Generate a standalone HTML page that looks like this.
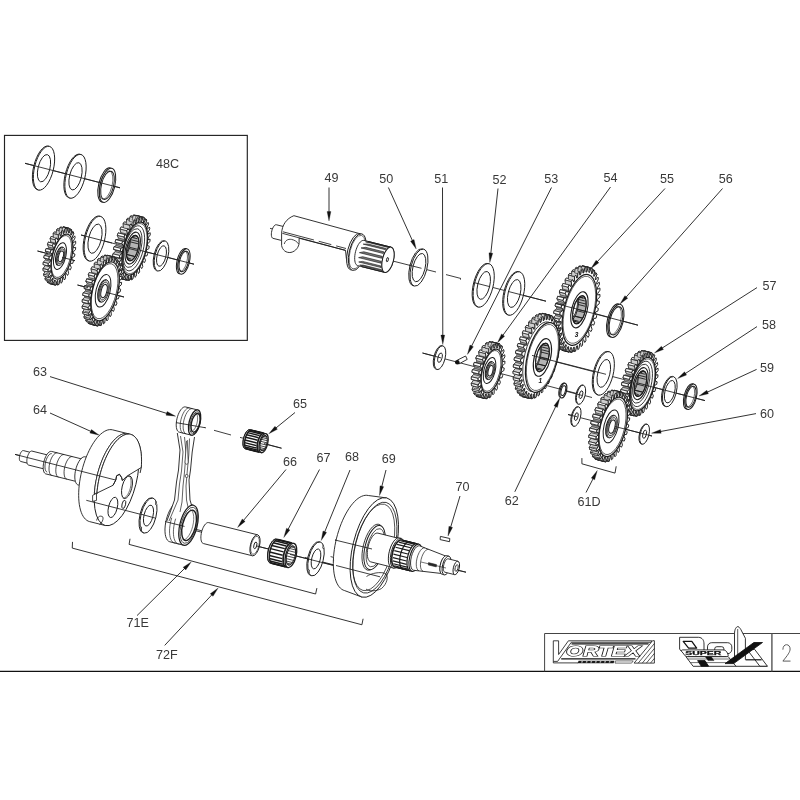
<!DOCTYPE html>
<html><head><meta charset="utf-8"><title>Exploded view</title>
<style>
html,body{margin:0;padding:0;background:#fff;}
body{width:800px;height:800px;overflow:hidden;}
svg{display:block;font-family:"Liberation Sans",sans-serif;}
svg{will-change:transform;}
</style></head>
<body>
<svg width="800" height="800" viewBox="0 0 800 800">
<defs>
<clipPath id="cl0"><ellipse cx="132.67" cy="248.07" rx="5.48" ry="13.04" transform="rotate(14 132.67 248.07)"/></clipPath>
<clipPath id="cl1"><ellipse cx="579.4" cy="309.8" rx="6.03" ry="14.36" transform="rotate(14 579.4 309.8)"/></clipPath>
<clipPath id="cl2"><ellipse cx="542.42" cy="357.48" rx="6.13" ry="14.59" transform="rotate(14 542.42 357.48)"/></clipPath>
<clipPath id="cl3"><ellipse cx="640.47" cy="383.67" rx="5.51" ry="13.12" transform="rotate(14 640.47 383.67)"/></clipPath>
<clipPath id="cl4"><ellipse cx="263.6" cy="443.2" rx="3.29" ry="7.84" transform="rotate(14 263.6 443.2)"/></clipPath>
<clipPath id="cl5"><ellipse cx="290.9" cy="555.5" rx="4.17" ry="9.92" transform="rotate(14 290.9 555.5)"/></clipPath>
</defs>
<rect x="0" y="0" width="800" height="800" fill="#fff"/>
<rect x="4.5" y="135.4" width="242.8" height="205" fill="none" stroke="#222" stroke-width="1.15"/>
<line x1="0" y1="671.4" x2="800" y2="671.4" stroke="#111" stroke-width="1.15"/>
<path d="M544.6 671.4 L544.6 633.5 L810 633.5" fill="none" stroke="#444" stroke-width="1.0"/>
<line x1="771.9" y1="633.5" x2="771.9" y2="671.4" stroke="#555" stroke-width="1.4"/>
<line x1="25" y1="163.3" x2="120" y2="187.8" stroke="#1c1c1c" stroke-width="0.85"/>
<line x1="37.5" y1="251" x2="75" y2="260.7" stroke="#1c1c1c" stroke-width="0.85"/>
<line x1="81" y1="235" x2="194" y2="264.2" stroke="#1c1c1c" stroke-width="0.85"/>
<line x1="77.5" y1="285" x2="124" y2="297" stroke="#1c1c1c" stroke-width="0.85"/>
<ellipse cx="43.03" cy="167.96" rx="9.45" ry="22.5" transform="rotate(14 43.03 167.96)" fill="#fff" stroke="#1c1c1c" stroke-width="0.9" />
<ellipse cx="44" cy="168.2" rx="9.45" ry="22.5" transform="rotate(14 44 168.2)" fill="#fff" stroke="#1c1c1c" stroke-width="0.9" />
<ellipse cx="44" cy="168.2" rx="5.88" ry="14" transform="rotate(14 44 168.2)" fill="#fff" stroke="#1c1c1c" stroke-width="0.9" />
<ellipse cx="74.53" cy="176.06" rx="9.45" ry="22.5" transform="rotate(14 74.53 176.06)" fill="#fff" stroke="#1c1c1c" stroke-width="0.9" />
<ellipse cx="75.5" cy="176.3" rx="9.45" ry="22.5" transform="rotate(14 75.5 176.3)" fill="#fff" stroke="#1c1c1c" stroke-width="0.9" />
<ellipse cx="75.5" cy="176.3" rx="5.88" ry="14" transform="rotate(14 75.5 176.3)" fill="#fff" stroke="#1c1c1c" stroke-width="0.9" />
<ellipse cx="106.04" cy="184.94" rx="7.35" ry="17.5" transform="rotate(14 106.04 184.94)" fill="#fff" stroke="#1c1c1c" stroke-width="1.0" />
<ellipse cx="107.5" cy="185.3" rx="7.35" ry="17.5" transform="rotate(14 107.5 185.3)" fill="#fff" stroke="#1c1c1c" stroke-width="1.0" />
<ellipse cx="107.5" cy="185.3" rx="6.09" ry="14.5" transform="rotate(14 107.5 185.3)" fill="#fff" stroke="#1c1c1c" stroke-width="1.0" />
<ellipse cx="106.04" cy="184.94" rx="6.09" ry="14.5" transform="rotate(14 106.04 184.94)" fill="none" stroke="#1c1c1c" stroke-width="0.6" />
<line x1="25" y1="163.3" x2="120" y2="187.8" stroke="#1c1c1c" stroke-width="0.85"/>
<path d="M66.85 257.96 L68.4 259.67 L67.69 262.1 L65.66 262.05 L65.12 263.59 L66.24 266.29 L65.32 268.53 L63.58 267.37 L62.92 268.74 L63.53 272.26 L62.45 274.19 L61.1 271.99 L60.36 273.12 L60.44 277.26 L59.26 278.75 L58.38 275.64 L57.6 276.46 L57.13 280.98 L55.93 281.96 L55.57 278.12 L54.79 278.58 L53.81 283.2 L52.65 283.61 L52.83 279.27 L52.1 279.34 L50.67 283.82 L49.62 283.63 L50.33 279.03 L49.69 278.71 L47.89 282.77 L47.01 282 L48.21 277.41 L47.7 276.72 L45.63 280.13 L44.97 278.82 L46.59 274.51 L46.24 273.49 L44.02 276.05 L43.62 274.28 L45.56 270.5 L45.39 269.2 L43.15 270.77 L43.04 268.63 L45.2 265.6 L45.22 264.11 L43.09 264.59 L43.26 262.21 L45.51 260.11 L45.71 258.51 L43.82 257.87 L44.27 255.4 L46.48 254.35 L46.86 252.73 L45.31 251.01 L46.02 248.58 L48.05 248.64 L48.58 247.09 L47.47 244.4 L48.39 242.15 L50.13 243.32 L50.79 241.94 L50.18 238.42 L51.26 236.49 L52.61 238.7 L53.35 237.56 L53.27 233.43 L54.45 231.93 L55.33 235.04 L56.11 234.22 L56.58 229.71 L57.78 228.73 L58.14 232.57 L58.92 232.11 L59.9 227.48 L61.06 227.07 L60.87 231.42 L61.61 231.34 L63.04 226.87 L64.09 227.06 L63.38 231.66 L64.02 231.97 L65.82 227.91 L66.7 228.69 L65.5 233.27 L66.01 233.96 L68.08 230.55 L68.74 231.86 L67.12 236.17 L67.47 237.19 L69.69 234.63 L70.09 236.41 L68.14 240.19 L68.32 241.48 L70.56 239.91 L70.67 242.05 L68.51 245.08 L68.49 246.57 L70.62 246.09 L70.45 248.47 L68.2 250.57 L68 252.17 L69.89 252.81 L69.44 255.29 L67.23 256.34 Z" fill="#8a8a8a" stroke="#1c1c1c" stroke-width="0.8" stroke-linejoin="round" />
<path d="M55.95 280.47 L50.9 279.21 L49.89 278.82 L48.95 278.17 L48.1 277.27 L47.34 276.13 L46.69 274.76 L46.15 273.18 L45.72 271.41 L45.42 269.46 L45.25 267.35 L45.2 265.11 L45.28 262.77 L45.48 260.34 L45.81 257.86 L46.26 255.35 L46.83 252.84 L47.51 250.36 L48.29 247.93 L49.16 245.59 L50.12 243.35 L51.15 241.24 L52.24 239.29 L53.39 237.51 L54.57 235.93 L55.78 234.56 L57 233.42 L58.21 232.52 L59.42 231.87 L60.59 231.47 L61.73 231.34 L62.81 231.47 L67.85 232.73 L67.85 232.73 L66.77 232.6 L65.64 232.73 L64.46 233.13 L63.26 233.78 L62.04 234.68 L60.82 235.82 L59.61 237.19 L58.43 238.77 L57.29 240.55 L56.19 242.5 L55.16 244.61 L54.2 246.85 L53.33 249.19 L52.55 251.62 L51.87 254.1 L51.31 256.61 L50.86 259.12 L50.53 261.6 L50.32 264.03 L50.24 266.37 L50.29 268.61 L50.47 270.71 L50.77 272.67 L51.19 274.44 L51.73 276.02 L52.39 277.39 L53.14 278.53 L53.99 279.43 L54.93 280.08 L55.95 280.47 Z" fill="#9a9a9a" stroke="none"/>
<path d="M57.7 284.87 L57.88 280.52 L52.83 279.27 L52.65 283.61 Z" fill="#cfcfcf" stroke="#1c1c1c" stroke-width="0.6" stroke-linejoin="round" />
<path d="M59.83 279.83 L58.86 284.46 L53.81 283.2 L54.79 278.58 Z" fill="#cfcfcf" stroke="#1c1c1c" stroke-width="0.6" stroke-linejoin="round" />
<path d="M58.86 284.46 L57.7 284.87 L52.65 283.61 L53.81 283.2 Z" fill="#fff" stroke="#1c1c1c" stroke-width="0.75" stroke-linejoin="round" />
<path d="M54.66 284.89 L55.38 280.28 L50.33 279.03 L49.62 283.63 Z" fill="#cfcfcf" stroke="#1c1c1c" stroke-width="0.6" stroke-linejoin="round" />
<path d="M57.15 280.6 L55.72 285.07 L50.67 283.82 L52.1 279.34 Z" fill="#cfcfcf" stroke="#1c1c1c" stroke-width="0.6" stroke-linejoin="round" />
<path d="M55.72 285.07 L54.66 284.89 L49.62 283.63 L50.67 283.82 Z" fill="#fff" stroke="#1c1c1c" stroke-width="0.75" stroke-linejoin="round" />
<path d="M52.05 283.26 L53.25 278.67 L48.21 277.41 L47.01 282 Z" fill="#cfcfcf" stroke="#1c1c1c" stroke-width="0.6" stroke-linejoin="round" />
<path d="M54.74 279.97 L52.93 284.03 L47.89 282.77 L49.69 278.71 Z" fill="#cfcfcf" stroke="#1c1c1c" stroke-width="0.6" stroke-linejoin="round" />
<path d="M52.93 284.03 L52.05 283.26 L47.01 282 L47.89 282.77 Z" fill="#fff" stroke="#1c1c1c" stroke-width="0.75" stroke-linejoin="round" />
<path d="M50.01 280.08 L51.63 275.77 L46.59 274.51 L44.97 278.82 Z" fill="#cfcfcf" stroke="#1c1c1c" stroke-width="0.6" stroke-linejoin="round" />
<path d="M52.75 277.98 L50.67 281.39 L45.63 280.13 L47.7 276.72 Z" fill="#cfcfcf" stroke="#1c1c1c" stroke-width="0.6" stroke-linejoin="round" />
<path d="M50.67 281.39 L50.01 280.08 L44.97 278.82 L45.63 280.13 Z" fill="#fff" stroke="#1c1c1c" stroke-width="0.75" stroke-linejoin="round" />
<path d="M48.66 275.53 L50.61 271.76 L45.56 270.5 L43.62 274.28 Z" fill="#cfcfcf" stroke="#1c1c1c" stroke-width="0.6" stroke-linejoin="round" />
<path d="M51.28 274.75 L49.06 277.31 L44.02 276.05 L46.24 273.49 Z" fill="#cfcfcf" stroke="#1c1c1c" stroke-width="0.6" stroke-linejoin="round" />
<path d="M49.06 277.31 L48.66 275.53 L43.62 274.28 L44.02 276.05 Z" fill="#fff" stroke="#1c1c1c" stroke-width="0.75" stroke-linejoin="round" />
<path d="M48.08 269.89 L50.24 266.86 L45.2 265.6 L43.04 268.63 Z" fill="#cfcfcf" stroke="#1c1c1c" stroke-width="0.6" stroke-linejoin="round" />
<path d="M50.44 270.46 L48.2 272.03 L43.15 270.77 L45.39 269.2 Z" fill="#cfcfcf" stroke="#1c1c1c" stroke-width="0.6" stroke-linejoin="round" />
<path d="M48.2 272.03 L48.08 269.89 L43.04 268.63 L43.15 270.77 Z" fill="#fff" stroke="#1c1c1c" stroke-width="0.75" stroke-linejoin="round" />
<path d="M48.3 263.47 L50.55 261.37 L45.51 260.11 L43.26 262.21 Z" fill="#cfcfcf" stroke="#1c1c1c" stroke-width="0.6" stroke-linejoin="round" />
<path d="M50.26 265.37 L48.13 265.85 L43.09 264.59 L45.22 264.11 Z" fill="#cfcfcf" stroke="#1c1c1c" stroke-width="0.6" stroke-linejoin="round" />
<path d="M48.13 265.85 L48.3 263.47 L43.26 262.21 L43.09 264.59 Z" fill="#fff" stroke="#1c1c1c" stroke-width="0.75" stroke-linejoin="round" />
<path d="M49.32 256.66 L51.52 255.6 L46.48 254.35 L44.27 255.4 Z" fill="#cfcfcf" stroke="#1c1c1c" stroke-width="0.6" stroke-linejoin="round" />
<path d="M50.76 259.77 L48.86 259.13 L43.82 257.87 L45.71 258.51 Z" fill="#cfcfcf" stroke="#1c1c1c" stroke-width="0.6" stroke-linejoin="round" />
<path d="M48.86 259.13 L49.32 256.66 L44.27 255.4 L43.82 257.87 Z" fill="#fff" stroke="#1c1c1c" stroke-width="0.75" stroke-linejoin="round" />
<path d="M51.06 249.84 L53.09 249.89 L48.05 248.64 L46.02 248.58 Z" fill="#cfcfcf" stroke="#1c1c1c" stroke-width="0.6" stroke-linejoin="round" />
<path d="M51.9 253.99 L50.36 252.27 L45.31 251.01 L46.86 252.73 Z" fill="#cfcfcf" stroke="#1c1c1c" stroke-width="0.6" stroke-linejoin="round" />
<path d="M50.36 252.27 L51.06 249.84 L46.02 248.58 L45.31 251.01 Z" fill="#fff" stroke="#1c1c1c" stroke-width="0.75" stroke-linejoin="round" />
<path d="M53.44 243.41 L55.18 244.57 L50.13 243.32 L48.39 242.15 Z" fill="#cfcfcf" stroke="#1c1c1c" stroke-width="0.6" stroke-linejoin="round" />
<path d="M53.63 248.35 L52.52 245.66 L47.47 244.4 L48.58 247.09 Z" fill="#cfcfcf" stroke="#1c1c1c" stroke-width="0.6" stroke-linejoin="round" />
<path d="M52.52 245.66 L53.44 243.41 L48.39 242.15 L47.47 244.4 Z" fill="#fff" stroke="#1c1c1c" stroke-width="0.75" stroke-linejoin="round" />
<path d="M56.3 237.75 L57.65 239.95 L52.61 238.7 L51.26 236.49 Z" fill="#cfcfcf" stroke="#1c1c1c" stroke-width="0.6" stroke-linejoin="round" />
<path d="M55.84 243.2 L55.22 239.68 L50.18 238.42 L50.79 241.94 Z" fill="#cfcfcf" stroke="#1c1c1c" stroke-width="0.6" stroke-linejoin="round" />
<path d="M55.22 239.68 L56.3 237.75 L51.26 236.49 L50.18 238.42 Z" fill="#fff" stroke="#1c1c1c" stroke-width="0.75" stroke-linejoin="round" />
<path d="M59.49 233.19 L60.37 236.3 L55.33 235.04 L54.45 231.93 Z" fill="#cfcfcf" stroke="#1c1c1c" stroke-width="0.6" stroke-linejoin="round" />
<path d="M58.4 238.82 L58.32 234.69 L53.27 233.43 L53.35 237.56 Z" fill="#cfcfcf" stroke="#1c1c1c" stroke-width="0.6" stroke-linejoin="round" />
<path d="M58.32 234.69 L59.49 233.19 L54.45 231.93 L53.27 233.43 Z" fill="#fff" stroke="#1c1c1c" stroke-width="0.75" stroke-linejoin="round" />
<path d="M62.83 229.98 L63.18 233.83 L58.14 232.57 L57.78 228.73 Z" fill="#cfcfcf" stroke="#1c1c1c" stroke-width="0.6" stroke-linejoin="round" />
<path d="M61.16 235.48 L61.62 230.97 L56.58 229.71 L56.11 234.22 Z" fill="#cfcfcf" stroke="#1c1c1c" stroke-width="0.6" stroke-linejoin="round" />
<path d="M61.62 230.97 L62.83 229.98 L57.78 228.73 L56.58 229.71 Z" fill="#fff" stroke="#1c1c1c" stroke-width="0.75" stroke-linejoin="round" />
<path d="M66.1 228.33 L65.92 232.68 L60.87 231.42 L61.06 227.07 Z" fill="#cfcfcf" stroke="#1c1c1c" stroke-width="0.6" stroke-linejoin="round" />
<path d="M63.97 233.37 L64.94 228.74 L59.9 227.48 L58.92 232.11 Z" fill="#cfcfcf" stroke="#1c1c1c" stroke-width="0.6" stroke-linejoin="round" />
<path d="M64.94 228.74 L66.1 228.33 L61.06 227.07 L59.9 227.48 Z" fill="#fff" stroke="#1c1c1c" stroke-width="0.75" stroke-linejoin="round" />
<path d="M69.14 228.31 L68.42 232.92 L63.38 231.66 L64.09 227.06 Z" fill="#cfcfcf" stroke="#1c1c1c" stroke-width="0.6" stroke-linejoin="round" />
<path d="M66.65 232.6 L68.08 228.13 L63.04 226.87 L61.61 231.34 Z" fill="#cfcfcf" stroke="#1c1c1c" stroke-width="0.6" stroke-linejoin="round" />
<path d="M68.08 228.13 L69.14 228.31 L64.09 227.06 L63.04 226.87 Z" fill="#fff" stroke="#1c1c1c" stroke-width="0.75" stroke-linejoin="round" />
<path d="M71.75 229.94 L70.55 234.53 L65.5 233.27 L66.7 228.69 Z" fill="#cfcfcf" stroke="#1c1c1c" stroke-width="0.6" stroke-linejoin="round" />
<path d="M69.06 233.23 L70.87 229.17 L65.82 227.91 L64.02 231.97 Z" fill="#cfcfcf" stroke="#1c1c1c" stroke-width="0.6" stroke-linejoin="round" />
<path d="M70.87 229.17 L71.75 229.94 L66.7 228.69 L65.82 227.91 Z" fill="#fff" stroke="#1c1c1c" stroke-width="0.75" stroke-linejoin="round" />
<path d="M73.79 233.12 L72.17 237.43 L67.12 236.17 L68.74 231.86 Z" fill="#cfcfcf" stroke="#1c1c1c" stroke-width="0.6" stroke-linejoin="round" />
<path d="M71.05 235.22 L73.13 231.81 L68.08 230.55 L66.01 233.96 Z" fill="#cfcfcf" stroke="#1c1c1c" stroke-width="0.6" stroke-linejoin="round" />
<path d="M73.13 231.81 L73.79 233.12 L68.74 231.86 L68.08 230.55 Z" fill="#fff" stroke="#1c1c1c" stroke-width="0.75" stroke-linejoin="round" />
<path d="M71.9 259.21 L73.44 260.93 L72.74 263.36 L70.71 263.31 L70.17 264.85 L71.28 267.54 L70.36 269.79 L68.62 268.63 L67.96 270 L68.58 273.52 L67.5 275.45 L66.15 273.25 L65.4 274.38 L65.48 278.51 L64.31 280.01 L63.43 276.9 L62.64 277.72 L62.18 282.23 L60.97 283.22 L60.62 279.37 L59.83 279.83 L58.86 284.46 L57.7 284.87 L57.88 280.52 L57.15 280.6 L55.72 285.07 L54.66 284.89 L55.38 280.28 L54.74 279.97 L52.93 284.03 L52.05 283.26 L53.25 278.67 L52.75 277.98 L50.67 281.39 L50.01 280.08 L51.63 275.77 L51.28 274.75 L49.06 277.31 L48.66 275.53 L50.61 271.76 L50.44 270.46 L48.2 272.03 L48.08 269.89 L50.24 266.86 L50.26 265.37 L48.13 265.85 L48.3 263.47 L50.55 261.37 L50.76 259.77 L48.86 259.13 L49.32 256.66 L51.52 255.6 L51.9 253.99 L50.36 252.27 L51.06 249.84 L53.09 249.89 L53.63 248.35 L52.52 245.66 L53.44 243.41 L55.18 244.57 L55.84 243.2 L55.22 239.68 L56.3 237.75 L57.65 239.95 L58.4 238.82 L58.32 234.69 L59.49 233.19 L60.37 236.3 L61.16 235.48 L61.62 230.97 L62.83 229.98 L63.18 233.83 L63.97 233.37 L64.94 228.74 L66.1 228.33 L65.92 232.68 L66.65 232.6 L68.08 228.13 L69.14 228.31 L68.42 232.92 L69.06 233.23 L70.87 229.17 L71.75 229.94 L70.55 234.53 L71.05 235.22 L73.13 231.81 L73.79 233.12 L72.17 237.43 L72.52 238.45 L74.74 235.89 L75.14 237.67 L73.19 241.44 L73.36 242.74 L75.6 241.17 L75.72 243.31 L73.56 246.34 L73.54 247.83 L75.67 247.35 L75.5 249.73 L73.25 251.83 L73.04 253.43 L74.94 254.07 L74.48 256.54 L72.28 257.6 Z" fill="#fff" stroke="#1c1c1c" stroke-width="0.95" stroke-linejoin="round" />
<ellipse cx="61.9" cy="256.6" rx="9.69" ry="23.07" transform="rotate(14 61.9 256.6)" fill="#fff" stroke="#1c1c1c" stroke-width="1.25" />
<ellipse cx="61.51" cy="256.5" rx="9.01" ry="21.46" transform="rotate(14 61.51 256.5)" fill="none" stroke="#1c1c1c" stroke-width="0.7" />
<ellipse cx="59.96" cy="256.12" rx="5.76" ry="13.72" transform="rotate(14 59.96 256.12)" fill="none" stroke="#1c1c1c" stroke-width="1.0" />
<ellipse cx="59.96" cy="256.12" rx="3.92" ry="9.34" transform="rotate(14 59.96 256.12)" fill="#d8d8d8" stroke="#1c1c1c" stroke-width="1.1" />
<ellipse cx="60.93" cy="256.36" rx="3.92" ry="9.34" transform="rotate(14 60.93 256.36)" fill="#e4e4e4" stroke="#1c1c1c" stroke-width="0.8" />
<ellipse cx="60.93" cy="256.36" rx="3.19" ry="7.59" transform="rotate(14 60.93 256.36)" fill="none" stroke="#1c1c1c" stroke-width="0.7" />
<ellipse cx="60.93" cy="256.36" rx="2.33" ry="5.55" transform="rotate(14 60.93 256.36)" fill="#fff" stroke="#1c1c1c" stroke-width="1.0" />
<ellipse cx="94.03" cy="238.46" rx="9.66" ry="23" transform="rotate(14 94.03 238.46)" fill="#fff" stroke="#1c1c1c" stroke-width="0.9" />
<ellipse cx="95" cy="238.7" rx="9.66" ry="23" transform="rotate(14 95 238.7)" fill="#fff" stroke="#1c1c1c" stroke-width="0.9" />
<ellipse cx="95" cy="238.7" rx="6.3" ry="15" transform="rotate(14 95 238.7)" fill="#fff" stroke="#1c1c1c" stroke-width="0.9" />
<path d="M139.31 249.85 L140.93 251.63 L140.2 254.16 L138.07 254.15 L137.52 255.78 L138.72 258.51 L137.78 260.87 L135.92 259.79 L135.25 261.26 L135.97 264.81 L134.88 266.88 L133.38 264.77 L132.62 266.02 L132.82 270.21 L131.62 271.88 L130.57 268.87 L129.75 269.82 L129.44 274.44 L128.19 275.64 L127.63 271.86 L126.81 272.48 L125.98 277.29 L124.75 277.95 L124.71 273.6 L123.92 273.85 L122.62 278.62 L121.47 278.71 L121.95 274 L121.23 273.87 L119.53 278.36 L118.52 277.87 L119.5 273.04 L118.89 272.54 L116.87 276.52 L116.04 275.48 L117.48 270.78 L117 269.92 L114.77 273.19 L114.17 271.66 L115.98 267.31 L115.67 266.15 L113.33 268.55 L112.99 266.6 L115.08 262.82 L114.95 261.41 L112.62 262.82 L112.56 260.55 L114.84 257.54 L114.89 255.95 L112.69 256.29 L112.91 253.81 L115.25 251.72 L115.48 250.03 L113.53 249.3 L114.01 246.73 L116.31 245.66 L116.71 243.96 L115.09 242.18 L115.82 239.66 L117.95 239.66 L118.5 238.04 L117.3 235.3 L118.23 232.95 L120.09 234.03 L120.77 232.55 L120.05 229 L121.14 226.94 L122.63 229.04 L123.4 227.79 L123.19 223.6 L124.39 221.93 L125.44 224.95 L126.26 223.99 L126.58 219.37 L127.83 218.17 L128.38 221.96 L129.21 221.34 L130.04 216.52 L131.27 215.86 L131.31 220.22 L132.1 219.97 L133.4 215.19 L134.55 215.1 L134.06 219.81 L134.78 219.95 L136.48 215.46 L137.5 215.94 L136.51 220.77 L137.13 221.28 L139.14 217.3 L139.97 218.33 L138.54 223.04 L139.02 223.89 L141.25 220.62 L141.85 222.15 L140.04 226.5 L140.35 227.66 L142.69 225.27 L143.03 227.22 L140.93 230.99 L141.07 232.4 L143.39 230.99 L143.46 233.27 L141.18 236.27 L141.13 237.86 L143.32 237.52 L143.11 240 L140.76 242.09 L140.53 243.78 L142.49 244.52 L142.01 247.08 L139.71 248.15 Z" fill="#8a8a8a" stroke="#1c1c1c" stroke-width="0.8" stroke-linejoin="round" />
<path d="M128.07 275.57 L121.28 273.88 L120.14 273.44 L119.07 272.7 L118.11 271.69 L117.26 270.4 L116.52 268.85 L115.91 267.07 L115.43 265.06 L115.09 262.86 L114.89 260.48 L114.83 257.95 L114.92 255.3 L115.15 252.56 L115.53 249.75 L116.04 246.92 L116.68 244.08 L117.44 241.28 L118.32 238.54 L119.31 235.88 L120.39 233.35 L121.56 230.97 L122.8 228.77 L124.09 226.76 L125.43 224.97 L126.79 223.42 L128.17 222.13 L129.54 221.12 L130.9 220.38 L132.23 219.93 L133.51 219.78 L134.73 219.93 L141.53 221.63 L141.53 221.63 L140.3 221.48 L139.02 221.63 L137.7 222.07 L136.34 222.81 L134.96 223.83 L133.58 225.12 L132.22 226.66 L130.88 228.45 L129.59 230.46 L128.35 232.67 L127.19 235.05 L126.1 237.58 L125.12 240.23 L124.24 242.97 L123.47 245.78 L122.83 248.61 L122.32 251.45 L121.95 254.25 L121.71 256.99 L121.63 259.64 L121.68 262.17 L121.88 264.55 L122.22 266.76 L122.7 268.76 L123.31 270.55 L124.05 272.09 L124.9 273.38 L125.87 274.4 L126.93 275.13 L128.07 275.57 Z" fill="#9a9a9a" stroke="none"/>
<path d="M131.54 279.65 L131.5 275.29 L124.71 273.6 L124.75 277.95 Z" fill="#cfcfcf" stroke="#1c1c1c" stroke-width="0.6" stroke-linejoin="round" />
<path d="M133.6 274.17 L132.77 278.99 L125.98 277.29 L126.81 272.48 Z" fill="#cfcfcf" stroke="#1c1c1c" stroke-width="0.6" stroke-linejoin="round" />
<path d="M132.77 278.99 L131.54 279.65 L124.75 277.95 L125.98 277.29 Z" fill="#fff" stroke="#1c1c1c" stroke-width="0.75" stroke-linejoin="round" />
<path d="M128.26 280.4 L128.75 275.69 L121.95 274 L121.47 278.71 Z" fill="#cfcfcf" stroke="#1c1c1c" stroke-width="0.6" stroke-linejoin="round" />
<path d="M130.71 275.54 L129.41 280.31 L122.62 278.62 L123.92 273.85 Z" fill="#cfcfcf" stroke="#1c1c1c" stroke-width="0.6" stroke-linejoin="round" />
<path d="M129.41 280.31 L128.26 280.4 L121.47 278.71 L122.62 278.62 Z" fill="#fff" stroke="#1c1c1c" stroke-width="0.75" stroke-linejoin="round" />
<path d="M125.31 279.57 L126.29 274.74 L119.5 273.04 L118.52 277.87 Z" fill="#cfcfcf" stroke="#1c1c1c" stroke-width="0.6" stroke-linejoin="round" />
<path d="M128.02 275.56 L126.33 280.05 L119.53 278.36 L121.23 273.87 Z" fill="#cfcfcf" stroke="#1c1c1c" stroke-width="0.6" stroke-linejoin="round" />
<path d="M126.33 280.05 L125.31 279.57 L118.52 277.87 L119.53 278.36 Z" fill="#fff" stroke="#1c1c1c" stroke-width="0.75" stroke-linejoin="round" />
<path d="M122.84 277.18 L124.27 272.47 L117.48 270.78 L116.04 275.48 Z" fill="#cfcfcf" stroke="#1c1c1c" stroke-width="0.6" stroke-linejoin="round" />
<path d="M125.68 274.23 L123.66 278.21 L116.87 276.52 L118.89 272.54 Z" fill="#cfcfcf" stroke="#1c1c1c" stroke-width="0.6" stroke-linejoin="round" />
<path d="M123.66 278.21 L122.84 277.18 L116.04 275.48 L116.87 276.52 Z" fill="#fff" stroke="#1c1c1c" stroke-width="0.75" stroke-linejoin="round" />
<path d="M120.96 273.35 L122.77 269 L115.98 267.31 L114.17 271.66 Z" fill="#cfcfcf" stroke="#1c1c1c" stroke-width="0.6" stroke-linejoin="round" />
<path d="M123.79 271.61 L121.56 274.89 L114.77 273.19 L117 269.92 Z" fill="#cfcfcf" stroke="#1c1c1c" stroke-width="0.6" stroke-linejoin="round" />
<path d="M121.56 274.89 L120.96 273.35 L114.17 271.66 L114.77 273.19 Z" fill="#fff" stroke="#1c1c1c" stroke-width="0.75" stroke-linejoin="round" />
<path d="M119.78 268.29 L121.88 264.52 L115.08 262.82 L112.99 266.6 Z" fill="#cfcfcf" stroke="#1c1c1c" stroke-width="0.6" stroke-linejoin="round" />
<path d="M122.46 267.84 L120.12 270.24 L113.33 268.55 L115.67 266.15 Z" fill="#cfcfcf" stroke="#1c1c1c" stroke-width="0.6" stroke-linejoin="round" />
<path d="M120.12 270.24 L119.78 268.29 L112.99 266.6 L113.33 268.55 Z" fill="#fff" stroke="#1c1c1c" stroke-width="0.75" stroke-linejoin="round" />
<path d="M119.35 262.24 L121.63 259.23 L114.84 257.54 L112.56 260.55 Z" fill="#cfcfcf" stroke="#1c1c1c" stroke-width="0.6" stroke-linejoin="round" />
<path d="M121.74 263.11 L119.42 264.51 L112.62 262.82 L114.95 261.41 Z" fill="#cfcfcf" stroke="#1c1c1c" stroke-width="0.6" stroke-linejoin="round" />
<path d="M119.42 264.51 L119.35 262.24 L112.56 260.55 L112.62 262.82 Z" fill="#fff" stroke="#1c1c1c" stroke-width="0.75" stroke-linejoin="round" />
<path d="M119.7 255.5 L122.04 253.41 L115.25 251.72 L112.91 253.81 Z" fill="#cfcfcf" stroke="#1c1c1c" stroke-width="0.6" stroke-linejoin="round" />
<path d="M121.68 257.64 L119.48 257.99 L112.69 256.29 L114.89 255.95 Z" fill="#cfcfcf" stroke="#1c1c1c" stroke-width="0.6" stroke-linejoin="round" />
<path d="M119.48 257.99 L119.7 255.5 L112.91 253.81 L112.69 256.29 Z" fill="#fff" stroke="#1c1c1c" stroke-width="0.75" stroke-linejoin="round" />
<path d="M120.8 248.42 L123.1 247.35 L116.31 245.66 L114.01 246.73 Z" fill="#cfcfcf" stroke="#1c1c1c" stroke-width="0.6" stroke-linejoin="round" />
<path d="M122.28 251.73 L120.32 250.99 L113.53 249.3 L115.48 250.03 Z" fill="#cfcfcf" stroke="#1c1c1c" stroke-width="0.6" stroke-linejoin="round" />
<path d="M120.32 250.99 L120.8 248.42 L114.01 246.73 L113.53 249.3 Z" fill="#fff" stroke="#1c1c1c" stroke-width="0.75" stroke-linejoin="round" />
<path d="M122.61 241.35 L124.74 241.36 L117.95 239.66 L115.82 239.66 Z" fill="#cfcfcf" stroke="#1c1c1c" stroke-width="0.6" stroke-linejoin="round" />
<path d="M123.5 245.65 L121.88 243.87 L115.09 242.18 L116.71 243.96 Z" fill="#cfcfcf" stroke="#1c1c1c" stroke-width="0.6" stroke-linejoin="round" />
<path d="M121.88 243.87 L122.61 241.35 L115.82 239.66 L115.09 242.18 Z" fill="#fff" stroke="#1c1c1c" stroke-width="0.75" stroke-linejoin="round" />
<path d="M125.03 234.64 L126.88 235.72 L120.09 234.03 L118.23 232.95 Z" fill="#cfcfcf" stroke="#1c1c1c" stroke-width="0.6" stroke-linejoin="round" />
<path d="M125.29 239.73 L124.09 236.99 L117.3 235.3 L118.5 238.04 Z" fill="#cfcfcf" stroke="#1c1c1c" stroke-width="0.6" stroke-linejoin="round" />
<path d="M124.09 236.99 L125.03 234.64 L118.23 232.95 L117.3 235.3 Z" fill="#fff" stroke="#1c1c1c" stroke-width="0.75" stroke-linejoin="round" />
<path d="M127.93 228.63 L129.43 230.73 L122.63 229.04 L121.14 226.94 Z" fill="#cfcfcf" stroke="#1c1c1c" stroke-width="0.6" stroke-linejoin="round" />
<path d="M127.56 234.25 L126.84 230.69 L120.05 229 L120.77 232.55 Z" fill="#cfcfcf" stroke="#1c1c1c" stroke-width="0.6" stroke-linejoin="round" />
<path d="M126.84 230.69 L127.93 228.63 L121.14 226.94 L120.05 229 Z" fill="#fff" stroke="#1c1c1c" stroke-width="0.75" stroke-linejoin="round" />
<path d="M131.18 223.62 L132.24 226.64 L125.44 224.95 L124.39 221.93 Z" fill="#cfcfcf" stroke="#1c1c1c" stroke-width="0.6" stroke-linejoin="round" />
<path d="M130.19 229.49 L129.98 225.29 L123.19 223.6 L123.4 227.79 Z" fill="#cfcfcf" stroke="#1c1c1c" stroke-width="0.6" stroke-linejoin="round" />
<path d="M129.98 225.29 L131.18 223.62 L124.39 221.93 L123.19 223.6 Z" fill="#fff" stroke="#1c1c1c" stroke-width="0.75" stroke-linejoin="round" />
<path d="M134.62 219.87 L135.18 223.65 L128.38 221.96 L127.83 218.17 Z" fill="#cfcfcf" stroke="#1c1c1c" stroke-width="0.6" stroke-linejoin="round" />
<path d="M133.05 225.68 L133.37 221.06 L126.58 219.37 L126.26 223.99 Z" fill="#cfcfcf" stroke="#1c1c1c" stroke-width="0.6" stroke-linejoin="round" />
<path d="M133.37 221.06 L134.62 219.87 L127.83 218.17 L126.58 219.37 Z" fill="#fff" stroke="#1c1c1c" stroke-width="0.75" stroke-linejoin="round" />
<path d="M138.06 217.55 L138.1 221.91 L131.31 220.22 L131.27 215.86 Z" fill="#cfcfcf" stroke="#1c1c1c" stroke-width="0.6" stroke-linejoin="round" />
<path d="M136 223.03 L136.83 218.21 L130.04 216.52 L129.21 221.34 Z" fill="#cfcfcf" stroke="#1c1c1c" stroke-width="0.6" stroke-linejoin="round" />
<path d="M136.83 218.21 L138.06 217.55 L131.27 215.86 L130.04 216.52 Z" fill="#fff" stroke="#1c1c1c" stroke-width="0.75" stroke-linejoin="round" />
<path d="M141.34 216.8 L140.85 221.51 L134.06 219.81 L134.55 215.1 Z" fill="#cfcfcf" stroke="#1c1c1c" stroke-width="0.6" stroke-linejoin="round" />
<path d="M138.89 221.66 L140.19 216.89 L133.4 215.19 L132.1 219.97 Z" fill="#cfcfcf" stroke="#1c1c1c" stroke-width="0.6" stroke-linejoin="round" />
<path d="M140.19 216.89 L141.34 216.8 L134.55 215.1 L133.4 215.19 Z" fill="#fff" stroke="#1c1c1c" stroke-width="0.75" stroke-linejoin="round" />
<path d="M144.29 217.63 L143.31 222.46 L136.51 220.77 L137.5 215.94 Z" fill="#cfcfcf" stroke="#1c1c1c" stroke-width="0.6" stroke-linejoin="round" />
<path d="M141.58 221.64 L143.27 217.15 L136.48 215.46 L134.78 219.95 Z" fill="#cfcfcf" stroke="#1c1c1c" stroke-width="0.6" stroke-linejoin="round" />
<path d="M143.27 217.15 L144.29 217.63 L137.5 215.94 L136.48 215.46 Z" fill="#fff" stroke="#1c1c1c" stroke-width="0.75" stroke-linejoin="round" />
<path d="M146.76 220.02 L145.33 224.73 L138.54 223.04 L139.97 218.33 Z" fill="#cfcfcf" stroke="#1c1c1c" stroke-width="0.6" stroke-linejoin="round" />
<path d="M143.92 222.97 L145.94 218.99 L139.14 217.3 L137.13 221.28 Z" fill="#cfcfcf" stroke="#1c1c1c" stroke-width="0.6" stroke-linejoin="round" />
<path d="M145.94 218.99 L146.76 220.02 L139.97 218.33 L139.14 217.3 Z" fill="#fff" stroke="#1c1c1c" stroke-width="0.75" stroke-linejoin="round" />
<path d="M146.1 251.55 L147.72 253.33 L146.99 255.85 L144.86 255.84 L144.31 257.47 L145.51 260.21 L144.57 262.56 L142.72 261.48 L142.04 262.95 L142.76 266.51 L141.67 268.57 L140.17 266.47 L139.41 267.71 L139.62 271.91 L138.42 273.58 L137.36 270.56 L136.55 271.52 L136.23 276.14 L134.98 277.33 L134.42 273.55 L133.6 274.17 L132.77 278.99 L131.54 279.65 L131.5 275.29 L130.71 275.54 L129.41 280.31 L128.26 280.4 L128.75 275.69 L128.02 275.56 L126.33 280.05 L125.31 279.57 L126.29 274.74 L125.68 274.23 L123.66 278.21 L122.84 277.18 L124.27 272.47 L123.79 271.61 L121.56 274.89 L120.96 273.35 L122.77 269 L122.46 267.84 L120.12 270.24 L119.78 268.29 L121.88 264.52 L121.74 263.11 L119.42 264.51 L119.35 262.24 L121.63 259.23 L121.68 257.64 L119.48 257.99 L119.7 255.5 L122.04 253.41 L122.28 251.73 L120.32 250.99 L120.8 248.42 L123.1 247.35 L123.5 245.65 L121.88 243.87 L122.61 241.35 L124.74 241.36 L125.29 239.73 L124.09 236.99 L125.03 234.64 L126.88 235.72 L127.56 234.25 L126.84 230.69 L127.93 228.63 L129.43 230.73 L130.19 229.49 L129.98 225.29 L131.18 223.62 L132.24 226.64 L133.05 225.68 L133.37 221.06 L134.62 219.87 L135.18 223.65 L136 223.03 L136.83 218.21 L138.06 217.55 L138.1 221.91 L138.89 221.66 L140.19 216.89 L141.34 216.8 L140.85 221.51 L141.58 221.64 L143.27 217.15 L144.29 217.63 L143.31 222.46 L143.92 222.97 L145.94 218.99 L146.76 220.02 L145.33 224.73 L145.81 225.59 L148.04 222.31 L148.64 223.85 L146.83 228.2 L147.14 229.36 L149.48 226.96 L149.82 228.91 L147.72 232.68 L147.86 234.09 L150.18 232.69 L150.25 234.96 L147.97 237.97 L147.92 239.56 L150.12 239.21 L149.9 241.7 L147.56 243.79 L147.32 245.47 L149.28 246.21 L148.8 248.78 L146.5 249.85 Z" fill="#fff" stroke="#1c1c1c" stroke-width="0.95" stroke-linejoin="round" />
<ellipse cx="134.8" cy="248.6" rx="11.43" ry="27.22" transform="rotate(14 134.8 248.6)" fill="#fff" stroke="#1c1c1c" stroke-width="1.25" />
<ellipse cx="134.8" cy="248.6" rx="10.82" ry="25.75" transform="rotate(14 134.8 248.6)" fill="none" stroke="#1c1c1c" stroke-width="0.6" />
<ellipse cx="133.64" cy="248.31" rx="9.72" ry="23.15" transform="rotate(14 133.64 248.31)" fill="none" stroke="#1c1c1c" stroke-width="0.8" />
<ellipse cx="132.67" cy="248.07" rx="8.35" ry="19.89" transform="rotate(14 132.67 248.07)" fill="none" stroke="#1c1c1c" stroke-width="0.8" />
<ellipse cx="132.67" cy="248.07" rx="6.85" ry="16.3" transform="rotate(14 132.67 248.07)" fill="#fff" stroke="#1c1c1c" stroke-width="1.1" />
<ellipse cx="132.67" cy="248.07" rx="5.48" ry="13.04" transform="rotate(14 132.67 248.07)" fill="#fff" stroke="#1c1c1c" stroke-width="1.0" />
<g clip-path="url(#cl0)">
<ellipse cx="132.67" cy="248.07" rx="5.48" ry="13.04" transform="rotate(14 132.67 248.07)" fill="#b4b4b4" stroke="#1c1c1c" stroke-width="0.5" />
<ellipse cx="124.18" cy="245.95" rx="4.6" ry="10.95" transform="rotate(14 124.18 245.95)" fill="#fff" stroke="#1c1c1c" stroke-width="0.8" />
<path d="M137.98 249.39L129.83 247.36M136.88 250.5L128.73 248.47M135.11 256.58L126.96 254.54M134.17 256.31L126.02 254.27M131.31 260.51L123.16 258.48M130.89 258.96L122.73 256.93M128.02 259.69L119.87 257.66M128.28 257.46L120.13 255.43M126.51 254.43L118.36 252.4M127.35 252.37L119.2 250.34M127.35 246.74L119.2 244.71M128.45 245.63L120.3 243.6M130.22 239.56L122.07 237.53M131.16 239.83L123.01 237.8M134.02 235.62L125.87 233.59M134.45 237.17L126.3 235.14M137.31 236.44L129.16 234.41M137.05 238.68L128.9 236.64M138.82 241.7L130.67 239.67M137.98 243.77L129.83 241.74" fill="none" stroke="#1c1c1c" stroke-width="0.9" stroke-linejoin="round" />
<ellipse cx="124.18" cy="245.95" rx="5.48" ry="13.04" transform="rotate(14 124.18 245.95)" fill="none" stroke="#1c1c1c" stroke-width="0.8" />
</g>
<ellipse cx="132.67" cy="248.07" rx="5.48" ry="13.04" transform="rotate(14 132.67 248.07)" fill="none" stroke="#1c1c1c" stroke-width="1.1" />
<line x1="81" y1="235" x2="112" y2="243" stroke="#1c1c1c" stroke-width="0.85"/>
<path d="M111.55 293.06 L113.09 294.8 L112.39 297.29 L110.32 297.38 L109.77 299.03 L110.96 301.6 L110.06 303.94 L108.22 303.1 L107.56 304.62 L108.33 307.91 L107.29 310.01 L105.74 308.28 L105 309.6 L105.33 313.48 L104.17 315.26 L102.99 312.69 L102.18 313.77 L102.06 318.08 L100.85 319.47 L100.07 316.17 L99.24 316.96 L98.67 321.53 L97.44 322.46 L97.11 318.57 L96.29 319.04 L95.29 323.67 L94.1 324.11 L94.22 319.79 L93.45 319.92 L92.06 324.43 L90.96 324.36 L91.53 319.79 L90.83 319.57 L89.11 323.77 L88.15 323.19 L89.15 318.55 L88.55 318 L86.57 321.72 L85.78 320.66 L87.17 316.14 L86.69 315.27 L84.54 318.37 L83.95 316.86 L85.67 312.65 L85.34 311.5 L83.1 313.84 L82.74 311.96 L84.71 308.23 L84.55 306.85 L82.31 308.33 L82.19 306.15 L84.34 303.05 L84.35 301.49 L82.2 302.06 L82.33 299.67 L84.57 297.33 L84.75 295.66 L82.78 295.29 L83.15 292.78 L85.39 291.3 L85.73 289.59 L84.02 288.29 L84.62 285.77 L86.77 285.21 L87.25 283.52 L85.88 281.36 L86.68 278.93 L88.65 279.3 L89.25 277.72 L88.27 274.77 L89.24 272.54 L90.95 273.83 L91.65 272.4 L91.1 268.8 L92.2 266.84 L93.57 269.01 L94.36 267.8 L94.25 263.68 L95.44 262.09 L96.42 265.04 L97.25 264.11 L97.6 259.64 L98.82 258.48 L99.38 262.09 L100.21 261.46 L101 256.83 L102.21 256.14 L102.32 260.27 L103.12 259.97 L104.32 255.37 L105.47 255.19 L105.12 259.65 L105.86 259.7 L107.43 255.32 L108.46 255.65 L107.67 260.28 L108.33 260.67 L110.18 256.68 L111.07 257.51 L109.87 262.11 L110.4 262.83 L112.48 259.4 L113.18 260.69 L111.62 265.07 L112.02 266.09 L114.23 263.36 L114.7 265.06 L112.85 269.05 L113.09 270.33 L115.35 268.41 L115.59 270.45 L113.51 273.88 L113.59 275.36 L115.8 274.33 L115.79 276.63 L113.58 279.36 L113.5 280.98 L115.56 280.88 L115.31 283.34 L113.06 285.26 L112.8 286.96 L114.65 287.8 L114.16 290.33 L111.95 291.36 Z" fill="#8a8a8a" stroke="#1c1c1c" stroke-width="0.8" stroke-linejoin="round" />
<path d="M97.52 321.28 L91.51 319.78 L90.23 319.29 L89.05 318.47 L87.98 317.34 L87.03 315.91 L86.21 314.2 L85.53 312.21 L85 309.98 L84.62 307.53 L84.4 304.88 L84.34 302.07 L84.44 299.13 L84.7 296.08 L85.11 292.96 L85.68 289.81 L86.39 286.66 L87.24 283.54 L88.22 280.5 L89.32 277.55 L90.52 274.74 L91.82 272.09 L93.19 269.64 L94.63 267.4 L96.11 265.42 L97.63 263.7 L99.16 262.26 L100.69 261.13 L102.2 260.32 L103.68 259.82 L105.1 259.65 L106.46 259.82 L112.48 261.32 L112.48 261.32 L111.12 261.15 L109.69 261.32 L108.22 261.82 L106.71 262.63 L105.18 263.76 L103.65 265.2 L102.13 266.92 L100.64 268.9 L99.21 271.14 L97.83 273.59 L96.54 276.24 L95.33 279.05 L94.24 282 L93.26 285.04 L92.41 288.16 L91.7 291.31 L91.13 294.46 L90.71 297.58 L90.46 300.63 L90.36 303.57 L90.42 306.38 L90.64 309.03 L91.02 311.48 L91.55 313.71 L92.23 315.7 L93.05 317.41 L94 318.84 L95.07 319.97 L96.25 320.79 L97.52 321.28 Z" fill="#9a9a9a" stroke="none"/>
<path d="M100.12 325.61 L100.24 321.29 L94.22 319.79 L94.1 324.11 Z" fill="#cfcfcf" stroke="#1c1c1c" stroke-width="0.6" stroke-linejoin="round" />
<path d="M102.31 320.54 L101.3 325.17 L95.29 323.67 L96.29 319.04 Z" fill="#cfcfcf" stroke="#1c1c1c" stroke-width="0.6" stroke-linejoin="round" />
<path d="M101.3 325.17 L100.12 325.61 L94.1 324.11 L95.29 323.67 Z" fill="#fff" stroke="#1c1c1c" stroke-width="0.75" stroke-linejoin="round" />
<path d="M96.98 325.86 L97.55 321.29 L91.53 319.79 L90.96 324.36 Z" fill="#cfcfcf" stroke="#1c1c1c" stroke-width="0.6" stroke-linejoin="round" />
<path d="M99.46 321.42 L98.07 325.93 L92.06 324.43 L93.45 319.92 Z" fill="#cfcfcf" stroke="#1c1c1c" stroke-width="0.6" stroke-linejoin="round" />
<path d="M98.07 325.93 L96.98 325.86 L90.96 324.36 L92.06 324.43 Z" fill="#fff" stroke="#1c1c1c" stroke-width="0.75" stroke-linejoin="round" />
<path d="M94.16 324.69 L95.16 320.05 L89.15 318.55 L88.15 323.19 Z" fill="#cfcfcf" stroke="#1c1c1c" stroke-width="0.6" stroke-linejoin="round" />
<path d="M96.85 321.07 L95.13 325.27 L89.11 323.77 L90.83 319.57 Z" fill="#cfcfcf" stroke="#1c1c1c" stroke-width="0.6" stroke-linejoin="round" />
<path d="M95.13 325.27 L94.16 324.69 L88.15 323.19 L89.11 323.77 Z" fill="#fff" stroke="#1c1c1c" stroke-width="0.75" stroke-linejoin="round" />
<path d="M91.79 322.16 L93.18 317.64 L87.17 316.14 L85.78 320.66 Z" fill="#cfcfcf" stroke="#1c1c1c" stroke-width="0.6" stroke-linejoin="round" />
<path d="M94.57 319.5 L92.59 323.22 L86.57 321.72 L88.55 318 Z" fill="#cfcfcf" stroke="#1c1c1c" stroke-width="0.6" stroke-linejoin="round" />
<path d="M92.59 323.22 L91.79 322.16 L85.78 320.66 L86.57 321.72 Z" fill="#fff" stroke="#1c1c1c" stroke-width="0.75" stroke-linejoin="round" />
<path d="M89.97 318.36 L91.68 314.15 L85.67 312.65 L83.95 316.86 Z" fill="#cfcfcf" stroke="#1c1c1c" stroke-width="0.6" stroke-linejoin="round" />
<path d="M92.71 316.77 L90.56 319.87 L84.54 318.37 L86.69 315.27 Z" fill="#cfcfcf" stroke="#1c1c1c" stroke-width="0.6" stroke-linejoin="round" />
<path d="M90.56 319.87 L89.97 318.36 L83.95 316.86 L84.54 318.37 Z" fill="#fff" stroke="#1c1c1c" stroke-width="0.75" stroke-linejoin="round" />
<path d="M88.75 313.46 L90.73 309.73 L84.71 308.23 L82.74 311.96 Z" fill="#cfcfcf" stroke="#1c1c1c" stroke-width="0.6" stroke-linejoin="round" />
<path d="M91.36 313 L89.12 315.34 L83.1 313.84 L85.34 311.5 Z" fill="#cfcfcf" stroke="#1c1c1c" stroke-width="0.6" stroke-linejoin="round" />
<path d="M89.12 315.34 L88.75 313.46 L82.74 311.96 L83.1 313.84 Z" fill="#fff" stroke="#1c1c1c" stroke-width="0.75" stroke-linejoin="round" />
<path d="M88.21 307.65 L90.36 304.55 L84.34 303.05 L82.19 306.15 Z" fill="#cfcfcf" stroke="#1c1c1c" stroke-width="0.6" stroke-linejoin="round" />
<path d="M90.57 308.35 L88.32 309.83 L82.31 308.33 L84.55 306.85 Z" fill="#cfcfcf" stroke="#1c1c1c" stroke-width="0.6" stroke-linejoin="round" />
<path d="M88.32 309.83 L88.21 307.65 L82.19 306.15 L82.31 308.33 Z" fill="#fff" stroke="#1c1c1c" stroke-width="0.75" stroke-linejoin="round" />
<path d="M88.35 301.17 L90.59 298.83 L84.57 297.33 L82.33 299.67 Z" fill="#cfcfcf" stroke="#1c1c1c" stroke-width="0.6" stroke-linejoin="round" />
<path d="M90.36 302.99 L88.22 303.56 L82.2 302.06 L84.35 301.49 Z" fill="#cfcfcf" stroke="#1c1c1c" stroke-width="0.6" stroke-linejoin="round" />
<path d="M88.22 303.56 L88.35 301.17 L82.33 299.67 L82.2 302.06 Z" fill="#fff" stroke="#1c1c1c" stroke-width="0.75" stroke-linejoin="round" />
<path d="M89.17 294.28 L91.41 292.8 L85.39 291.3 L83.15 292.78 Z" fill="#cfcfcf" stroke="#1c1c1c" stroke-width="0.6" stroke-linejoin="round" />
<path d="M90.76 297.16 L88.8 296.79 L82.78 295.29 L84.75 295.66 Z" fill="#cfcfcf" stroke="#1c1c1c" stroke-width="0.6" stroke-linejoin="round" />
<path d="M88.8 296.79 L89.17 294.28 L83.15 292.78 L82.78 295.29 Z" fill="#fff" stroke="#1c1c1c" stroke-width="0.75" stroke-linejoin="round" />
<path d="M90.64 287.27 L92.79 286.71 L86.77 285.21 L84.62 285.77 Z" fill="#cfcfcf" stroke="#1c1c1c" stroke-width="0.6" stroke-linejoin="round" />
<path d="M91.74 291.09 L90.04 289.79 L84.02 288.29 L85.73 289.59 Z" fill="#cfcfcf" stroke="#1c1c1c" stroke-width="0.6" stroke-linejoin="round" />
<path d="M90.04 289.79 L90.64 287.27 L84.62 285.77 L84.02 288.29 Z" fill="#fff" stroke="#1c1c1c" stroke-width="0.75" stroke-linejoin="round" />
<path d="M92.7 280.43 L94.66 280.8 L88.65 279.3 L86.68 278.93 Z" fill="#cfcfcf" stroke="#1c1c1c" stroke-width="0.6" stroke-linejoin="round" />
<path d="M93.26 285.02 L91.89 282.86 L85.88 281.36 L87.25 283.52 Z" fill="#cfcfcf" stroke="#1c1c1c" stroke-width="0.6" stroke-linejoin="round" />
<path d="M91.89 282.86 L92.7 280.43 L86.68 278.93 L85.88 281.36 Z" fill="#fff" stroke="#1c1c1c" stroke-width="0.75" stroke-linejoin="round" />
<path d="M95.26 274.04 L96.96 275.33 L90.95 273.83 L89.24 272.54 Z" fill="#cfcfcf" stroke="#1c1c1c" stroke-width="0.6" stroke-linejoin="round" />
<path d="M95.27 279.22 L94.28 276.27 L88.27 274.77 L89.25 277.72 Z" fill="#cfcfcf" stroke="#1c1c1c" stroke-width="0.6" stroke-linejoin="round" />
<path d="M94.28 276.27 L95.26 274.04 L89.24 272.54 L88.27 274.77 Z" fill="#fff" stroke="#1c1c1c" stroke-width="0.75" stroke-linejoin="round" />
<path d="M98.22 268.34 L99.59 270.51 L93.57 269.01 L92.2 266.84 Z" fill="#cfcfcf" stroke="#1c1c1c" stroke-width="0.6" stroke-linejoin="round" />
<path d="M97.67 273.9 L97.11 270.3 L91.1 268.8 L91.65 272.4 Z" fill="#cfcfcf" stroke="#1c1c1c" stroke-width="0.6" stroke-linejoin="round" />
<path d="M97.11 270.3 L98.22 268.34 L92.2 266.84 L91.1 268.8 Z" fill="#fff" stroke="#1c1c1c" stroke-width="0.75" stroke-linejoin="round" />
<path d="M101.46 263.59 L102.44 266.54 L96.42 265.04 L95.44 262.09 Z" fill="#cfcfcf" stroke="#1c1c1c" stroke-width="0.6" stroke-linejoin="round" />
<path d="M100.37 269.3 L100.27 265.18 L94.25 263.68 L94.36 267.8 Z" fill="#cfcfcf" stroke="#1c1c1c" stroke-width="0.6" stroke-linejoin="round" />
<path d="M100.27 265.18 L101.46 263.59 L95.44 262.09 L94.25 263.68 Z" fill="#fff" stroke="#1c1c1c" stroke-width="0.75" stroke-linejoin="round" />
<path d="M104.84 259.98 L105.4 263.59 L99.38 262.09 L98.82 258.48 Z" fill="#cfcfcf" stroke="#1c1c1c" stroke-width="0.6" stroke-linejoin="round" />
<path d="M103.26 265.6 L103.61 261.14 L97.6 259.64 L97.25 264.11 Z" fill="#cfcfcf" stroke="#1c1c1c" stroke-width="0.6" stroke-linejoin="round" />
<path d="M103.61 261.14 L104.84 259.98 L98.82 258.48 L97.6 259.64 Z" fill="#fff" stroke="#1c1c1c" stroke-width="0.75" stroke-linejoin="round" />
<path d="M108.23 257.64 L108.33 261.77 L102.32 260.27 L102.21 256.14 Z" fill="#cfcfcf" stroke="#1c1c1c" stroke-width="0.6" stroke-linejoin="round" />
<path d="M106.22 262.96 L107.02 258.33 L101 256.83 L100.21 261.46 Z" fill="#cfcfcf" stroke="#1c1c1c" stroke-width="0.6" stroke-linejoin="round" />
<path d="M107.02 258.33 L108.23 257.64 L102.21 256.14 L101 256.83 Z" fill="#fff" stroke="#1c1c1c" stroke-width="0.75" stroke-linejoin="round" />
<path d="M111.49 256.69 L111.14 261.15 L105.12 259.65 L105.47 255.19 Z" fill="#cfcfcf" stroke="#1c1c1c" stroke-width="0.6" stroke-linejoin="round" />
<path d="M109.14 261.47 L110.34 256.87 L104.32 255.37 L103.12 259.97 Z" fill="#cfcfcf" stroke="#1c1c1c" stroke-width="0.6" stroke-linejoin="round" />
<path d="M110.34 256.87 L111.49 256.69 L105.47 255.19 L104.32 255.37 Z" fill="#fff" stroke="#1c1c1c" stroke-width="0.75" stroke-linejoin="round" />
<path d="M114.48 257.15 L113.69 261.78 L107.67 260.28 L108.46 255.65 Z" fill="#cfcfcf" stroke="#1c1c1c" stroke-width="0.6" stroke-linejoin="round" />
<path d="M111.88 261.2 L113.44 256.82 L107.43 255.32 L105.86 259.7 Z" fill="#cfcfcf" stroke="#1c1c1c" stroke-width="0.6" stroke-linejoin="round" />
<path d="M113.44 256.82 L114.48 257.15 L108.46 255.65 L107.43 255.32 Z" fill="#fff" stroke="#1c1c1c" stroke-width="0.75" stroke-linejoin="round" />
<path d="M117.08 259.01 L115.88 263.61 L109.87 262.11 L111.07 257.51 Z" fill="#cfcfcf" stroke="#1c1c1c" stroke-width="0.6" stroke-linejoin="round" />
<path d="M114.34 262.17 L116.2 258.18 L110.18 256.68 L108.33 260.67 Z" fill="#cfcfcf" stroke="#1c1c1c" stroke-width="0.6" stroke-linejoin="round" />
<path d="M116.2 258.18 L117.08 259.01 L111.07 257.51 L110.18 256.68 Z" fill="#fff" stroke="#1c1c1c" stroke-width="0.75" stroke-linejoin="round" />
<path d="M119.19 262.19 L117.63 266.57 L111.62 265.07 L113.18 260.69 Z" fill="#cfcfcf" stroke="#1c1c1c" stroke-width="0.6" stroke-linejoin="round" />
<path d="M116.42 264.33 L118.5 260.9 L112.48 259.4 L110.4 262.83 Z" fill="#cfcfcf" stroke="#1c1c1c" stroke-width="0.6" stroke-linejoin="round" />
<path d="M118.5 260.9 L119.19 262.19 L113.18 260.69 L112.48 259.4 Z" fill="#fff" stroke="#1c1c1c" stroke-width="0.75" stroke-linejoin="round" />
<path d="M117.56 294.56 L119.11 296.3 L118.4 298.79 L116.33 298.88 L115.79 300.53 L116.97 303.1 L116.08 305.44 L114.24 304.6 L113.58 306.12 L114.35 309.41 L113.3 311.51 L111.76 309.78 L111.01 311.1 L111.34 314.98 L110.19 316.76 L109.01 314.19 L108.2 315.27 L108.07 319.58 L106.86 320.97 L106.09 317.67 L105.26 318.46 L104.68 323.03 L103.46 323.96 L103.13 320.07 L102.31 320.54 L101.3 325.17 L100.12 325.61 L100.24 321.29 L99.46 321.42 L98.07 325.93 L96.98 325.86 L97.55 321.29 L96.85 321.07 L95.13 325.27 L94.16 324.69 L95.16 320.05 L94.57 319.5 L92.59 323.22 L91.79 322.16 L93.18 317.64 L92.71 316.77 L90.56 319.87 L89.97 318.36 L91.68 314.15 L91.36 313 L89.12 315.34 L88.75 313.46 L90.73 309.73 L90.57 308.35 L88.32 309.83 L88.21 307.65 L90.36 304.55 L90.36 302.99 L88.22 303.56 L88.35 301.17 L90.59 298.83 L90.76 297.16 L88.8 296.79 L89.17 294.28 L91.41 292.8 L91.74 291.09 L90.04 289.79 L90.64 287.27 L92.79 286.71 L93.26 285.02 L91.89 282.86 L92.7 280.43 L94.66 280.8 L95.27 279.22 L94.28 276.27 L95.26 274.04 L96.96 275.33 L97.67 273.9 L97.11 270.3 L98.22 268.34 L99.59 270.51 L100.37 269.3 L100.27 265.18 L101.46 263.59 L102.44 266.54 L103.26 265.6 L103.61 261.14 L104.84 259.98 L105.4 263.59 L106.22 262.96 L107.02 258.33 L108.23 257.64 L108.33 261.77 L109.14 261.47 L110.34 256.87 L111.49 256.69 L111.14 261.15 L111.88 261.2 L113.44 256.82 L114.48 257.15 L113.69 261.78 L114.34 262.17 L116.2 258.18 L117.08 259.01 L115.88 263.61 L116.42 264.33 L118.5 260.9 L119.19 262.19 L117.63 266.57 L118.03 267.59 L120.24 264.86 L120.72 266.56 L118.86 270.55 L119.11 271.83 L121.36 269.91 L121.61 271.95 L119.53 275.38 L119.61 276.86 L121.82 275.83 L121.81 278.13 L119.6 280.86 L119.51 282.48 L121.58 282.38 L121.33 284.84 L119.07 286.76 L118.82 288.46 L120.66 289.3 L120.17 291.82 L117.97 292.86 Z" fill="#fff" stroke="#1c1c1c" stroke-width="0.95" stroke-linejoin="round" />
<ellipse cx="105" cy="291.3" rx="12.67" ry="30.18" transform="rotate(14 105 291.3)" fill="#fff" stroke="#1c1c1c" stroke-width="1.25" />
<ellipse cx="104.61" cy="291.2" rx="11.85" ry="28.22" transform="rotate(14 104.61 291.2)" fill="none" stroke="#1c1c1c" stroke-width="0.7" />
<ellipse cx="103.06" cy="290.82" rx="7.01" ry="16.68" transform="rotate(14 103.06 290.82)" fill="none" stroke="#1c1c1c" stroke-width="1.0" />
<ellipse cx="103.06" cy="290.82" rx="4.77" ry="11.36" transform="rotate(14 103.06 290.82)" fill="#d8d8d8" stroke="#1c1c1c" stroke-width="1.1" />
<ellipse cx="104.03" cy="291.06" rx="4.77" ry="11.36" transform="rotate(14 104.03 291.06)" fill="#e4e4e4" stroke="#1c1c1c" stroke-width="0.8" />
<ellipse cx="104.03" cy="291.06" rx="3.88" ry="9.23" transform="rotate(14 104.03 291.06)" fill="none" stroke="#1c1c1c" stroke-width="0.7" />
<ellipse cx="104.03" cy="291.06" rx="2.83" ry="6.75" transform="rotate(14 104.03 291.06)" fill="#fff" stroke="#1c1c1c" stroke-width="1.0" />
<ellipse cx="160.53" cy="255.76" rx="6.51" ry="15.5" transform="rotate(14 160.53 255.76)" fill="#fff" stroke="#1c1c1c" stroke-width="0.9" />
<ellipse cx="161.5" cy="256" rx="6.51" ry="15.5" transform="rotate(14 161.5 256)" fill="#fff" stroke="#1c1c1c" stroke-width="0.9" />
<ellipse cx="161.5" cy="256" rx="4.41" ry="10.5" transform="rotate(14 161.5 256)" fill="#fff" stroke="#1c1c1c" stroke-width="0.9" />
<ellipse cx="182.54" cy="261.14" rx="5.46" ry="13" transform="rotate(14 182.54 261.14)" fill="#fff" stroke="#1c1c1c" stroke-width="1.0" />
<ellipse cx="184" cy="261.5" rx="5.46" ry="13" transform="rotate(14 184 261.5)" fill="#fff" stroke="#1c1c1c" stroke-width="1.0" />
<ellipse cx="184" cy="261.5" rx="4.41" ry="10.5" transform="rotate(14 184 261.5)" fill="#fff" stroke="#1c1c1c" stroke-width="1.0" />
<ellipse cx="182.54" cy="261.14" rx="4.41" ry="10.5" transform="rotate(14 182.54 261.14)" fill="none" stroke="#1c1c1c" stroke-width="0.6" />
<line x1="140" y1="250.3" x2="194" y2="264.2" stroke="#1c1c1c" stroke-width="0.85"/>
<line x1="37.5" y1="251" x2="48" y2="253.7" stroke="#1c1c1c" stroke-width="0.85"/>
<line x1="62" y1="257.3" x2="75" y2="260.7" stroke="#1c1c1c" stroke-width="0.85"/>
<line x1="77.5" y1="285" x2="88" y2="287.7" stroke="#1c1c1c" stroke-width="0.85"/>
<line x1="106" y1="292.3" x2="124" y2="297" stroke="#1c1c1c" stroke-width="0.85"/>
<text x="156" y="167.5" font-size="12.6" fill="#383838" >48C</text>
<line x1="460" y1="279" x2="461" y2="279.3" stroke="#1c1c1c" stroke-width="0.85"/>
<line x1="474" y1="282.6" x2="546" y2="301.2" stroke="#1c1c1c" stroke-width="0.85"/>
<line x1="422.5" y1="353" x2="592" y2="397.5" stroke="#1c1c1c" stroke-width="0.85"/>
<line x1="556" y1="303" x2="638" y2="325.2" stroke="#1c1c1c" stroke-width="0.85"/>
<line x1="545" y1="359" x2="705" y2="400.6" stroke="#1c1c1c" stroke-width="0.85"/>
<line x1="568" y1="414.5" x2="652" y2="436" stroke="#1c1c1c" stroke-width="0.85"/>
<ellipse cx="482.73" cy="285.16" rx="9.37" ry="22.3" transform="rotate(14 482.73 285.16)" fill="#fff" stroke="#1c1c1c" stroke-width="0.9" />
<ellipse cx="483.7" cy="285.4" rx="9.37" ry="22.3" transform="rotate(14 483.7 285.4)" fill="#fff" stroke="#1c1c1c" stroke-width="0.9" />
<ellipse cx="483.7" cy="285.4" rx="6.01" ry="14.3" transform="rotate(14 483.7 285.4)" fill="#fff" stroke="#1c1c1c" stroke-width="0.9" />
<ellipse cx="513.23" cy="293.26" rx="9.37" ry="22.3" transform="rotate(14 513.23 293.26)" fill="#fff" stroke="#1c1c1c" stroke-width="0.9" />
<ellipse cx="514.2" cy="293.5" rx="9.37" ry="22.3" transform="rotate(14 514.2 293.5)" fill="#fff" stroke="#1c1c1c" stroke-width="0.9" />
<ellipse cx="514.2" cy="293.5" rx="6.01" ry="14.3" transform="rotate(14 514.2 293.5)" fill="#fff" stroke="#1c1c1c" stroke-width="0.9" />
<line x1="474" y1="282.6" x2="490" y2="286.7" stroke="#1c1c1c" stroke-width="0.85"/>
<line x1="508" y1="291.4" x2="546" y2="301.2" stroke="#1c1c1c" stroke-width="0.85"/>
<ellipse cx="439.03" cy="357.46" rx="5.12" ry="12.2" transform="rotate(14 439.03 357.46)" fill="#fff" stroke="#1c1c1c" stroke-width="0.9" />
<ellipse cx="440" cy="357.7" rx="5.12" ry="12.2" transform="rotate(14 440 357.7)" fill="#fff" stroke="#1c1c1c" stroke-width="0.9" />
<ellipse cx="440" cy="357.7" rx="2.02" ry="4.8" transform="rotate(14 440 357.7)" fill="#fff" stroke="#1c1c1c" stroke-width="0.9" />
<line x1="422.5" y1="353" x2="441" y2="357.9" stroke="#1c1c1c" stroke-width="0.85"/>
<path d="M589.03 312.34 L590.65 314.13 L589.94 316.68 L587.76 316.88 L587.21 318.62 L588.52 321.15 L587.64 323.59 L585.65 322.97 L584.99 324.61 L585.95 327.8 L584.93 330.06 L583.18 328.64 L582.44 330.13 L583.02 333.88 L581.89 335.9 L580.43 333.72 L579.62 335.02 L579.81 339.23 L578.6 340.95 L577.47 338.07 L576.62 339.14 L576.41 343.69 L575.16 345.06 L574.39 341.56 L573.52 342.37 L572.92 347.14 L571.66 348.11 L571.28 344.09 L570.42 344.62 L569.44 349.46 L568.21 350.01 L568.23 345.6 L567.4 345.83 L566.07 350.6 L564.91 350.71 L565.32 346.03 L564.55 345.95 L562.91 350.52 L561.85 350.19 L562.65 345.37 L561.95 344.99 L560.05 349.23 L559.11 348.47 L560.27 343.65 L559.68 342.98 L557.57 346.75 L556.79 345.59 L558.28 340.91 L557.79 339.97 L555.54 343.17 L554.93 341.63 L556.71 337.23 L556.36 336.04 L554.02 338.59 L553.61 336.72 L555.62 332.71 L555.41 331.32 L553.06 333.14 L552.85 330.99 L555.04 327.5 L554.97 325.93 L552.68 326.97 L552.69 324.6 L554.99 321.73 L555.07 320.04 L552.89 320.26 L553.11 317.75 L555.46 315.57 L555.68 313.81 L553.69 313.21 L554.11 310.62 L556.44 309.21 L556.81 307.41 L555.05 306.01 L555.67 303.43 L557.91 302.82 L558.4 301.05 L556.93 298.88 L557.73 296.37 L559.82 296.58 L560.43 294.89 L559.29 292.02 L560.24 289.66 L562.12 290.68 L562.82 289.12 L562.05 285.63 L563.13 283.48 L564.74 285.29 L565.52 283.89 L565.13 279.89 L566.3 278.02 L567.6 280.56 L568.44 279.37 L568.45 274.97 L569.68 273.42 L570.63 276.62 L571.5 275.68 L571.9 271 L573.16 269.83 L573.74 273.6 L574.61 272.93 L575.4 268.11 L576.65 267.35 L576.83 271.58 L577.68 271.2 L578.84 266.37 L580.04 266.04 L579.82 270.61 L580.63 270.53 L582.11 265.84 L583.23 265.95 L582.62 270.72 L583.36 270.95 L585.13 266.53 L586.14 267.07 L585.16 271.91 L585.81 272.44 L587.81 268.42 L588.68 269.38 L587.35 274.15 L587.89 274.96 L590.08 271.45 L590.78 272.81 L589.14 277.37 L589.56 278.44 L591.86 275.55 L592.37 277.26 L590.47 281.49 L590.75 282.78 L593.1 280.59 L593.41 282.6 L591.31 286.37 L591.45 287.85 L593.78 286.42 L593.88 288.69 L591.62 291.88 L591.62 293.51 L593.87 292.88 L593.75 295.33 L591.42 297.86 L591.26 299.6 L593.36 299.79 L593.03 302.35 L590.69 304.14 L590.39 305.93 L592.28 306.94 L591.75 309.53 L589.46 310.55 Z" fill="#8a8a8a" stroke="#1c1c1c" stroke-width="0.8" stroke-linejoin="round" />
<path d="M570.04 347.35 L563.92 345.83 L562.33 345.21 L560.85 344.19 L559.51 342.77 L558.32 340.98 L557.29 338.83 L556.44 336.34 L555.78 333.55 L555.3 330.48 L555.02 327.17 L554.95 323.65 L555.07 319.96 L555.39 316.14 L555.91 312.24 L556.62 308.29 L557.52 304.34 L558.58 300.44 L559.81 296.62 L561.18 292.93 L562.69 289.41 L564.31 286.1 L566.03 283.02 L567.83 280.23 L569.69 277.74 L571.59 275.59 L573.51 273.79 L575.43 272.37 L577.32 271.35 L579.17 270.73 L580.95 270.52 L582.65 270.73 L588.76 272.25 L588.76 272.25 L587.06 272.04 L585.28 272.25 L583.43 272.87 L581.54 273.9 L579.62 275.31 L577.7 277.11 L575.8 279.26 L573.94 281.75 L572.14 284.55 L570.42 287.62 L568.8 290.93 L567.29 294.46 L565.92 298.15 L564.69 301.96 L563.63 305.87 L562.74 309.81 L562.03 313.76 L561.51 317.66 L561.18 321.48 L561.06 325.17 L561.14 328.69 L561.42 332 L561.89 335.07 L562.56 337.87 L563.41 340.35 L564.43 342.5 L565.62 344.3 L566.96 345.71 L568.44 346.73 L570.04 347.35 Z" fill="#9a9a9a" stroke="none"/>
<path d="M574.32 351.53 L574.34 347.12 L568.23 345.6 L568.21 350.01 Z" fill="#cfcfcf" stroke="#1c1c1c" stroke-width="0.6" stroke-linejoin="round" />
<path d="M576.53 346.14 L575.56 350.98 L569.44 349.46 L570.42 344.62 Z" fill="#cfcfcf" stroke="#1c1c1c" stroke-width="0.6" stroke-linejoin="round" />
<path d="M575.56 350.98 L574.32 351.53 L568.21 350.01 L569.44 349.46 Z" fill="#fff" stroke="#1c1c1c" stroke-width="0.75" stroke-linejoin="round" />
<path d="M571.02 352.24 L571.44 347.55 L565.32 346.03 L564.91 350.71 Z" fill="#cfcfcf" stroke="#1c1c1c" stroke-width="0.6" stroke-linejoin="round" />
<path d="M573.51 347.35 L572.19 352.12 L566.07 350.6 L567.4 345.83 Z" fill="#cfcfcf" stroke="#1c1c1c" stroke-width="0.6" stroke-linejoin="round" />
<path d="M572.19 352.12 L571.02 352.24 L564.91 350.71 L566.07 350.6 Z" fill="#fff" stroke="#1c1c1c" stroke-width="0.75" stroke-linejoin="round" />
<path d="M567.96 351.72 L568.76 346.89 L562.65 345.37 L561.85 350.19 Z" fill="#cfcfcf" stroke="#1c1c1c" stroke-width="0.6" stroke-linejoin="round" />
<path d="M570.66 347.48 L569.03 352.04 L562.91 350.52 L564.55 345.95 Z" fill="#cfcfcf" stroke="#1c1c1c" stroke-width="0.6" stroke-linejoin="round" />
<path d="M569.03 352.04 L567.96 351.72 L561.85 350.19 L562.91 350.52 Z" fill="#fff" stroke="#1c1c1c" stroke-width="0.75" stroke-linejoin="round" />
<path d="M565.22 349.99 L566.39 345.17 L560.27 343.65 L559.11 348.47 Z" fill="#cfcfcf" stroke="#1c1c1c" stroke-width="0.6" stroke-linejoin="round" />
<path d="M568.06 346.52 L566.17 350.75 L560.05 349.23 L561.95 344.99 Z" fill="#cfcfcf" stroke="#1c1c1c" stroke-width="0.6" stroke-linejoin="round" />
<path d="M566.17 350.75 L565.22 349.99 L559.11 348.47 L560.05 349.23 Z" fill="#fff" stroke="#1c1c1c" stroke-width="0.75" stroke-linejoin="round" />
<path d="M562.9 347.11 L564.39 342.43 L558.28 340.91 L556.79 345.59 Z" fill="#cfcfcf" stroke="#1c1c1c" stroke-width="0.6" stroke-linejoin="round" />
<path d="M565.79 344.5 L563.68 348.28 L557.57 346.75 L559.68 342.98 Z" fill="#cfcfcf" stroke="#1c1c1c" stroke-width="0.6" stroke-linejoin="round" />
<path d="M563.68 348.28 L562.9 347.11 L556.79 345.59 L557.57 346.75 Z" fill="#fff" stroke="#1c1c1c" stroke-width="0.75" stroke-linejoin="round" />
<path d="M561.05 343.16 L562.83 338.75 L556.71 337.23 L554.93 341.63 Z" fill="#cfcfcf" stroke="#1c1c1c" stroke-width="0.6" stroke-linejoin="round" />
<path d="M563.91 341.49 L561.66 344.7 L555.54 343.17 L557.79 339.97 Z" fill="#cfcfcf" stroke="#1c1c1c" stroke-width="0.6" stroke-linejoin="round" />
<path d="M561.66 344.7 L561.05 343.16 L554.93 341.63 L555.54 343.17 Z" fill="#fff" stroke="#1c1c1c" stroke-width="0.75" stroke-linejoin="round" />
<path d="M559.72 338.24 L561.74 334.24 L555.62 332.71 L553.61 336.72 Z" fill="#cfcfcf" stroke="#1c1c1c" stroke-width="0.6" stroke-linejoin="round" />
<path d="M562.47 337.57 L560.14 340.12 L554.02 338.59 L556.36 336.04 Z" fill="#cfcfcf" stroke="#1c1c1c" stroke-width="0.6" stroke-linejoin="round" />
<path d="M560.14 340.12 L559.72 338.24 L553.61 336.72 L554.02 338.59 Z" fill="#fff" stroke="#1c1c1c" stroke-width="0.75" stroke-linejoin="round" />
<path d="M558.97 332.51 L561.16 329.02 L555.04 327.5 L552.85 330.99 Z" fill="#cfcfcf" stroke="#1c1c1c" stroke-width="0.6" stroke-linejoin="round" />
<path d="M561.52 332.84 L559.17 334.66 L553.06 333.14 L555.41 331.32 Z" fill="#cfcfcf" stroke="#1c1c1c" stroke-width="0.6" stroke-linejoin="round" />
<path d="M559.17 334.66 L558.97 332.51 L552.85 330.99 L553.06 333.14 Z" fill="#fff" stroke="#1c1c1c" stroke-width="0.75" stroke-linejoin="round" />
<path d="M558.8 326.13 L561.1 323.25 L554.99 321.73 L552.69 324.6 Z" fill="#cfcfcf" stroke="#1c1c1c" stroke-width="0.6" stroke-linejoin="round" />
<path d="M561.09 327.46 L558.79 328.49 L552.68 326.97 L554.97 325.93 Z" fill="#cfcfcf" stroke="#1c1c1c" stroke-width="0.6" stroke-linejoin="round" />
<path d="M558.79 328.49 L558.8 326.13 L552.69 324.6 L552.68 326.97 Z" fill="#fff" stroke="#1c1c1c" stroke-width="0.75" stroke-linejoin="round" />
<path d="M559.22 319.27 L561.57 317.1 L555.46 315.57 L553.11 317.75 Z" fill="#cfcfcf" stroke="#1c1c1c" stroke-width="0.6" stroke-linejoin="round" />
<path d="M561.18 321.56 L559 321.78 L552.89 320.26 L555.07 320.04 Z" fill="#cfcfcf" stroke="#1c1c1c" stroke-width="0.6" stroke-linejoin="round" />
<path d="M559 321.78 L559.22 319.27 L553.11 317.75 L552.89 320.26 Z" fill="#fff" stroke="#1c1c1c" stroke-width="0.75" stroke-linejoin="round" />
<path d="M560.23 312.15 L562.56 310.73 L556.44 309.21 L554.11 310.62 Z" fill="#cfcfcf" stroke="#1c1c1c" stroke-width="0.6" stroke-linejoin="round" />
<path d="M561.8 315.33 L559.8 314.73 L553.69 313.21 L555.68 313.81 Z" fill="#cfcfcf" stroke="#1c1c1c" stroke-width="0.6" stroke-linejoin="round" />
<path d="M559.8 314.73 L560.23 312.15 L554.11 310.62 L553.69 313.21 Z" fill="#fff" stroke="#1c1c1c" stroke-width="0.75" stroke-linejoin="round" />
<path d="M561.78 304.95 L564.02 304.34 L557.91 302.82 L555.67 303.43 Z" fill="#cfcfcf" stroke="#1c1c1c" stroke-width="0.6" stroke-linejoin="round" />
<path d="M562.92 308.94 L561.16 307.54 L555.05 306.01 L556.81 307.41 Z" fill="#cfcfcf" stroke="#1c1c1c" stroke-width="0.6" stroke-linejoin="round" />
<path d="M561.16 307.54 L561.78 304.95 L555.67 303.43 L555.05 306.01 Z" fill="#fff" stroke="#1c1c1c" stroke-width="0.75" stroke-linejoin="round" />
<path d="M563.84 297.89 L565.93 298.11 L559.82 296.58 L557.73 296.37 Z" fill="#cfcfcf" stroke="#1c1c1c" stroke-width="0.6" stroke-linejoin="round" />
<path d="M564.52 302.57 L563.05 300.41 L556.93 298.88 L558.4 301.05 Z" fill="#cfcfcf" stroke="#1c1c1c" stroke-width="0.6" stroke-linejoin="round" />
<path d="M563.05 300.41 L563.84 297.89 L557.73 296.37 L556.93 298.88 Z" fill="#fff" stroke="#1c1c1c" stroke-width="0.75" stroke-linejoin="round" />
<path d="M566.35 291.18 L568.23 292.21 L562.12 290.68 L560.24 289.66 Z" fill="#cfcfcf" stroke="#1c1c1c" stroke-width="0.6" stroke-linejoin="round" />
<path d="M566.54 296.41 L565.4 293.55 L559.29 292.02 L560.43 294.89 Z" fill="#cfcfcf" stroke="#1c1c1c" stroke-width="0.6" stroke-linejoin="round" />
<path d="M565.4 293.55 L566.35 291.18 L560.24 289.66 L559.29 292.02 Z" fill="#fff" stroke="#1c1c1c" stroke-width="0.75" stroke-linejoin="round" />
<path d="M569.24 285 L570.85 286.81 L564.74 285.29 L563.13 283.48 Z" fill="#cfcfcf" stroke="#1c1c1c" stroke-width="0.6" stroke-linejoin="round" />
<path d="M568.94 290.64 L568.16 287.16 L562.05 285.63 L562.82 289.12 Z" fill="#cfcfcf" stroke="#1c1c1c" stroke-width="0.6" stroke-linejoin="round" />
<path d="M568.16 287.16 L569.24 285 L563.13 283.48 L562.05 285.63 Z" fill="#fff" stroke="#1c1c1c" stroke-width="0.75" stroke-linejoin="round" />
<path d="M572.42 279.54 L573.72 282.08 L567.6 280.56 L566.3 278.02 Z" fill="#cfcfcf" stroke="#1c1c1c" stroke-width="0.6" stroke-linejoin="round" />
<path d="M571.63 285.42 L571.24 281.42 L565.13 279.89 L565.52 283.89 Z" fill="#cfcfcf" stroke="#1c1c1c" stroke-width="0.6" stroke-linejoin="round" />
<path d="M571.24 281.42 L572.42 279.54 L566.3 278.02 L565.13 279.89 Z" fill="#fff" stroke="#1c1c1c" stroke-width="0.75" stroke-linejoin="round" />
<path d="M575.79 274.95 L576.75 278.15 L570.63 276.62 L569.68 273.42 Z" fill="#cfcfcf" stroke="#1c1c1c" stroke-width="0.6" stroke-linejoin="round" />
<path d="M574.55 280.9 L574.56 276.49 L568.45 274.97 L568.44 279.37 Z" fill="#cfcfcf" stroke="#1c1c1c" stroke-width="0.6" stroke-linejoin="round" />
<path d="M574.56 276.49 L575.79 274.95 L569.68 273.42 L568.45 274.97 Z" fill="#fff" stroke="#1c1c1c" stroke-width="0.75" stroke-linejoin="round" />
<path d="M579.28 271.36 L579.85 275.13 L573.74 273.6 L573.16 269.83 Z" fill="#cfcfcf" stroke="#1c1c1c" stroke-width="0.6" stroke-linejoin="round" />
<path d="M577.61 277.21 L578.02 272.53 L571.9 271 L571.5 275.68 Z" fill="#cfcfcf" stroke="#1c1c1c" stroke-width="0.6" stroke-linejoin="round" />
<path d="M578.02 272.53 L579.28 271.36 L573.16 269.83 L571.9 271 Z" fill="#fff" stroke="#1c1c1c" stroke-width="0.75" stroke-linejoin="round" />
<path d="M582.76 268.87 L582.94 273.1 L576.83 271.58 L576.65 267.35 Z" fill="#cfcfcf" stroke="#1c1c1c" stroke-width="0.6" stroke-linejoin="round" />
<path d="M580.72 274.45 L581.51 269.63 L575.4 268.11 L574.61 272.93 Z" fill="#cfcfcf" stroke="#1c1c1c" stroke-width="0.6" stroke-linejoin="round" />
<path d="M581.51 269.63 L582.76 268.87 L576.65 267.35 L575.4 268.11 Z" fill="#fff" stroke="#1c1c1c" stroke-width="0.75" stroke-linejoin="round" />
<path d="M586.15 267.56 L585.93 272.13 L579.82 270.61 L580.04 266.04 Z" fill="#cfcfcf" stroke="#1c1c1c" stroke-width="0.6" stroke-linejoin="round" />
<path d="M583.79 272.72 L584.95 267.9 L578.84 266.37 L577.68 271.2 Z" fill="#cfcfcf" stroke="#1c1c1c" stroke-width="0.6" stroke-linejoin="round" />
<path d="M584.95 267.9 L586.15 267.56 L580.04 266.04 L578.84 266.37 Z" fill="#fff" stroke="#1c1c1c" stroke-width="0.75" stroke-linejoin="round" />
<path d="M589.35 267.47 L588.74 272.24 L582.62 270.72 L583.23 265.95 Z" fill="#cfcfcf" stroke="#1c1c1c" stroke-width="0.6" stroke-linejoin="round" />
<path d="M586.74 272.05 L588.22 267.36 L582.11 265.84 L580.63 270.53 Z" fill="#cfcfcf" stroke="#1c1c1c" stroke-width="0.6" stroke-linejoin="round" />
<path d="M588.22 267.36 L589.35 267.47 L583.23 265.95 L582.11 265.84 Z" fill="#fff" stroke="#1c1c1c" stroke-width="0.75" stroke-linejoin="round" />
<path d="M592.25 268.6 L591.27 273.44 L585.16 271.91 L586.14 267.07 Z" fill="#cfcfcf" stroke="#1c1c1c" stroke-width="0.6" stroke-linejoin="round" />
<path d="M589.48 272.47 L591.25 268.05 L585.13 266.53 L583.36 270.95 Z" fill="#cfcfcf" stroke="#1c1c1c" stroke-width="0.6" stroke-linejoin="round" />
<path d="M591.25 268.05 L592.25 268.6 L586.14 267.07 L585.13 266.53 Z" fill="#fff" stroke="#1c1c1c" stroke-width="0.75" stroke-linejoin="round" />
<path d="M594.79 270.91 L593.46 275.68 L587.35 274.15 L588.68 269.38 Z" fill="#cfcfcf" stroke="#1c1c1c" stroke-width="0.6" stroke-linejoin="round" />
<path d="M591.92 273.96 L593.93 269.94 L587.81 268.42 L585.81 272.44 Z" fill="#cfcfcf" stroke="#1c1c1c" stroke-width="0.6" stroke-linejoin="round" />
<path d="M593.93 269.94 L594.79 270.91 L588.68 269.38 L587.81 268.42 Z" fill="#fff" stroke="#1c1c1c" stroke-width="0.75" stroke-linejoin="round" />
<path d="M596.89 274.34 L595.25 278.9 L589.14 277.37 L590.78 272.81 Z" fill="#cfcfcf" stroke="#1c1c1c" stroke-width="0.6" stroke-linejoin="round" />
<path d="M594.01 276.48 L596.19 272.98 L590.08 271.45 L587.89 274.96 Z" fill="#cfcfcf" stroke="#1c1c1c" stroke-width="0.6" stroke-linejoin="round" />
<path d="M596.19 272.98 L596.89 274.34 L590.78 272.81 L590.08 271.45 Z" fill="#fff" stroke="#1c1c1c" stroke-width="0.75" stroke-linejoin="round" />
<path d="M595.14 313.86 L596.76 315.65 L596.05 318.21 L593.87 318.41 L593.32 320.15 L594.63 322.67 L593.75 325.12 L591.76 324.5 L591.1 326.13 L592.06 329.32 L591.05 331.59 L589.29 330.16 L588.55 331.65 L589.13 335.41 L588 337.43 L586.54 335.24 L585.73 336.54 L585.92 340.76 L584.71 342.47 L583.58 339.59 L582.73 340.66 L582.52 345.22 L581.27 346.58 L580.51 343.08 L579.63 343.89 L579.03 348.66 L577.77 349.63 L577.4 345.62 L576.53 346.14 L575.56 350.98 L574.32 351.53 L574.34 347.12 L573.51 347.35 L572.19 352.12 L571.02 352.24 L571.44 347.55 L570.66 347.48 L569.03 352.04 L567.96 351.72 L568.76 346.89 L568.06 346.52 L566.17 350.75 L565.22 349.99 L566.39 345.17 L565.79 344.5 L563.68 348.28 L562.9 347.11 L564.39 342.43 L563.91 341.49 L561.66 344.7 L561.05 343.16 L562.83 338.75 L562.47 337.57 L560.14 340.12 L559.72 338.24 L561.74 334.24 L561.52 332.84 L559.17 334.66 L558.97 332.51 L561.16 329.02 L561.09 327.46 L558.79 328.49 L558.8 326.13 L561.1 323.25 L561.18 321.56 L559 321.78 L559.22 319.27 L561.57 317.1 L561.8 315.33 L559.8 314.73 L560.23 312.15 L562.56 310.73 L562.92 308.94 L561.16 307.54 L561.78 304.95 L564.02 304.34 L564.52 302.57 L563.05 300.41 L563.84 297.89 L565.93 298.11 L566.54 296.41 L565.4 293.55 L566.35 291.18 L568.23 292.21 L568.94 290.64 L568.16 287.16 L569.24 285 L570.85 286.81 L571.63 285.42 L571.24 281.42 L572.42 279.54 L573.72 282.08 L574.55 280.9 L574.56 276.49 L575.79 274.95 L576.75 278.15 L577.61 277.21 L578.02 272.53 L579.28 271.36 L579.85 275.13 L580.72 274.45 L581.51 269.63 L582.76 268.87 L582.94 273.1 L583.79 272.72 L584.95 267.9 L586.15 267.56 L585.93 272.13 L586.74 272.05 L588.22 267.36 L589.35 267.47 L588.74 272.24 L589.48 272.47 L591.25 268.05 L592.25 268.6 L591.27 273.44 L591.92 273.96 L593.93 269.94 L594.79 270.91 L593.46 275.68 L594.01 276.48 L596.19 272.98 L596.89 274.34 L595.25 278.9 L595.67 279.96 L597.97 277.07 L598.48 278.79 L596.58 283.01 L596.87 284.3 L599.22 282.11 L599.53 284.13 L597.42 287.89 L597.56 289.38 L599.89 287.95 L599.99 290.21 L597.74 293.4 L597.73 295.04 L599.98 294.41 L599.86 296.85 L597.53 299.39 L597.38 301.12 L599.47 301.31 L599.15 303.87 L596.8 305.67 L596.5 307.46 L598.39 308.46 L597.86 311.06 L595.57 312.07 Z" fill="#fff" stroke="#1c1c1c" stroke-width="0.95" stroke-linejoin="round" />
<ellipse cx="579.4" cy="309.8" rx="15.26" ry="36.32" transform="rotate(14 579.4 309.8)" fill="#fff" stroke="#1c1c1c" stroke-width="1.25" />
<ellipse cx="579.4" cy="309.8" rx="14.43" ry="34.37" transform="rotate(14 579.4 309.8)" fill="none" stroke="#1c1c1c" stroke-width="0.6" />
<ellipse cx="579.4" cy="309.8" rx="7.76" ry="18.49" transform="rotate(14 579.4 309.8)" fill="#fff" stroke="#1c1c1c" stroke-width="1.1" />
<ellipse cx="579.4" cy="309.8" rx="6.03" ry="14.36" transform="rotate(14 579.4 309.8)" fill="#fff" stroke="#1c1c1c" stroke-width="1.0" />
<g clip-path="url(#cl1)">
<ellipse cx="579.4" cy="309.8" rx="6.03" ry="14.36" transform="rotate(14 579.4 309.8)" fill="#b4b4b4" stroke="#1c1c1c" stroke-width="0.5" />
<ellipse cx="571.76" cy="307.89" rx="5.06" ry="12.06" transform="rotate(14 571.76 307.89)" fill="#fff" stroke="#1c1c1c" stroke-width="0.8" />
<path d="M585.25 311.26L577.91 309.43M584.04 312.48L576.7 310.65M582.73 318.03L575.39 316.2M581.63 317.99L574.3 316.16M579.32 322.59L571.98 320.76M578.63 321.31L571.29 319.48M575.93 323.73L568.59 321.9M575.83 321.54L568.5 319.71M573.47 321.13L566.13 319.3M573.99 318.63L566.66 316.8M572.6 315.5L565.26 313.67M573.6 313.35L566.26 311.52M573.55 308.34L566.21 306.51M574.76 307.12L567.43 305.29M576.07 301.57L568.73 299.74M577.17 301.61L569.83 299.78M579.48 297.01L572.15 295.18M580.17 298.29L572.84 296.46M582.87 295.87L575.54 294.04M582.97 298.06L575.63 296.23M585.33 298.47L578 296.64M584.81 300.97L577.47 299.14M586.2 304.1L578.87 302.27M585.2 306.25L577.86 304.42" fill="none" stroke="#1c1c1c" stroke-width="0.9" stroke-linejoin="round" />
<ellipse cx="571.76" cy="307.89" rx="6.03" ry="14.36" transform="rotate(14 571.76 307.89)" fill="none" stroke="#1c1c1c" stroke-width="0.8" />
</g>
<ellipse cx="579.4" cy="309.8" rx="6.03" ry="14.36" transform="rotate(14 579.4 309.8)" fill="none" stroke="#1c1c1c" stroke-width="1.1" />
<text x="574.8" y="336.5" font-size="6.5" fill="#111" font-weight="bold" font-style="italic">3</text>
<ellipse cx="614.54" cy="320.44" rx="7.14" ry="17" transform="rotate(14 614.54 320.44)" fill="#fff" stroke="#1c1c1c" stroke-width="1.0" />
<ellipse cx="616" cy="320.8" rx="7.14" ry="17" transform="rotate(14 616 320.8)" fill="#fff" stroke="#1c1c1c" stroke-width="1.0" />
<ellipse cx="616" cy="320.8" rx="6.09" ry="14.5" transform="rotate(14 616 320.8)" fill="#fff" stroke="#1c1c1c" stroke-width="1.0" />
<ellipse cx="614.54" cy="320.44" rx="6.09" ry="14.5" transform="rotate(14 614.54 320.44)" fill="none" stroke="#1c1c1c" stroke-width="0.6" />
<line x1="556" y1="303.6" x2="638" y2="325.2" stroke="#1c1c1c" stroke-width="0.85"/>
<path d="M494.38 371.85 L495.91 373.63 L495.15 376.19 L493.12 376.13 L492.54 377.73 L493.59 380.57 L492.6 382.9 L490.88 381.64 L490.18 383.05 L490.67 386.73 L489.51 388.68 L488.23 386.31 L487.44 387.42 L487.35 391.72 L486.09 393.15 L485.34 389.82 L484.51 390.56 L483.84 395.17 L482.58 395.99 L482.4 391.94 L481.6 392.26 L480.39 396.86 L479.21 397.01 L479.62 392.51 L478.9 392.39 L477.24 396.67 L476.22 396.15 L477.19 391.5 L476.59 390.94 L474.6 394.62 L473.81 393.45 L475.27 388.98 L474.84 388.02 L472.64 390.85 L472.13 389.11 L473.99 385.12 L473.76 383.83 L471.51 385.6 L471.32 383.42 L473.45 380.18 L473.43 378.65 L471.28 379.25 L471.42 376.77 L473.67 374.5 L473.87 372.83 L471.96 372.21 L472.42 369.61 L474.64 368.46 L475.04 366.77 L473.51 364.98 L474.26 362.43 L476.3 362.49 L476.87 360.88 L475.82 358.05 L476.81 355.71 L478.53 356.98 L479.24 355.57 L478.74 351.88 L479.91 349.93 L481.18 352.3 L481.98 351.19 L482.07 346.9 L483.32 345.46 L484.08 348.79 L484.9 348.05 L485.58 343.44 L486.84 342.62 L487.01 346.68 L487.82 346.36 L489.02 341.75 L490.2 341.6 L489.79 346.1 L490.52 346.23 L492.17 341.94 L493.2 342.47 L492.23 347.11 L492.82 347.67 L494.82 343.99 L495.61 345.16 L494.15 349.63 L494.57 350.59 L496.77 347.77 L497.28 349.5 L495.42 353.49 L495.65 354.78 L497.91 353.01 L498.1 355.19 L495.97 358.43 L495.99 359.97 L498.14 359.37 L498 361.85 L495.75 364.11 L495.55 365.79 L497.46 366.4 L496.99 369.01 L494.78 370.15 Z" fill="#8a8a8a" stroke="#1c1c1c" stroke-width="0.8" stroke-linejoin="round" />
<path d="M485.74 394.09 L478.95 392.4 L477.97 392.02 L477.06 391.39 L476.23 390.52 L475.5 389.42 L474.87 388.1 L474.35 386.57 L473.94 384.85 L473.65 382.96 L473.48 380.92 L473.43 378.76 L473.51 376.49 L473.7 374.14 L474.02 371.74 L474.46 369.32 L475.01 366.89 L475.66 364.49 L476.42 362.14 L477.26 359.87 L478.19 357.7 L479.19 355.67 L480.25 353.78 L481.35 352.06 L482.5 350.53 L483.67 349.2 L484.84 348.1 L486.02 347.23 L487.19 346.6 L488.32 346.22 L489.42 346.09 L490.47 346.21 L497.26 347.91 L497.26 347.91 L496.21 347.78 L495.12 347.91 L493.98 348.29 L492.81 348.92 L491.64 349.79 L490.46 350.9 L489.29 352.22 L488.14 353.75 L487.04 355.47 L485.98 357.36 L484.98 359.4 L484.05 361.56 L483.21 363.83 L482.46 366.18 L481.8 368.58 L481.25 371.01 L480.82 373.44 L480.5 375.84 L480.3 378.18 L480.22 380.45 L480.27 382.62 L480.44 384.66 L480.73 386.54 L481.14 388.26 L481.66 389.79 L482.3 391.11 L483.03 392.22 L483.85 393.09 L484.76 393.71 L485.74 394.09 Z" fill="#9a9a9a" stroke="none"/>
<path d="M489.37 397.68 L489.19 393.63 L482.4 391.94 L482.58 395.99 Z" fill="#cfcfcf" stroke="#1c1c1c" stroke-width="0.6" stroke-linejoin="round" />
<path d="M491.3 392.26 L490.63 396.86 L483.84 395.17 L484.51 390.56 Z" fill="#cfcfcf" stroke="#1c1c1c" stroke-width="0.6" stroke-linejoin="round" />
<path d="M490.63 396.86 L489.37 397.68 L482.58 395.99 L483.84 395.17 Z" fill="#fff" stroke="#1c1c1c" stroke-width="0.75" stroke-linejoin="round" />
<path d="M486.01 398.71 L486.42 394.2 L479.62 392.51 L479.21 397.01 Z" fill="#cfcfcf" stroke="#1c1c1c" stroke-width="0.6" stroke-linejoin="round" />
<path d="M488.39 393.95 L487.19 398.55 L480.39 396.86 L481.6 392.26 Z" fill="#cfcfcf" stroke="#1c1c1c" stroke-width="0.6" stroke-linejoin="round" />
<path d="M487.19 398.55 L486.01 398.71 L479.21 397.01 L480.39 396.86 Z" fill="#fff" stroke="#1c1c1c" stroke-width="0.75" stroke-linejoin="round" />
<path d="M483.01 397.84 L483.98 393.2 L477.19 391.5 L476.22 396.15 Z" fill="#cfcfcf" stroke="#1c1c1c" stroke-width="0.6" stroke-linejoin="round" />
<path d="M485.69 394.08 L484.03 398.37 L477.24 396.67 L478.9 392.39 Z" fill="#cfcfcf" stroke="#1c1c1c" stroke-width="0.6" stroke-linejoin="round" />
<path d="M484.03 398.37 L483.01 397.84 L476.22 396.15 L477.24 396.67 Z" fill="#fff" stroke="#1c1c1c" stroke-width="0.75" stroke-linejoin="round" />
<path d="M480.6 395.14 L482.06 390.67 L475.27 388.98 L473.81 393.45 Z" fill="#cfcfcf" stroke="#1c1c1c" stroke-width="0.6" stroke-linejoin="round" />
<path d="M483.39 392.64 L481.39 396.32 L474.6 394.62 L476.59 390.94 Z" fill="#cfcfcf" stroke="#1c1c1c" stroke-width="0.6" stroke-linejoin="round" />
<path d="M481.39 396.32 L480.6 395.14 L473.81 393.45 L474.6 394.62 Z" fill="#fff" stroke="#1c1c1c" stroke-width="0.75" stroke-linejoin="round" />
<path d="M478.93 390.8 L480.79 386.81 L473.99 385.12 L472.13 389.11 Z" fill="#cfcfcf" stroke="#1c1c1c" stroke-width="0.6" stroke-linejoin="round" />
<path d="M481.64 389.72 L479.43 392.54 L472.64 390.85 L474.84 388.02 Z" fill="#cfcfcf" stroke="#1c1c1c" stroke-width="0.6" stroke-linejoin="round" />
<path d="M479.43 392.54 L478.93 390.8 L472.13 389.11 L472.64 390.85 Z" fill="#fff" stroke="#1c1c1c" stroke-width="0.75" stroke-linejoin="round" />
<path d="M478.11 385.11 L480.24 381.87 L473.45 380.18 L471.32 383.42 Z" fill="#cfcfcf" stroke="#1c1c1c" stroke-width="0.6" stroke-linejoin="round" />
<path d="M480.56 385.52 L478.3 387.29 L471.51 385.6 L473.76 383.83 Z" fill="#cfcfcf" stroke="#1c1c1c" stroke-width="0.6" stroke-linejoin="round" />
<path d="M478.3 387.29 L478.11 385.11 L471.32 383.42 L471.51 385.6 Z" fill="#fff" stroke="#1c1c1c" stroke-width="0.75" stroke-linejoin="round" />
<path d="M478.21 378.46 L480.46 376.19 L473.67 374.5 L471.42 376.77 Z" fill="#cfcfcf" stroke="#1c1c1c" stroke-width="0.6" stroke-linejoin="round" />
<path d="M480.22 380.34 L478.07 380.94 L471.28 379.25 L473.43 378.65 Z" fill="#cfcfcf" stroke="#1c1c1c" stroke-width="0.6" stroke-linejoin="round" />
<path d="M478.07 380.94 L478.21 378.46 L471.42 376.77 L471.28 379.25 Z" fill="#fff" stroke="#1c1c1c" stroke-width="0.75" stroke-linejoin="round" />
<path d="M479.21 371.3 L481.43 370.16 L474.64 368.46 L472.42 369.61 Z" fill="#cfcfcf" stroke="#1c1c1c" stroke-width="0.6" stroke-linejoin="round" />
<path d="M480.66 374.52 L478.75 373.91 L471.96 372.21 L473.87 372.83 Z" fill="#cfcfcf" stroke="#1c1c1c" stroke-width="0.6" stroke-linejoin="round" />
<path d="M478.75 373.91 L479.21 371.3 L472.42 369.61 L471.96 372.21 Z" fill="#fff" stroke="#1c1c1c" stroke-width="0.75" stroke-linejoin="round" />
<path d="M481.05 364.12 L483.09 364.18 L476.3 362.49 L474.26 362.43 Z" fill="#cfcfcf" stroke="#1c1c1c" stroke-width="0.6" stroke-linejoin="round" />
<path d="M481.83 368.46 L480.3 366.68 L473.51 364.98 L475.04 366.77 Z" fill="#cfcfcf" stroke="#1c1c1c" stroke-width="0.6" stroke-linejoin="round" />
<path d="M480.3 366.68 L481.05 364.12 L474.26 362.43 L473.51 364.98 Z" fill="#fff" stroke="#1c1c1c" stroke-width="0.75" stroke-linejoin="round" />
<path d="M483.61 357.41 L485.32 358.67 L478.53 356.98 L476.81 355.71 Z" fill="#cfcfcf" stroke="#1c1c1c" stroke-width="0.6" stroke-linejoin="round" />
<path d="M483.66 362.57 L482.62 359.74 L475.82 358.05 L476.87 360.88 Z" fill="#cfcfcf" stroke="#1c1c1c" stroke-width="0.6" stroke-linejoin="round" />
<path d="M482.62 359.74 L483.61 357.41 L476.81 355.71 L475.82 358.05 Z" fill="#fff" stroke="#1c1c1c" stroke-width="0.75" stroke-linejoin="round" />
<path d="M486.7 351.62 L487.98 354 L481.18 352.3 L479.91 349.93 Z" fill="#cfcfcf" stroke="#1c1c1c" stroke-width="0.6" stroke-linejoin="round" />
<path d="M486.03 357.26 L485.54 353.57 L478.74 351.88 L479.24 355.57 Z" fill="#cfcfcf" stroke="#1c1c1c" stroke-width="0.6" stroke-linejoin="round" />
<path d="M485.54 353.57 L486.7 351.62 L479.91 349.93 L478.74 351.88 Z" fill="#fff" stroke="#1c1c1c" stroke-width="0.75" stroke-linejoin="round" />
<path d="M490.12 347.16 L490.87 350.48 L484.08 348.79 L483.32 345.46 Z" fill="#cfcfcf" stroke="#1c1c1c" stroke-width="0.6" stroke-linejoin="round" />
<path d="M488.77 352.88 L488.86 348.59 L482.07 346.9 L481.98 351.19 Z" fill="#cfcfcf" stroke="#1c1c1c" stroke-width="0.6" stroke-linejoin="round" />
<path d="M488.86 348.59 L490.12 347.16 L483.32 345.46 L482.07 346.9 Z" fill="#fff" stroke="#1c1c1c" stroke-width="0.75" stroke-linejoin="round" />
<path d="M493.63 344.32 L493.81 348.37 L487.01 346.68 L486.84 342.62 Z" fill="#cfcfcf" stroke="#1c1c1c" stroke-width="0.6" stroke-linejoin="round" />
<path d="M491.7 349.74 L492.37 345.14 L485.58 343.44 L484.9 348.05 Z" fill="#cfcfcf" stroke="#1c1c1c" stroke-width="0.6" stroke-linejoin="round" />
<path d="M492.37 345.14 L493.63 344.32 L486.84 342.62 L485.58 343.44 Z" fill="#fff" stroke="#1c1c1c" stroke-width="0.75" stroke-linejoin="round" />
<path d="M496.99 343.29 L496.58 347.8 L489.79 346.1 L490.2 341.6 Z" fill="#cfcfcf" stroke="#1c1c1c" stroke-width="0.6" stroke-linejoin="round" />
<path d="M494.61 348.05 L495.81 343.45 L489.02 341.75 L487.82 346.36 Z" fill="#cfcfcf" stroke="#1c1c1c" stroke-width="0.6" stroke-linejoin="round" />
<path d="M495.81 343.45 L496.99 343.29 L490.2 341.6 L489.02 341.75 Z" fill="#fff" stroke="#1c1c1c" stroke-width="0.75" stroke-linejoin="round" />
<path d="M499.99 344.16 L499.02 348.8 L492.23 347.11 L493.2 342.47 Z" fill="#cfcfcf" stroke="#1c1c1c" stroke-width="0.6" stroke-linejoin="round" />
<path d="M497.31 347.92 L498.97 343.63 L492.17 341.94 L490.52 346.23 Z" fill="#cfcfcf" stroke="#1c1c1c" stroke-width="0.6" stroke-linejoin="round" />
<path d="M498.97 343.63 L499.99 344.16 L493.2 342.47 L492.17 341.94 Z" fill="#fff" stroke="#1c1c1c" stroke-width="0.75" stroke-linejoin="round" />
<path d="M502.4 346.86 L500.94 351.33 L494.15 349.63 L495.61 345.16 Z" fill="#cfcfcf" stroke="#1c1c1c" stroke-width="0.6" stroke-linejoin="round" />
<path d="M499.61 349.36 L501.61 345.68 L494.82 343.99 L492.82 347.67 Z" fill="#cfcfcf" stroke="#1c1c1c" stroke-width="0.6" stroke-linejoin="round" />
<path d="M501.61 345.68 L502.4 346.86 L495.61 345.16 L494.82 343.99 Z" fill="#fff" stroke="#1c1c1c" stroke-width="0.75" stroke-linejoin="round" />
<path d="M501.17 373.54 L502.7 375.32 L501.95 377.88 L499.91 377.82 L499.34 379.43 L500.38 382.26 L499.39 384.59 L497.68 383.33 L496.97 384.74 L497.46 388.43 L496.3 390.38 L495.02 388 L494.23 389.12 L494.14 393.41 L492.88 394.84 L492.13 391.52 L491.3 392.26 L490.63 396.86 L489.37 397.68 L489.19 393.63 L488.39 393.95 L487.19 398.55 L486.01 398.71 L486.42 394.2 L485.69 394.08 L484.03 398.37 L483.01 397.84 L483.98 393.2 L483.39 392.64 L481.39 396.32 L480.6 395.14 L482.06 390.67 L481.64 389.72 L479.43 392.54 L478.93 390.8 L480.79 386.81 L480.56 385.52 L478.3 387.29 L478.11 385.11 L480.24 381.87 L480.22 380.34 L478.07 380.94 L478.21 378.46 L480.46 376.19 L480.66 374.52 L478.75 373.91 L479.21 371.3 L481.43 370.16 L481.83 368.46 L480.3 366.68 L481.05 364.12 L483.09 364.18 L483.66 362.57 L482.62 359.74 L483.61 357.41 L485.32 358.67 L486.03 357.26 L485.54 353.57 L486.7 351.62 L487.98 354 L488.77 352.88 L488.86 348.59 L490.12 347.16 L490.87 350.48 L491.7 349.74 L492.37 345.14 L493.63 344.32 L493.81 348.37 L494.61 348.05 L495.81 343.45 L496.99 343.29 L496.58 347.8 L497.31 347.92 L498.97 343.63 L499.99 344.16 L499.02 348.8 L499.61 349.36 L501.61 345.68 L502.4 346.86 L500.94 351.33 L501.36 352.28 L503.57 349.46 L504.07 351.2 L502.21 355.19 L502.44 356.48 L504.7 354.71 L504.89 356.89 L502.76 360.13 L502.78 361.66 L504.93 361.06 L504.79 363.54 L502.54 365.81 L502.34 367.48 L504.25 368.09 L503.79 370.7 L501.57 371.84 Z" fill="#fff" stroke="#1c1c1c" stroke-width="0.95" stroke-linejoin="round" />
<ellipse cx="491.5" cy="371" rx="9.42" ry="22.44" transform="rotate(14 491.5 371)" fill="#fff" stroke="#1c1c1c" stroke-width="1.25" />
<ellipse cx="491.11" cy="370.9" rx="8.77" ry="20.87" transform="rotate(14 491.11 370.9)" fill="none" stroke="#1c1c1c" stroke-width="0.7" />
<ellipse cx="489.56" cy="370.52" rx="5.61" ry="13.35" transform="rotate(14 489.56 370.52)" fill="none" stroke="#1c1c1c" stroke-width="1.0" />
<ellipse cx="489.56" cy="370.52" rx="3.82" ry="9.09" transform="rotate(14 489.56 370.52)" fill="#d8d8d8" stroke="#1c1c1c" stroke-width="1.1" />
<ellipse cx="490.53" cy="370.76" rx="3.82" ry="9.09" transform="rotate(14 490.53 370.76)" fill="#e4e4e4" stroke="#1c1c1c" stroke-width="0.8" />
<ellipse cx="490.53" cy="370.76" rx="3.1" ry="7.38" transform="rotate(14 490.53 370.76)" fill="none" stroke="#1c1c1c" stroke-width="0.7" />
<ellipse cx="490.53" cy="370.76" rx="2.27" ry="5.4" transform="rotate(14 490.53 370.76)" fill="#fff" stroke="#1c1c1c" stroke-width="1.0" />
<path d="M548.89 359.22 L550.51 361 L549.81 363.52 L547.64 363.7 L547.1 365.41 L548.41 367.92 L547.55 370.33 L545.56 369.7 L544.92 371.31 L545.88 374.48 L544.88 376.71 L543.13 375.27 L542.4 376.74 L542.99 380.48 L541.88 382.47 L540.42 380.28 L539.63 381.55 L539.82 385.76 L538.63 387.45 L537.51 384.56 L536.67 385.61 L536.47 390.16 L535.24 391.5 L534.48 387.99 L533.62 388.79 L533.03 393.55 L531.79 394.51 L531.42 390.49 L530.57 391.01 L529.6 395.84 L528.39 396.38 L528.42 391.97 L527.6 392.2 L526.28 396.97 L525.13 397.08 L525.55 392.39 L524.79 392.32 L523.16 396.89 L522.11 396.57 L522.92 391.75 L522.23 391.38 L520.34 395.61 L519.41 394.87 L520.58 390.05 L519.99 389.39 L517.89 393.17 L517.12 392.02 L518.62 387.35 L518.14 386.43 L515.89 389.64 L515.29 388.13 L517.08 383.73 L516.73 382.56 L514.4 385.13 L513.99 383.28 L516 379.29 L515.79 377.91 L513.45 379.75 L513.24 377.63 L515.43 374.15 L515.36 372.61 L513.07 373.66 L513.08 371.33 L515.38 368.47 L515.46 366.81 L513.28 367.04 L513.49 364.57 L515.84 362.41 L516.06 360.67 L514.06 360.09 L514.48 357.54 L516.81 356.15 L517.17 354.38 L515.4 352.99 L516.02 350.44 L518.25 349.85 L518.74 348.11 L517.26 345.96 L518.05 343.49 L520.14 343.71 L520.73 342.05 L519.59 339.2 L520.53 336.87 L522.4 337.91 L523.09 336.36 L522.31 332.89 L523.37 330.77 L524.98 332.6 L525.75 331.22 L525.35 327.23 L526.51 325.39 L527.8 327.94 L528.62 326.77 L528.62 322.38 L529.84 320.86 L530.78 324.07 L531.63 323.14 L532.03 318.47 L533.27 317.31 L533.84 321.09 L534.69 320.43 L535.48 315.61 L536.71 314.86 L536.88 319.1 L537.72 318.72 L538.87 313.9 L540.05 313.57 L539.83 318.14 L540.62 318.06 L542.1 313.38 L543.2 313.48 L542.58 318.25 L543.31 318.48 L545.08 314.06 L546.07 314.59 L545.08 319.43 L545.72 319.94 L547.72 315.92 L548.57 316.87 L547.24 321.63 L547.77 322.43 L549.95 318.91 L550.64 320.25 L549 324.81 L549.41 325.85 L551.71 322.95 L552.21 324.64 L550.31 328.85 L550.59 330.13 L552.94 327.92 L553.24 329.91 L551.13 333.66 L551.27 335.12 L553.6 333.67 L553.7 335.91 L551.45 339.08 L551.44 340.69 L553.69 340.05 L553.57 342.46 L551.24 344.98 L551.09 346.68 L553.19 346.86 L552.87 349.38 L550.52 351.16 L550.23 352.92 L552.12 353.91 L551.6 356.47 L549.31 357.46 Z" fill="#8a8a8a" stroke="#1c1c1c" stroke-width="0.8" stroke-linejoin="round" />
<path d="M530.48 393.77 L524.18 392.2 L522.6 391.59 L521.15 390.58 L519.83 389.19 L518.66 387.43 L517.65 385.31 L516.81 382.86 L516.15 380.11 L515.69 377.09 L515.41 373.83 L515.34 370.36 L515.46 366.73 L515.78 362.97 L516.29 359.13 L516.99 355.24 L517.87 351.36 L518.91 347.51 L520.12 343.75 L521.47 340.12 L522.96 336.65 L524.56 333.39 L526.25 330.37 L528.02 327.61 L529.85 325.16 L531.72 323.04 L533.61 321.28 L535.5 319.88 L537.36 318.87 L539.18 318.26 L540.94 318.06 L542.61 318.26 L548.92 319.83 L548.92 319.83 L547.24 319.63 L545.49 319.83 L543.67 320.44 L541.81 321.45 L539.92 322.85 L538.03 324.62 L536.16 326.74 L534.33 329.19 L532.56 331.94 L530.86 334.96 L529.26 338.23 L527.78 341.69 L526.43 345.33 L525.22 349.09 L524.17 352.93 L523.29 356.81 L522.6 360.7 L522.08 364.54 L521.77 368.3 L521.64 371.93 L521.72 375.4 L521.99 378.66 L522.46 381.68 L523.12 384.43 L523.95 386.88 L524.96 389 L526.14 390.76 L527.46 392.16 L528.91 393.16 L530.48 393.77 Z" fill="#9a9a9a" stroke="none"/>
<path d="M534.69 397.96 L534.72 393.54 L528.42 391.97 L528.39 396.38 Z" fill="#cfcfcf" stroke="#1c1c1c" stroke-width="0.6" stroke-linejoin="round" />
<path d="M536.88 392.58 L535.91 397.42 L529.6 395.84 L530.57 391.01 Z" fill="#cfcfcf" stroke="#1c1c1c" stroke-width="0.6" stroke-linejoin="round" />
<path d="M535.91 397.42 L534.69 397.96 L528.39 396.38 L529.6 395.84 Z" fill="#fff" stroke="#1c1c1c" stroke-width="0.75" stroke-linejoin="round" />
<path d="M531.44 398.65 L531.86 393.96 L525.55 392.39 L525.13 397.08 Z" fill="#cfcfcf" stroke="#1c1c1c" stroke-width="0.6" stroke-linejoin="round" />
<path d="M533.9 393.77 L532.59 398.54 L526.28 396.97 L527.6 392.2 Z" fill="#cfcfcf" stroke="#1c1c1c" stroke-width="0.6" stroke-linejoin="round" />
<path d="M532.59 398.54 L531.44 398.65 L525.13 397.08 L526.28 396.97 Z" fill="#fff" stroke="#1c1c1c" stroke-width="0.75" stroke-linejoin="round" />
<path d="M528.42 398.14 L529.22 393.32 L522.92 391.75 L522.11 396.57 Z" fill="#cfcfcf" stroke="#1c1c1c" stroke-width="0.6" stroke-linejoin="round" />
<path d="M531.1 393.89 L529.47 398.46 L523.16 396.89 L524.79 392.32 Z" fill="#cfcfcf" stroke="#1c1c1c" stroke-width="0.6" stroke-linejoin="round" />
<path d="M529.47 398.46 L528.42 398.14 L522.11 396.57 L523.16 396.89 Z" fill="#fff" stroke="#1c1c1c" stroke-width="0.75" stroke-linejoin="round" />
<path d="M525.72 396.44 L526.89 391.62 L520.58 390.05 L519.41 394.87 Z" fill="#cfcfcf" stroke="#1c1c1c" stroke-width="0.6" stroke-linejoin="round" />
<path d="M528.54 392.95 L526.65 397.19 L520.34 395.61 L522.23 391.38 Z" fill="#cfcfcf" stroke="#1c1c1c" stroke-width="0.6" stroke-linejoin="round" />
<path d="M526.65 397.19 L525.72 396.44 L519.41 394.87 L520.34 395.61 Z" fill="#fff" stroke="#1c1c1c" stroke-width="0.75" stroke-linejoin="round" />
<path d="M523.43 393.6 L524.92 388.92 L518.62 387.35 L517.12 392.02 Z" fill="#cfcfcf" stroke="#1c1c1c" stroke-width="0.6" stroke-linejoin="round" />
<path d="M526.3 390.96 L524.2 394.75 L517.89 393.17 L519.99 389.39 Z" fill="#cfcfcf" stroke="#1c1c1c" stroke-width="0.6" stroke-linejoin="round" />
<path d="M524.2 394.75 L523.43 393.6 L517.12 392.02 L517.89 393.17 Z" fill="#fff" stroke="#1c1c1c" stroke-width="0.75" stroke-linejoin="round" />
<path d="M521.6 389.7 L523.38 385.3 L517.08 383.73 L515.29 388.13 Z" fill="#cfcfcf" stroke="#1c1c1c" stroke-width="0.6" stroke-linejoin="round" />
<path d="M524.45 388 L522.2 391.22 L515.89 389.64 L518.14 386.43 Z" fill="#cfcfcf" stroke="#1c1c1c" stroke-width="0.6" stroke-linejoin="round" />
<path d="M522.2 391.22 L521.6 389.7 L515.29 388.13 L515.89 389.64 Z" fill="#fff" stroke="#1c1c1c" stroke-width="0.75" stroke-linejoin="round" />
<path d="M520.3 384.85 L522.31 380.86 L516 379.29 L513.99 383.28 Z" fill="#cfcfcf" stroke="#1c1c1c" stroke-width="0.6" stroke-linejoin="round" />
<path d="M523.03 384.14 L520.7 386.7 L514.4 385.13 L516.73 382.56 Z" fill="#cfcfcf" stroke="#1c1c1c" stroke-width="0.6" stroke-linejoin="round" />
<path d="M520.7 386.7 L520.3 384.85 L513.99 383.28 L514.4 385.13 Z" fill="#fff" stroke="#1c1c1c" stroke-width="0.75" stroke-linejoin="round" />
<path d="M519.55 379.2 L521.74 375.72 L515.43 374.15 L513.24 377.63 Z" fill="#cfcfcf" stroke="#1c1c1c" stroke-width="0.6" stroke-linejoin="round" />
<path d="M522.1 379.49 L519.75 381.32 L513.45 379.75 L515.79 377.91 Z" fill="#cfcfcf" stroke="#1c1c1c" stroke-width="0.6" stroke-linejoin="round" />
<path d="M519.75 381.32 L519.55 379.2 L513.24 377.63 L513.45 379.75 Z" fill="#fff" stroke="#1c1c1c" stroke-width="0.75" stroke-linejoin="round" />
<path d="M519.38 372.9 L521.68 370.05 L515.38 368.47 L513.08 371.33 Z" fill="#cfcfcf" stroke="#1c1c1c" stroke-width="0.6" stroke-linejoin="round" />
<path d="M521.67 374.18 L519.37 375.23 L513.07 373.66 L515.36 372.61 Z" fill="#cfcfcf" stroke="#1c1c1c" stroke-width="0.6" stroke-linejoin="round" />
<path d="M519.37 375.23 L519.38 372.9 L513.08 371.33 L513.07 373.66 Z" fill="#fff" stroke="#1c1c1c" stroke-width="0.75" stroke-linejoin="round" />
<path d="M519.8 366.14 L522.15 363.99 L515.84 362.41 L513.49 364.57 Z" fill="#cfcfcf" stroke="#1c1c1c" stroke-width="0.6" stroke-linejoin="round" />
<path d="M521.76 368.38 L519.58 368.62 L513.28 367.04 L515.46 366.81 Z" fill="#cfcfcf" stroke="#1c1c1c" stroke-width="0.6" stroke-linejoin="round" />
<path d="M519.58 368.62 L519.8 366.14 L513.49 364.57 L513.28 367.04 Z" fill="#fff" stroke="#1c1c1c" stroke-width="0.75" stroke-linejoin="round" />
<path d="M520.79 359.11 L523.12 357.72 L516.81 356.15 L514.48 357.54 Z" fill="#cfcfcf" stroke="#1c1c1c" stroke-width="0.6" stroke-linejoin="round" />
<path d="M522.37 362.24 L520.37 361.66 L514.06 360.09 L516.06 360.67 Z" fill="#cfcfcf" stroke="#1c1c1c" stroke-width="0.6" stroke-linejoin="round" />
<path d="M520.37 361.66 L520.79 359.11 L514.48 357.54 L514.06 360.09 Z" fill="#fff" stroke="#1c1c1c" stroke-width="0.75" stroke-linejoin="round" />
<path d="M522.32 352.02 L524.56 351.43 L518.25 349.85 L516.02 350.44 Z" fill="#cfcfcf" stroke="#1c1c1c" stroke-width="0.6" stroke-linejoin="round" />
<path d="M523.47 355.95 L521.71 354.57 L515.4 352.99 L517.17 354.38 Z" fill="#cfcfcf" stroke="#1c1c1c" stroke-width="0.6" stroke-linejoin="round" />
<path d="M521.71 354.57 L522.32 352.02 L516.02 350.44 L515.4 352.99 Z" fill="#fff" stroke="#1c1c1c" stroke-width="0.75" stroke-linejoin="round" />
<path d="M524.36 345.06 L526.44 345.29 L520.14 343.71 L518.05 343.49 Z" fill="#cfcfcf" stroke="#1c1c1c" stroke-width="0.6" stroke-linejoin="round" />
<path d="M525.05 349.68 L523.57 347.54 L517.26 345.96 L518.74 348.11 Z" fill="#cfcfcf" stroke="#1c1c1c" stroke-width="0.6" stroke-linejoin="round" />
<path d="M523.57 347.54 L524.36 345.06 L518.05 343.49 L517.26 345.96 Z" fill="#fff" stroke="#1c1c1c" stroke-width="0.75" stroke-linejoin="round" />
<path d="M526.83 338.44 L528.71 339.48 L522.4 337.91 L520.53 336.87 Z" fill="#cfcfcf" stroke="#1c1c1c" stroke-width="0.6" stroke-linejoin="round" />
<path d="M527.04 343.62 L525.9 340.77 L519.59 339.2 L520.73 342.05 Z" fill="#cfcfcf" stroke="#1c1c1c" stroke-width="0.6" stroke-linejoin="round" />
<path d="M525.9 340.77 L526.83 338.44 L520.53 336.87 L519.59 339.2 Z" fill="#fff" stroke="#1c1c1c" stroke-width="0.75" stroke-linejoin="round" />
<path d="M529.68 332.35 L531.28 334.17 L524.98 332.6 L523.37 330.77 Z" fill="#cfcfcf" stroke="#1c1c1c" stroke-width="0.6" stroke-linejoin="round" />
<path d="M529.4 337.94 L528.62 334.47 L522.31 332.89 L523.09 336.36 Z" fill="#cfcfcf" stroke="#1c1c1c" stroke-width="0.6" stroke-linejoin="round" />
<path d="M528.62 334.47 L529.68 332.35 L523.37 330.77 L522.31 332.89 Z" fill="#fff" stroke="#1c1c1c" stroke-width="0.75" stroke-linejoin="round" />
<path d="M532.81 326.96 L534.1 329.51 L527.8 327.94 L526.51 325.39 Z" fill="#cfcfcf" stroke="#1c1c1c" stroke-width="0.6" stroke-linejoin="round" />
<path d="M532.05 332.79 L531.66 328.81 L525.35 327.23 L525.75 331.22 Z" fill="#cfcfcf" stroke="#1c1c1c" stroke-width="0.6" stroke-linejoin="round" />
<path d="M531.66 328.81 L532.81 326.96 L526.51 325.39 L525.35 327.23 Z" fill="#fff" stroke="#1c1c1c" stroke-width="0.75" stroke-linejoin="round" />
<path d="M536.14 322.43 L537.09 325.64 L530.78 324.07 L529.84 320.86 Z" fill="#cfcfcf" stroke="#1c1c1c" stroke-width="0.6" stroke-linejoin="round" />
<path d="M534.93 328.34 L534.93 323.95 L528.62 322.38 L528.62 326.77 Z" fill="#cfcfcf" stroke="#1c1c1c" stroke-width="0.6" stroke-linejoin="round" />
<path d="M534.93 323.95 L536.14 322.43 L529.84 320.86 L528.62 322.38 Z" fill="#fff" stroke="#1c1c1c" stroke-width="0.75" stroke-linejoin="round" />
<path d="M539.58 318.89 L540.14 322.66 L533.84 321.09 L533.27 317.31 Z" fill="#cfcfcf" stroke="#1c1c1c" stroke-width="0.6" stroke-linejoin="round" />
<path d="M537.94 324.71 L538.34 320.04 L532.03 318.47 L531.63 323.14 Z" fill="#cfcfcf" stroke="#1c1c1c" stroke-width="0.6" stroke-linejoin="round" />
<path d="M538.34 320.04 L539.58 318.89 L533.27 317.31 L532.03 318.47 Z" fill="#fff" stroke="#1c1c1c" stroke-width="0.75" stroke-linejoin="round" />
<path d="M543.02 316.44 L543.19 320.67 L536.88 319.1 L536.71 314.86 Z" fill="#cfcfcf" stroke="#1c1c1c" stroke-width="0.6" stroke-linejoin="round" />
<path d="M541 322 L541.78 317.19 L535.48 315.61 L534.69 320.43 Z" fill="#cfcfcf" stroke="#1c1c1c" stroke-width="0.6" stroke-linejoin="round" />
<path d="M541.78 317.19 L543.02 316.44 L536.71 314.86 L535.48 315.61 Z" fill="#fff" stroke="#1c1c1c" stroke-width="0.75" stroke-linejoin="round" />
<path d="M546.36 315.15 L546.13 319.71 L539.83 318.14 L540.05 313.57 Z" fill="#cfcfcf" stroke="#1c1c1c" stroke-width="0.6" stroke-linejoin="round" />
<path d="M544.03 320.29 L545.17 315.47 L538.87 313.9 L537.72 318.72 Z" fill="#cfcfcf" stroke="#1c1c1c" stroke-width="0.6" stroke-linejoin="round" />
<path d="M545.17 315.47 L546.36 315.15 L540.05 313.57 L538.87 313.9 Z" fill="#fff" stroke="#1c1c1c" stroke-width="0.75" stroke-linejoin="round" />
<path d="M549.51 315.06 L548.89 319.83 L542.58 318.25 L543.2 313.48 Z" fill="#cfcfcf" stroke="#1c1c1c" stroke-width="0.6" stroke-linejoin="round" />
<path d="M546.93 319.64 L548.4 314.95 L542.1 313.38 L540.62 318.06 Z" fill="#cfcfcf" stroke="#1c1c1c" stroke-width="0.6" stroke-linejoin="round" />
<path d="M548.4 314.95 L549.51 315.06 L543.2 313.48 L542.1 313.38 Z" fill="#fff" stroke="#1c1c1c" stroke-width="0.75" stroke-linejoin="round" />
<path d="M552.38 316.17 L551.39 321 L545.08 319.43 L546.07 314.59 Z" fill="#cfcfcf" stroke="#1c1c1c" stroke-width="0.6" stroke-linejoin="round" />
<path d="M549.62 320.05 L551.38 315.63 L545.08 314.06 L543.31 318.48 Z" fill="#cfcfcf" stroke="#1c1c1c" stroke-width="0.6" stroke-linejoin="round" />
<path d="M551.38 315.63 L552.38 316.17 L546.07 314.59 L545.08 314.06 Z" fill="#fff" stroke="#1c1c1c" stroke-width="0.75" stroke-linejoin="round" />
<path d="M554.88 318.44 L553.54 323.21 L547.24 321.63 L548.57 316.87 Z" fill="#cfcfcf" stroke="#1c1c1c" stroke-width="0.6" stroke-linejoin="round" />
<path d="M552.03 321.52 L554.03 317.49 L547.72 315.92 L545.72 319.94 Z" fill="#cfcfcf" stroke="#1c1c1c" stroke-width="0.6" stroke-linejoin="round" />
<path d="M554.03 317.49 L554.88 318.44 L548.57 316.87 L547.72 315.92 Z" fill="#fff" stroke="#1c1c1c" stroke-width="0.75" stroke-linejoin="round" />
<path d="M556.95 321.83 L555.3 326.38 L549 324.81 L550.64 320.25 Z" fill="#cfcfcf" stroke="#1c1c1c" stroke-width="0.6" stroke-linejoin="round" />
<path d="M554.08 324 L556.26 320.49 L549.95 318.91 L547.77 322.43 Z" fill="#cfcfcf" stroke="#1c1c1c" stroke-width="0.6" stroke-linejoin="round" />
<path d="M556.26 320.49 L556.95 321.83 L550.64 320.25 L549.95 318.91 Z" fill="#fff" stroke="#1c1c1c" stroke-width="0.75" stroke-linejoin="round" />
<path d="M555.2 360.8 L556.82 362.57 L556.12 365.09 L553.95 365.27 L553.41 366.98 L554.72 369.49 L553.86 371.91 L551.87 371.27 L551.22 372.88 L552.19 376.05 L551.19 378.28 L549.44 376.85 L548.71 378.31 L549.3 382.05 L548.19 384.05 L546.73 381.85 L545.93 383.13 L546.13 387.33 L544.94 389.02 L543.82 386.13 L542.98 387.18 L542.78 391.73 L541.55 393.07 L540.79 389.57 L539.93 390.36 L539.34 395.12 L538.1 396.08 L537.73 392.06 L536.88 392.58 L535.91 397.42 L534.69 397.96 L534.72 393.54 L533.9 393.77 L532.59 398.54 L531.44 398.65 L531.86 393.96 L531.1 393.89 L529.47 398.46 L528.42 398.14 L529.22 393.32 L528.54 392.95 L526.65 397.19 L525.72 396.44 L526.89 391.62 L526.3 390.96 L524.2 394.75 L523.43 393.6 L524.92 388.92 L524.45 388 L522.2 391.22 L521.6 389.7 L523.38 385.3 L523.03 384.14 L520.7 386.7 L520.3 384.85 L522.31 380.86 L522.1 379.49 L519.75 381.32 L519.55 379.2 L521.74 375.72 L521.67 374.18 L519.37 375.23 L519.38 372.9 L521.68 370.05 L521.76 368.38 L519.58 368.62 L519.8 366.14 L522.15 363.99 L522.37 362.24 L520.37 361.66 L520.79 359.11 L523.12 357.72 L523.47 355.95 L521.71 354.57 L522.32 352.02 L524.56 351.43 L525.05 349.68 L523.57 347.54 L524.36 345.06 L526.44 345.29 L527.04 343.62 L525.9 340.77 L526.83 338.44 L528.71 339.48 L529.4 337.94 L528.62 334.47 L529.68 332.35 L531.28 334.17 L532.05 332.79 L531.66 328.81 L532.81 326.96 L534.1 329.51 L534.93 328.34 L534.93 323.95 L536.14 322.43 L537.09 325.64 L537.94 324.71 L538.34 320.04 L539.58 318.89 L540.14 322.66 L541 322 L541.78 317.19 L543.02 316.44 L543.19 320.67 L544.03 320.29 L545.17 315.47 L546.36 315.15 L546.13 319.71 L546.93 319.64 L548.4 314.95 L549.51 315.06 L548.89 319.83 L549.62 320.05 L551.38 315.63 L552.38 316.17 L551.39 321 L552.03 321.52 L554.03 317.49 L554.88 318.44 L553.54 323.21 L554.08 324 L556.26 320.49 L556.95 321.83 L555.3 326.38 L555.72 327.43 L558.01 324.53 L558.52 326.21 L556.61 330.42 L556.9 331.7 L559.24 329.49 L559.55 331.48 L557.44 335.23 L557.58 336.69 L559.91 335.25 L560.01 337.48 L557.75 340.66 L557.75 342.27 L559.99 341.62 L559.88 344.03 L557.55 346.55 L557.4 348.26 L559.5 348.43 L559.18 350.95 L556.83 352.73 L556.54 354.49 L558.43 355.48 L557.91 358.04 L555.62 359.04 Z" fill="#fff" stroke="#1c1c1c" stroke-width="0.95" stroke-linejoin="round" />
<ellipse cx="539.7" cy="356.8" rx="15.05" ry="35.82" transform="rotate(14 539.7 356.8)" fill="#fff" stroke="#1c1c1c" stroke-width="0.8" />
<ellipse cx="542.42" cy="357.48" rx="15.05" ry="35.82" transform="rotate(14 542.42 357.48)" fill="#fff" stroke="#1c1c1c" stroke-width="1.25" />
<ellipse cx="542.42" cy="357.48" rx="14.23" ry="33.89" transform="rotate(14 542.42 357.48)" fill="none" stroke="#1c1c1c" stroke-width="0.6" />
<ellipse cx="542.42" cy="357.48" rx="8.11" ry="19.3" transform="rotate(14 542.42 357.48)" fill="#fff" stroke="#1c1c1c" stroke-width="1.1" />
<ellipse cx="542.42" cy="357.48" rx="6.13" ry="14.59" transform="rotate(14 542.42 357.48)" fill="#fff" stroke="#1c1c1c" stroke-width="1.0" />
<g clip-path="url(#cl2)">
<ellipse cx="542.42" cy="357.48" rx="6.13" ry="14.59" transform="rotate(14 542.42 357.48)" fill="#b4b4b4" stroke="#1c1c1c" stroke-width="0.5" />
<ellipse cx="534.53" cy="355.51" rx="5.15" ry="12.25" transform="rotate(14 534.53 355.51)" fill="#fff" stroke="#1c1c1c" stroke-width="0.8" />
<path d="M548.36 358.96L540.79 357.07M547.13 360.2L539.56 358.31M545.8 365.84L538.23 363.95M544.69 365.8L537.12 363.91M542.33 370.48L534.76 368.59M541.63 369.17L534.07 367.28M538.89 371.63L531.32 369.74M538.79 369.41L531.22 367.52M536.39 368.99L528.82 367.11M536.92 366.45L529.35 364.56M535.5 363.27L527.94 361.38M536.52 361.09L528.96 359.2M536.47 356L528.9 354.11M537.7 354.75L530.14 352.87M539.03 349.12L531.47 347.23M540.15 349.15L532.58 347.27M542.5 344.48L534.93 342.59M543.2 345.78L535.63 343.9M545.95 343.32L538.38 341.44M546.04 345.55L538.47 343.66M548.44 345.96L540.88 344.07M547.91 348.51L540.34 346.62M549.33 351.68L541.76 349.8M548.31 353.87L540.74 351.98" fill="none" stroke="#1c1c1c" stroke-width="0.9" stroke-linejoin="round" />
<ellipse cx="534.53" cy="355.51" rx="6.13" ry="14.59" transform="rotate(14 534.53 355.51)" fill="none" stroke="#1c1c1c" stroke-width="0.8" />
</g>
<ellipse cx="542.42" cy="357.48" rx="6.13" ry="14.59" transform="rotate(14 542.42 357.48)" fill="none" stroke="#1c1c1c" stroke-width="1.1" />
<text x="538.5" y="382.5" font-size="6.5" fill="#111" font-weight="bold" font-style="italic">1</text>
<ellipse cx="602.83" cy="373.16" rx="9.37" ry="22.3" transform="rotate(14 602.83 373.16)" fill="#fff" stroke="#1c1c1c" stroke-width="0.9" />
<ellipse cx="603.8" cy="373.4" rx="9.37" ry="22.3" transform="rotate(14 603.8 373.4)" fill="#fff" stroke="#1c1c1c" stroke-width="0.9" />
<ellipse cx="603.8" cy="373.4" rx="6.01" ry="14.3" transform="rotate(14 603.8 373.4)" fill="#fff" stroke="#1c1c1c" stroke-width="0.9" />
<line x1="532" y1="355.4" x2="606" y2="374.3" stroke="#1c1c1c" stroke-width="0.85"/>
<path d="M457.2 360.2 L465.6 356 L467.2 359.4 L458.8 364 Z" fill="#fff" stroke="#1c1c1c" stroke-width="0.9" stroke-linejoin="round" />
<circle cx="457.3" cy="362.2" r="2.3" fill="#111"/>
<ellipse cx="562.3" cy="390.3" rx="3.19" ry="7.6" transform="rotate(14 562.3 390.3)" fill="#fff" stroke="#1c1c1c" stroke-width="1.0" />
<ellipse cx="563.3" cy="390.6" rx="3.19" ry="7.6" transform="rotate(14 563.3 390.6)" fill="#fff" stroke="#1c1c1c" stroke-width="1.2" />
<ellipse cx="563.3" cy="390.6" rx="2.1" ry="5" transform="rotate(14 563.3 390.6)" fill="#fff" stroke="#1c1c1c" stroke-width="1.0" />
<ellipse cx="580.22" cy="394.51" rx="4.12" ry="9.8" transform="rotate(14 580.22 394.51)" fill="#fff" stroke="#1c1c1c" stroke-width="0.9" />
<ellipse cx="581" cy="394.7" rx="4.12" ry="9.8" transform="rotate(14 581 394.7)" fill="#fff" stroke="#1c1c1c" stroke-width="0.9" />
<ellipse cx="581" cy="394.7" rx="1.68" ry="4" transform="rotate(14 581 394.7)" fill="#fff" stroke="#1c1c1c" stroke-width="0.9" />
<ellipse cx="575.52" cy="416.41" rx="4.2" ry="10" transform="rotate(14 575.52 416.41)" fill="#fff" stroke="#1c1c1c" stroke-width="0.9" />
<ellipse cx="576.3" cy="416.6" rx="4.2" ry="10" transform="rotate(14 576.3 416.6)" fill="#fff" stroke="#1c1c1c" stroke-width="0.9" />
<ellipse cx="576.3" cy="416.6" rx="1.68" ry="4" transform="rotate(14 576.3 416.6)" fill="#fff" stroke="#1c1c1c" stroke-width="0.9" />
<line x1="566" y1="391.2" x2="582" y2="395.4" stroke="#1c1c1c" stroke-width="0.85"/>
<line x1="568" y1="414.5" x2="577" y2="416.8" stroke="#1c1c1c" stroke-width="0.85"/>
<path d="M647.38 385.52 L649 387.31 L648.27 389.85 L646.14 389.85 L645.58 391.49 L646.78 394.23 L645.84 396.6 L643.98 395.53 L643.29 397.01 L644.01 400.57 L642.91 402.65 L641.42 400.55 L640.64 401.81 L640.85 406 L639.64 407.68 L638.58 404.67 L637.76 405.64 L637.44 410.26 L636.19 411.46 L635.62 407.69 L634.79 408.31 L633.96 413.13 L632.72 413.79 L632.68 409.44 L631.88 409.69 L630.58 414.46 L629.42 414.55 L629.91 409.84 L629.18 409.71 L627.48 414.2 L626.45 413.71 L627.44 408.88 L626.82 408.37 L624.8 412.35 L623.96 411.31 L625.39 406.6 L624.92 405.73 L622.68 409 L622.08 407.46 L623.89 403.11 L623.57 401.94 L621.23 404.33 L620.89 402.37 L622.99 398.59 L622.85 397.17 L620.52 398.57 L620.46 396.28 L622.74 393.26 L622.79 391.66 L620.59 392 L620.81 389.5 L623.15 387.4 L623.39 385.71 L621.43 384.96 L621.92 382.38 L624.22 381.3 L624.62 379.59 L623 377.8 L623.74 375.26 L625.87 375.26 L626.43 373.62 L625.23 370.88 L626.17 368.51 L628.03 369.58 L628.71 368.1 L627.99 364.54 L629.09 362.46 L630.59 364.56 L631.36 363.3 L631.16 359.11 L632.36 357.43 L633.42 360.44 L634.24 359.47 L634.56 354.85 L635.82 353.65 L636.38 357.42 L637.21 356.8 L638.04 351.98 L639.28 351.32 L639.32 355.67 L640.12 355.42 L641.42 350.65 L642.58 350.56 L642.1 355.27 L642.83 355.4 L644.53 350.91 L645.55 351.4 L644.57 356.23 L645.19 356.74 L647.21 352.76 L648.04 353.8 L646.61 358.51 L647.09 359.38 L649.32 356.11 L649.93 357.65 L648.12 362 L648.43 363.17 L650.77 360.78 L651.12 362.74 L649.02 366.52 L649.15 367.94 L651.48 366.54 L651.55 368.83 L649.27 371.85 L649.22 373.45 L651.41 373.11 L651.2 375.61 L648.85 377.71 L648.62 379.4 L650.57 380.15 L650.09 382.73 L647.79 383.81 Z" fill="#8a8a8a" stroke="#1c1c1c" stroke-width="0.8" stroke-linejoin="round" />
<path d="M635.83 411.37 L629.23 409.72 L628.07 409.28 L627 408.54 L626.03 407.51 L625.17 406.22 L624.43 404.66 L623.81 402.86 L623.33 400.84 L622.99 398.62 L622.79 396.22 L622.73 393.68 L622.82 391.01 L623.06 388.24 L623.43 385.42 L623.95 382.57 L624.59 379.71 L625.36 376.89 L626.25 374.12 L627.24 371.45 L628.33 368.91 L629.51 366.51 L630.75 364.28 L632.05 362.26 L633.4 360.46 L634.78 358.9 L636.16 357.6 L637.55 356.58 L638.92 355.84 L640.26 355.39 L641.55 355.24 L642.78 355.39 L649.37 357.03 L649.37 357.03 L648.14 356.88 L646.85 357.03 L645.52 357.48 L644.15 358.22 L642.76 359.25 L641.37 360.55 L640 362.11 L638.65 363.91 L637.35 365.93 L636.1 368.15 L634.93 370.55 L633.84 373.1 L632.85 375.77 L631.96 378.53 L631.19 381.35 L630.54 384.21 L630.03 387.07 L629.65 389.89 L629.42 392.65 L629.33 395.32 L629.39 397.87 L629.59 400.26 L629.93 402.49 L630.41 404.51 L631.03 406.31 L631.77 407.86 L632.63 409.16 L633.6 410.18 L634.67 410.92 L635.83 411.37 Z" fill="#9a9a9a" stroke="none"/>
<path d="M639.32 415.44 L639.28 411.08 L632.68 409.44 L632.72 413.79 Z" fill="#cfcfcf" stroke="#1c1c1c" stroke-width="0.6" stroke-linejoin="round" />
<path d="M641.39 409.95 L640.56 414.77 L633.96 413.13 L634.79 408.31 Z" fill="#cfcfcf" stroke="#1c1c1c" stroke-width="0.6" stroke-linejoin="round" />
<path d="M640.56 414.77 L639.32 415.44 L632.72 413.79 L633.96 413.13 Z" fill="#fff" stroke="#1c1c1c" stroke-width="0.75" stroke-linejoin="round" />
<path d="M636.02 416.2 L636.5 411.49 L629.91 409.84 L629.42 414.55 Z" fill="#cfcfcf" stroke="#1c1c1c" stroke-width="0.6" stroke-linejoin="round" />
<path d="M638.48 411.33 L637.18 416.11 L630.58 414.46 L631.88 409.69 Z" fill="#cfcfcf" stroke="#1c1c1c" stroke-width="0.6" stroke-linejoin="round" />
<path d="M637.18 416.11 L636.02 416.2 L629.42 414.55 L630.58 414.46 Z" fill="#fff" stroke="#1c1c1c" stroke-width="0.75" stroke-linejoin="round" />
<path d="M633.05 415.36 L634.03 410.52 L627.44 408.88 L626.45 413.71 Z" fill="#cfcfcf" stroke="#1c1c1c" stroke-width="0.6" stroke-linejoin="round" />
<path d="M635.78 411.36 L634.07 415.84 L627.48 414.2 L629.18 409.71 Z" fill="#cfcfcf" stroke="#1c1c1c" stroke-width="0.6" stroke-linejoin="round" />
<path d="M634.07 415.84 L633.05 415.36 L626.45 413.71 L627.48 414.2 Z" fill="#fff" stroke="#1c1c1c" stroke-width="0.75" stroke-linejoin="round" />
<path d="M630.56 412.95 L631.99 408.24 L625.39 406.6 L623.96 411.31 Z" fill="#cfcfcf" stroke="#1c1c1c" stroke-width="0.6" stroke-linejoin="round" />
<path d="M633.41 410.01 L631.39 413.99 L624.8 412.35 L626.82 408.37 Z" fill="#cfcfcf" stroke="#1c1c1c" stroke-width="0.6" stroke-linejoin="round" />
<path d="M631.39 413.99 L630.56 412.95 L623.96 411.31 L624.8 412.35 Z" fill="#fff" stroke="#1c1c1c" stroke-width="0.75" stroke-linejoin="round" />
<path d="M628.68 409.11 L630.48 404.75 L623.89 403.11 L622.08 407.46 Z" fill="#cfcfcf" stroke="#1c1c1c" stroke-width="0.6" stroke-linejoin="round" />
<path d="M631.51 407.38 L629.28 410.65 L622.68 409 L624.92 405.73 Z" fill="#cfcfcf" stroke="#1c1c1c" stroke-width="0.6" stroke-linejoin="round" />
<path d="M629.28 410.65 L628.68 409.11 L622.08 407.46 L622.68 409 Z" fill="#fff" stroke="#1c1c1c" stroke-width="0.75" stroke-linejoin="round" />
<path d="M627.49 404.01 L629.58 400.23 L622.99 398.59 L620.89 402.37 Z" fill="#cfcfcf" stroke="#1c1c1c" stroke-width="0.6" stroke-linejoin="round" />
<path d="M630.17 403.58 L627.83 405.97 L621.23 404.33 L623.57 401.94 Z" fill="#cfcfcf" stroke="#1c1c1c" stroke-width="0.6" stroke-linejoin="round" />
<path d="M627.83 405.97 L627.49 404.01 L620.89 402.37 L621.23 404.33 Z" fill="#fff" stroke="#1c1c1c" stroke-width="0.75" stroke-linejoin="round" />
<path d="M627.06 397.92 L629.34 394.91 L622.74 393.26 L620.46 396.28 Z" fill="#cfcfcf" stroke="#1c1c1c" stroke-width="0.6" stroke-linejoin="round" />
<path d="M629.45 398.81 L627.12 400.21 L620.52 398.57 L622.85 397.17 Z" fill="#cfcfcf" stroke="#1c1c1c" stroke-width="0.6" stroke-linejoin="round" />
<path d="M627.12 400.21 L627.06 397.92 L620.46 396.28 L620.52 398.57 Z" fill="#fff" stroke="#1c1c1c" stroke-width="0.75" stroke-linejoin="round" />
<path d="M627.41 391.15 L629.75 389.05 L623.15 387.4 L620.81 389.5 Z" fill="#cfcfcf" stroke="#1c1c1c" stroke-width="0.6" stroke-linejoin="round" />
<path d="M629.39 393.31 L627.19 393.64 L620.59 392 L622.79 391.66 Z" fill="#cfcfcf" stroke="#1c1c1c" stroke-width="0.6" stroke-linejoin="round" />
<path d="M627.19 393.64 L627.41 391.15 L620.81 389.5 L620.59 392 Z" fill="#fff" stroke="#1c1c1c" stroke-width="0.75" stroke-linejoin="round" />
<path d="M628.52 384.02 L630.81 382.94 L624.22 381.3 L621.92 382.38 Z" fill="#cfcfcf" stroke="#1c1c1c" stroke-width="0.6" stroke-linejoin="round" />
<path d="M629.99 387.35 L628.03 386.6 L621.43 384.96 L623.39 385.71 Z" fill="#cfcfcf" stroke="#1c1c1c" stroke-width="0.6" stroke-linejoin="round" />
<path d="M628.03 386.6 L628.52 384.02 L621.92 382.38 L621.43 384.96 Z" fill="#fff" stroke="#1c1c1c" stroke-width="0.75" stroke-linejoin="round" />
<path d="M630.33 376.9 L632.47 376.9 L625.87 375.26 L623.74 375.26 Z" fill="#cfcfcf" stroke="#1c1c1c" stroke-width="0.6" stroke-linejoin="round" />
<path d="M631.22 381.23 L629.6 379.44 L623 377.8 L624.62 379.59 Z" fill="#cfcfcf" stroke="#1c1c1c" stroke-width="0.6" stroke-linejoin="round" />
<path d="M629.6 379.44 L630.33 376.9 L623.74 375.26 L623 377.8 Z" fill="#fff" stroke="#1c1c1c" stroke-width="0.75" stroke-linejoin="round" />
<path d="M632.77 370.15 L634.63 371.23 L628.03 369.58 L626.17 368.51 Z" fill="#cfcfcf" stroke="#1c1c1c" stroke-width="0.6" stroke-linejoin="round" />
<path d="M633.02 375.26 L631.83 372.52 L625.23 370.88 L626.43 373.62 Z" fill="#cfcfcf" stroke="#1c1c1c" stroke-width="0.6" stroke-linejoin="round" />
<path d="M631.83 372.52 L632.77 370.15 L626.17 368.51 L625.23 370.88 Z" fill="#fff" stroke="#1c1c1c" stroke-width="0.75" stroke-linejoin="round" />
<path d="M635.69 364.11 L637.19 366.2 L630.59 364.56 L629.09 362.46 Z" fill="#cfcfcf" stroke="#1c1c1c" stroke-width="0.6" stroke-linejoin="round" />
<path d="M635.31 369.74 L634.59 366.18 L627.99 364.54 L628.71 368.1 Z" fill="#cfcfcf" stroke="#1c1c1c" stroke-width="0.6" stroke-linejoin="round" />
<path d="M634.59 366.18 L635.69 364.11 L629.09 362.46 L627.99 364.54 Z" fill="#fff" stroke="#1c1c1c" stroke-width="0.75" stroke-linejoin="round" />
<path d="M638.96 359.07 L640.02 362.08 L633.42 360.44 L632.36 357.43 Z" fill="#cfcfcf" stroke="#1c1c1c" stroke-width="0.6" stroke-linejoin="round" />
<path d="M637.96 364.95 L637.75 360.75 L631.16 359.11 L631.36 363.3 Z" fill="#cfcfcf" stroke="#1c1c1c" stroke-width="0.6" stroke-linejoin="round" />
<path d="M637.75 360.75 L638.96 359.07 L632.36 357.43 L631.16 359.11 Z" fill="#fff" stroke="#1c1c1c" stroke-width="0.75" stroke-linejoin="round" />
<path d="M642.42 355.29 L642.98 359.07 L636.38 357.42 L635.82 353.65 Z" fill="#cfcfcf" stroke="#1c1c1c" stroke-width="0.6" stroke-linejoin="round" />
<path d="M640.84 361.12 L641.16 356.49 L634.56 354.85 L634.24 359.47 Z" fill="#cfcfcf" stroke="#1c1c1c" stroke-width="0.6" stroke-linejoin="round" />
<path d="M641.16 356.49 L642.42 355.29 L635.82 353.65 L634.56 354.85 Z" fill="#fff" stroke="#1c1c1c" stroke-width="0.75" stroke-linejoin="round" />
<path d="M645.88 352.96 L645.92 357.32 L639.32 355.67 L639.28 351.32 Z" fill="#cfcfcf" stroke="#1c1c1c" stroke-width="0.6" stroke-linejoin="round" />
<path d="M643.81 358.45 L644.64 353.63 L638.04 351.98 L637.21 356.8 Z" fill="#cfcfcf" stroke="#1c1c1c" stroke-width="0.6" stroke-linejoin="round" />
<path d="M644.64 353.63 L645.88 352.96 L639.28 351.32 L638.04 351.98 Z" fill="#fff" stroke="#1c1c1c" stroke-width="0.75" stroke-linejoin="round" />
<path d="M649.18 352.2 L648.7 356.91 L642.1 355.27 L642.58 350.56 Z" fill="#cfcfcf" stroke="#1c1c1c" stroke-width="0.6" stroke-linejoin="round" />
<path d="M646.72 357.07 L648.02 352.29 L641.42 350.65 L640.12 355.42 Z" fill="#cfcfcf" stroke="#1c1c1c" stroke-width="0.6" stroke-linejoin="round" />
<path d="M648.02 352.29 L649.18 352.2 L642.58 350.56 L641.42 350.65 Z" fill="#fff" stroke="#1c1c1c" stroke-width="0.75" stroke-linejoin="round" />
<path d="M652.15 353.04 L651.17 357.88 L644.57 356.23 L645.55 351.4 Z" fill="#cfcfcf" stroke="#1c1c1c" stroke-width="0.6" stroke-linejoin="round" />
<path d="M649.42 357.04 L651.13 352.56 L644.53 350.91 L642.83 355.4 Z" fill="#cfcfcf" stroke="#1c1c1c" stroke-width="0.6" stroke-linejoin="round" />
<path d="M651.13 352.56 L652.15 353.04 L645.55 351.4 L644.53 350.91 Z" fill="#fff" stroke="#1c1c1c" stroke-width="0.75" stroke-linejoin="round" />
<path d="M654.64 355.45 L653.21 360.16 L646.61 358.51 L648.04 353.8 Z" fill="#cfcfcf" stroke="#1c1c1c" stroke-width="0.6" stroke-linejoin="round" />
<path d="M651.79 358.39 L653.81 354.41 L647.21 352.76 L645.19 356.74 Z" fill="#cfcfcf" stroke="#1c1c1c" stroke-width="0.6" stroke-linejoin="round" />
<path d="M653.81 354.41 L654.64 355.45 L648.04 353.8 L647.21 352.76 Z" fill="#fff" stroke="#1c1c1c" stroke-width="0.75" stroke-linejoin="round" />
<path d="M653.98 387.17 L655.6 388.96 L654.87 391.5 L652.73 391.5 L652.18 393.14 L653.37 395.88 L652.43 398.25 L650.57 397.17 L649.89 398.66 L650.61 402.22 L649.51 404.29 L648.01 402.2 L647.24 403.45 L647.45 407.65 L646.24 409.33 L645.18 406.32 L644.36 407.28 L644.04 411.91 L642.78 413.11 L642.22 409.33 L641.39 409.95 L640.56 414.77 L639.32 415.44 L639.28 411.08 L638.48 411.33 L637.18 416.11 L636.02 416.2 L636.5 411.49 L635.78 411.36 L634.07 415.84 L633.05 415.36 L634.03 410.52 L633.41 410.01 L631.39 413.99 L630.56 412.95 L631.99 408.24 L631.51 407.38 L629.28 410.65 L628.68 409.11 L630.48 404.75 L630.17 403.58 L627.83 405.97 L627.49 404.01 L629.58 400.23 L629.45 398.81 L627.12 400.21 L627.06 397.92 L629.34 394.91 L629.39 393.31 L627.19 393.64 L627.41 391.15 L629.75 389.05 L629.99 387.35 L628.03 386.6 L628.52 384.02 L630.81 382.94 L631.22 381.23 L629.6 379.44 L630.33 376.9 L632.47 376.9 L633.02 375.26 L631.83 372.52 L632.77 370.15 L634.63 371.23 L635.31 369.74 L634.59 366.18 L635.69 364.11 L637.19 366.2 L637.96 364.95 L637.75 360.75 L638.96 359.07 L640.02 362.08 L640.84 361.12 L641.16 356.49 L642.42 355.29 L642.98 359.07 L643.81 358.45 L644.64 353.63 L645.88 352.96 L645.92 357.32 L646.72 357.07 L648.02 352.29 L649.18 352.2 L648.7 356.91 L649.42 357.04 L651.13 352.56 L652.15 353.04 L651.17 357.88 L651.79 358.39 L653.81 354.41 L654.64 355.45 L653.21 360.16 L653.69 361.02 L655.92 357.75 L656.52 359.29 L654.72 363.65 L655.03 364.82 L657.37 362.43 L657.71 364.39 L655.62 368.17 L655.75 369.59 L658.08 368.19 L658.14 370.48 L655.86 373.49 L655.81 375.09 L658.01 374.76 L657.79 377.25 L655.45 379.35 L655.21 381.05 L657.17 381.8 L656.68 384.38 L654.39 385.46 Z" fill="#fff" stroke="#1c1c1c" stroke-width="0.95" stroke-linejoin="round" />
<ellipse cx="642.6" cy="384.2" rx="11.5" ry="27.39" transform="rotate(14 642.6 384.2)" fill="#fff" stroke="#1c1c1c" stroke-width="1.25" />
<ellipse cx="642.6" cy="384.2" rx="10.88" ry="25.91" transform="rotate(14 642.6 384.2)" fill="none" stroke="#1c1c1c" stroke-width="0.6" />
<ellipse cx="641.44" cy="383.91" rx="9.78" ry="23.29" transform="rotate(14 641.44 383.91)" fill="none" stroke="#1c1c1c" stroke-width="0.8" />
<ellipse cx="640.47" cy="383.67" rx="8.4" ry="20.01" transform="rotate(14 640.47 383.67)" fill="none" stroke="#1c1c1c" stroke-width="0.8" />
<ellipse cx="640.47" cy="383.67" rx="6.89" ry="16.4" transform="rotate(14 640.47 383.67)" fill="#fff" stroke="#1c1c1c" stroke-width="1.1" />
<ellipse cx="640.47" cy="383.67" rx="5.51" ry="13.12" transform="rotate(14 640.47 383.67)" fill="#fff" stroke="#1c1c1c" stroke-width="1.0" />
<g clip-path="url(#cl3)">
<ellipse cx="640.47" cy="383.67" rx="5.51" ry="13.12" transform="rotate(14 640.47 383.67)" fill="#b4b4b4" stroke="#1c1c1c" stroke-width="0.5" />
<ellipse cx="632.22" cy="381.61" rx="4.63" ry="11.02" transform="rotate(14 632.22 381.61)" fill="#fff" stroke="#1c1c1c" stroke-width="0.8" />
<path d="M645.81 385L637.89 383.03M644.7 386.12L636.79 384.14M642.93 392.23L635.01 390.25M641.98 391.96L634.06 389.98M639.1 396.19L631.18 394.21M638.67 394.63L630.76 392.66M635.79 395.36L627.88 393.39M636.05 393.12L628.14 391.14M634.27 390.07L626.36 388.1M635.12 387.99L627.2 386.02M635.12 382.33L627.2 380.36M636.23 381.22L628.31 379.24M638.01 375.11L630.09 373.13M638.95 375.38L631.04 373.4M641.83 371.15L633.91 369.17M642.26 372.7L634.34 370.73M645.14 371.97L637.22 370M644.88 374.22L636.96 372.24M646.66 377.26L638.74 375.29M645.81 379.34L637.89 377.37" fill="none" stroke="#1c1c1c" stroke-width="0.9" stroke-linejoin="round" />
<ellipse cx="632.22" cy="381.61" rx="5.51" ry="13.12" transform="rotate(14 632.22 381.61)" fill="none" stroke="#1c1c1c" stroke-width="0.8" />
</g>
<ellipse cx="640.47" cy="383.67" rx="5.51" ry="13.12" transform="rotate(14 640.47 383.67)" fill="none" stroke="#1c1c1c" stroke-width="1.1" />
<ellipse cx="668.83" cy="391.46" rx="6.51" ry="15.5" transform="rotate(14 668.83 391.46)" fill="#fff" stroke="#1c1c1c" stroke-width="0.9" />
<ellipse cx="669.8" cy="391.7" rx="6.51" ry="15.5" transform="rotate(14 669.8 391.7)" fill="#fff" stroke="#1c1c1c" stroke-width="0.9" />
<ellipse cx="669.8" cy="391.7" rx="4.83" ry="11.5" transform="rotate(14 669.8 391.7)" fill="#fff" stroke="#1c1c1c" stroke-width="0.9" />
<ellipse cx="689.54" cy="396.44" rx="5.46" ry="13" transform="rotate(14 689.54 396.44)" fill="#fff" stroke="#1c1c1c" stroke-width="1.0" />
<ellipse cx="691" cy="396.8" rx="5.46" ry="13" transform="rotate(14 691 396.8)" fill="#fff" stroke="#1c1c1c" stroke-width="1.0" />
<ellipse cx="691" cy="396.8" rx="4.54" ry="10.8" transform="rotate(14 691 396.8)" fill="#fff" stroke="#1c1c1c" stroke-width="1.0" />
<ellipse cx="689.54" cy="396.44" rx="4.54" ry="10.8" transform="rotate(14 689.54 396.44)" fill="none" stroke="#1c1c1c" stroke-width="0.6" />
<line x1="646" y1="385.3" x2="705" y2="400.6" stroke="#1c1c1c" stroke-width="0.85"/>
<path d="M618.41 428.38 L619.95 430.13 L619.24 432.63 L617.17 432.74 L616.62 434.4 L617.8 436.98 L616.9 439.34 L615.05 438.52 L614.38 440.04 L615.15 443.35 L614.1 445.47 L612.55 443.74 L611.79 445.07 L612.12 448.97 L610.96 450.76 L609.77 448.2 L608.95 449.29 L608.82 453.61 L607.6 455 L606.82 451.71 L605.98 452.51 L605.4 457.08 L604.17 458.02 L603.83 454.14 L603 454.61 L601.99 459.25 L600.8 459.69 L600.92 455.37 L600.13 455.5 L598.74 460.01 L597.63 459.94 L598.2 455.37 L597.49 455.14 L595.77 459.35 L594.79 458.76 L595.79 454.12 L595.19 453.55 L593.21 457.28 L592.41 456.21 L593.79 451.69 L593.31 450.8 L591.16 453.89 L590.56 452.38 L592.28 448.16 L591.95 447 L589.7 449.33 L589.34 447.43 L591.31 443.69 L591.15 442.3 L588.91 443.77 L588.79 441.57 L590.94 438.46 L590.94 436.89 L588.8 437.45 L588.93 435.04 L591.17 432.69 L591.35 431 L589.38 430.62 L589.76 428.09 L592 426.6 L592.33 424.87 L590.63 423.57 L591.24 421.03 L593.39 420.45 L593.87 418.75 L592.5 416.57 L593.32 414.13 L595.28 414.49 L595.9 412.88 L594.92 409.93 L595.9 407.67 L597.61 408.96 L598.32 407.52 L597.77 403.9 L598.88 401.94 L600.26 404.09 L601.05 402.88 L600.95 398.75 L602.15 397.15 L603.14 400.09 L603.97 399.14 L604.33 394.67 L605.56 393.5 L606.12 397.1 L606.96 396.47 L607.76 391.84 L608.98 391.15 L609.09 395.26 L609.9 394.97 L611.11 390.36 L612.27 390.18 L611.92 394.65 L612.67 394.7 L614.24 390.31 L615.28 390.65 L614.49 395.28 L615.16 395.67 L617.02 391.69 L617.91 392.52 L616.71 397.13 L617.25 397.85 L619.33 394.43 L620.04 395.73 L618.48 400.12 L618.88 401.15 L621.09 398.42 L621.58 400.14 L619.72 404.14 L619.97 405.42 L622.22 403.51 L622.47 405.57 L620.39 409.01 L620.47 410.5 L622.68 409.48 L622.67 411.8 L620.46 414.54 L620.38 416.18 L622.44 416.09 L622.19 418.57 L619.93 420.51 L619.68 422.22 L621.52 423.07 L621.03 425.61 L618.82 426.66 Z" fill="#8a8a8a" stroke="#1c1c1c" stroke-width="0.8" stroke-linejoin="round" />
<path d="M605.45 457.17 L598.17 455.36 L596.89 454.86 L595.7 454.04 L594.62 452.9 L593.66 451.45 L592.83 449.72 L592.14 447.71 L591.61 445.46 L591.22 442.99 L591 440.32 L590.94 437.48 L591.04 434.5 L591.3 431.43 L591.72 428.28 L592.29 425.1 L593.01 421.92 L593.87 418.77 L594.86 415.69 L595.96 412.72 L597.18 409.88 L598.49 407.2 L599.87 404.73 L601.32 402.47 L602.82 400.47 L604.36 398.73 L605.9 397.28 L607.45 396.14 L608.97 395.31 L610.46 394.81 L611.9 394.65 L613.27 394.81 L620.55 396.63 L620.55 396.63 L619.18 396.46 L617.74 396.63 L616.25 397.13 L614.72 397.95 L613.18 399.1 L611.63 400.55 L610.1 402.28 L608.6 404.29 L607.15 406.54 L605.76 409.02 L604.45 411.69 L603.24 414.53 L602.13 417.5 L601.14 420.58 L600.29 423.73 L599.57 426.91 L598.99 430.09 L598.58 433.24 L598.31 436.32 L598.21 439.29 L598.28 442.13 L598.5 444.8 L598.88 447.28 L599.42 449.53 L600.11 451.53 L600.93 453.27 L601.89 454.71 L602.97 455.85 L604.16 456.68 L605.45 457.17 Z" fill="#9a9a9a" stroke="none"/>
<path d="M608.07 461.5 L608.19 457.19 L600.92 455.37 L600.8 459.69 Z" fill="#cfcfcf" stroke="#1c1c1c" stroke-width="0.6" stroke-linejoin="round" />
<path d="M610.28 456.42 L609.27 461.06 L601.99 459.25 L603 454.61 Z" fill="#cfcfcf" stroke="#1c1c1c" stroke-width="0.6" stroke-linejoin="round" />
<path d="M609.27 461.06 L608.07 461.5 L600.8 459.69 L601.99 459.25 Z" fill="#fff" stroke="#1c1c1c" stroke-width="0.75" stroke-linejoin="round" />
<path d="M604.91 461.75 L605.48 457.18 L598.2 455.37 L597.63 459.94 Z" fill="#cfcfcf" stroke="#1c1c1c" stroke-width="0.6" stroke-linejoin="round" />
<path d="M607.41 457.31 L606.02 461.83 L598.74 460.01 L600.13 455.5 Z" fill="#cfcfcf" stroke="#1c1c1c" stroke-width="0.6" stroke-linejoin="round" />
<path d="M606.02 461.83 L604.91 461.75 L597.63 459.94 L598.74 460.01 Z" fill="#fff" stroke="#1c1c1c" stroke-width="0.75" stroke-linejoin="round" />
<path d="M602.07 460.58 L603.07 455.93 L595.79 454.12 L594.79 458.76 Z" fill="#cfcfcf" stroke="#1c1c1c" stroke-width="0.6" stroke-linejoin="round" />
<path d="M604.77 456.95 L603.05 461.16 L595.77 459.35 L597.49 455.14 Z" fill="#cfcfcf" stroke="#1c1c1c" stroke-width="0.6" stroke-linejoin="round" />
<path d="M603.05 461.16 L602.07 460.58 L594.79 458.76 L595.77 459.35 Z" fill="#fff" stroke="#1c1c1c" stroke-width="0.75" stroke-linejoin="round" />
<path d="M599.68 458.02 L601.07 453.5 L593.79 451.69 L592.41 456.21 Z" fill="#cfcfcf" stroke="#1c1c1c" stroke-width="0.6" stroke-linejoin="round" />
<path d="M602.46 455.37 L600.48 459.09 L593.21 457.28 L595.19 453.55 Z" fill="#cfcfcf" stroke="#1c1c1c" stroke-width="0.6" stroke-linejoin="round" />
<path d="M600.48 459.09 L599.68 458.02 L592.41 456.21 L593.21 457.28 Z" fill="#fff" stroke="#1c1c1c" stroke-width="0.75" stroke-linejoin="round" />
<path d="M597.84 454.19 L599.55 449.98 L592.28 448.16 L590.56 452.38 Z" fill="#cfcfcf" stroke="#1c1c1c" stroke-width="0.6" stroke-linejoin="round" />
<path d="M600.59 452.62 L598.43 455.71 L591.16 453.89 L593.31 450.8 Z" fill="#cfcfcf" stroke="#1c1c1c" stroke-width="0.6" stroke-linejoin="round" />
<path d="M598.43 455.71 L597.84 454.19 L590.56 452.38 L591.16 453.89 Z" fill="#fff" stroke="#1c1c1c" stroke-width="0.75" stroke-linejoin="round" />
<path d="M596.62 449.25 L598.59 445.51 L591.31 443.69 L589.34 447.43 Z" fill="#cfcfcf" stroke="#1c1c1c" stroke-width="0.6" stroke-linejoin="round" />
<path d="M599.23 448.81 L596.98 451.14 L589.7 449.33 L591.95 447 Z" fill="#cfcfcf" stroke="#1c1c1c" stroke-width="0.6" stroke-linejoin="round" />
<path d="M596.98 451.14 L596.62 449.25 L589.34 447.43 L589.7 449.33 Z" fill="#fff" stroke="#1c1c1c" stroke-width="0.75" stroke-linejoin="round" />
<path d="M596.06 443.39 L598.22 440.28 L590.94 438.46 L588.79 441.57 Z" fill="#cfcfcf" stroke="#1c1c1c" stroke-width="0.6" stroke-linejoin="round" />
<path d="M598.43 444.11 L596.18 445.59 L588.91 443.77 L591.15 442.3 Z" fill="#cfcfcf" stroke="#1c1c1c" stroke-width="0.6" stroke-linejoin="round" />
<path d="M596.18 445.59 L596.06 443.39 L588.79 441.57 L588.91 443.77 Z" fill="#fff" stroke="#1c1c1c" stroke-width="0.75" stroke-linejoin="round" />
<path d="M596.21 436.85 L598.45 434.5 L591.17 432.69 L588.93 435.04 Z" fill="#cfcfcf" stroke="#1c1c1c" stroke-width="0.6" stroke-linejoin="round" />
<path d="M598.22 438.71 L596.07 439.26 L588.8 437.45 L590.94 436.89 Z" fill="#cfcfcf" stroke="#1c1c1c" stroke-width="0.6" stroke-linejoin="round" />
<path d="M596.07 439.26 L596.21 436.85 L588.93 435.04 L588.8 437.45 Z" fill="#fff" stroke="#1c1c1c" stroke-width="0.75" stroke-linejoin="round" />
<path d="M597.03 429.91 L599.28 428.41 L592 426.6 L589.76 428.09 Z" fill="#cfcfcf" stroke="#1c1c1c" stroke-width="0.6" stroke-linejoin="round" />
<path d="M598.62 432.82 L596.66 432.44 L589.38 430.62 L591.35 431 Z" fill="#cfcfcf" stroke="#1c1c1c" stroke-width="0.6" stroke-linejoin="round" />
<path d="M596.66 432.44 L597.03 429.91 L589.76 428.09 L589.38 430.62 Z" fill="#fff" stroke="#1c1c1c" stroke-width="0.75" stroke-linejoin="round" />
<path d="M598.52 422.84 L600.67 422.26 L593.39 420.45 L591.24 421.03 Z" fill="#cfcfcf" stroke="#1c1c1c" stroke-width="0.6" stroke-linejoin="round" />
<path d="M599.61 426.69 L597.91 425.38 L590.63 423.57 L592.33 424.87 Z" fill="#cfcfcf" stroke="#1c1c1c" stroke-width="0.6" stroke-linejoin="round" />
<path d="M597.91 425.38 L598.52 422.84 L591.24 421.03 L590.63 423.57 Z" fill="#fff" stroke="#1c1c1c" stroke-width="0.75" stroke-linejoin="round" />
<path d="M600.59 415.94 L602.56 416.3 L595.28 414.49 L593.32 414.13 Z" fill="#cfcfcf" stroke="#1c1c1c" stroke-width="0.6" stroke-linejoin="round" />
<path d="M601.15 420.56 L599.78 418.39 L592.5 416.57 L593.87 418.75 Z" fill="#cfcfcf" stroke="#1c1c1c" stroke-width="0.6" stroke-linejoin="round" />
<path d="M599.78 418.39 L600.59 415.94 L593.32 414.13 L592.5 416.57 Z" fill="#fff" stroke="#1c1c1c" stroke-width="0.75" stroke-linejoin="round" />
<path d="M603.18 409.49 L604.88 410.77 L597.61 408.96 L595.9 407.67 Z" fill="#cfcfcf" stroke="#1c1c1c" stroke-width="0.6" stroke-linejoin="round" />
<path d="M603.17 414.7 L602.19 411.74 L594.92 409.93 L595.9 412.88 Z" fill="#cfcfcf" stroke="#1c1c1c" stroke-width="0.6" stroke-linejoin="round" />
<path d="M602.19 411.74 L603.18 409.49 L595.9 407.67 L594.92 409.93 Z" fill="#fff" stroke="#1c1c1c" stroke-width="0.75" stroke-linejoin="round" />
<path d="M606.16 403.75 L607.54 405.91 L600.26 404.09 L598.88 401.94 Z" fill="#cfcfcf" stroke="#1c1c1c" stroke-width="0.6" stroke-linejoin="round" />
<path d="M605.6 409.34 L605.05 405.72 L597.77 403.9 L598.32 407.52 Z" fill="#cfcfcf" stroke="#1c1c1c" stroke-width="0.6" stroke-linejoin="round" />
<path d="M605.05 405.72 L606.16 403.75 L598.88 401.94 L597.77 403.9 Z" fill="#fff" stroke="#1c1c1c" stroke-width="0.75" stroke-linejoin="round" />
<path d="M609.43 398.96 L610.42 401.9 L603.14 400.09 L602.15 397.15 Z" fill="#cfcfcf" stroke="#1c1c1c" stroke-width="0.6" stroke-linejoin="round" />
<path d="M608.33 404.69 L608.23 400.56 L600.95 398.75 L601.05 402.88 Z" fill="#cfcfcf" stroke="#1c1c1c" stroke-width="0.6" stroke-linejoin="round" />
<path d="M608.23 400.56 L609.43 398.96 L602.15 397.15 L600.95 398.75 Z" fill="#fff" stroke="#1c1c1c" stroke-width="0.75" stroke-linejoin="round" />
<path d="M612.84 395.31 L613.4 398.92 L606.12 397.1 L605.56 393.5 Z" fill="#cfcfcf" stroke="#1c1c1c" stroke-width="0.6" stroke-linejoin="round" />
<path d="M611.25 400.96 L611.6 396.48 L604.33 394.67 L603.97 399.14 Z" fill="#cfcfcf" stroke="#1c1c1c" stroke-width="0.6" stroke-linejoin="round" />
<path d="M611.6 396.48 L612.84 395.31 L605.56 393.5 L604.33 394.67 Z" fill="#fff" stroke="#1c1c1c" stroke-width="0.75" stroke-linejoin="round" />
<path d="M616.26 392.96 L616.37 397.08 L609.09 395.26 L608.98 391.15 Z" fill="#cfcfcf" stroke="#1c1c1c" stroke-width="0.6" stroke-linejoin="round" />
<path d="M614.24 398.28 L615.03 393.65 L607.76 391.84 L606.96 396.47 Z" fill="#cfcfcf" stroke="#1c1c1c" stroke-width="0.6" stroke-linejoin="round" />
<path d="M615.03 393.65 L616.26 392.96 L608.98 391.15 L607.76 391.84 Z" fill="#fff" stroke="#1c1c1c" stroke-width="0.75" stroke-linejoin="round" />
<path d="M619.54 392 L619.2 396.46 L611.92 394.65 L612.27 390.18 Z" fill="#cfcfcf" stroke="#1c1c1c" stroke-width="0.6" stroke-linejoin="round" />
<path d="M617.18 396.78 L618.38 392.18 L611.11 390.36 L609.9 394.97 Z" fill="#cfcfcf" stroke="#1c1c1c" stroke-width="0.6" stroke-linejoin="round" />
<path d="M618.38 392.18 L619.54 392 L612.27 390.18 L611.11 390.36 Z" fill="#fff" stroke="#1c1c1c" stroke-width="0.75" stroke-linejoin="round" />
<path d="M622.56 392.46 L621.77 397.09 L614.49 395.28 L615.28 390.65 Z" fill="#cfcfcf" stroke="#1c1c1c" stroke-width="0.6" stroke-linejoin="round" />
<path d="M619.95 396.51 L621.51 392.13 L614.24 390.31 L612.67 394.7 Z" fill="#cfcfcf" stroke="#1c1c1c" stroke-width="0.6" stroke-linejoin="round" />
<path d="M621.51 392.13 L622.56 392.46 L615.28 390.65 L614.24 390.31 Z" fill="#fff" stroke="#1c1c1c" stroke-width="0.75" stroke-linejoin="round" />
<path d="M625.19 394.34 L623.99 398.94 L616.71 397.13 L617.91 392.52 Z" fill="#cfcfcf" stroke="#1c1c1c" stroke-width="0.6" stroke-linejoin="round" />
<path d="M622.43 397.49 L624.29 393.5 L617.02 391.69 L615.16 395.67 Z" fill="#cfcfcf" stroke="#1c1c1c" stroke-width="0.6" stroke-linejoin="round" />
<path d="M624.29 393.5 L625.19 394.34 L617.91 392.52 L617.02 391.69 Z" fill="#fff" stroke="#1c1c1c" stroke-width="0.75" stroke-linejoin="round" />
<path d="M627.31 397.54 L625.75 401.93 L618.48 400.12 L620.04 395.73 Z" fill="#cfcfcf" stroke="#1c1c1c" stroke-width="0.6" stroke-linejoin="round" />
<path d="M624.53 399.67 L626.61 396.24 L619.33 394.43 L617.25 397.85 Z" fill="#cfcfcf" stroke="#1c1c1c" stroke-width="0.6" stroke-linejoin="round" />
<path d="M626.61 396.24 L627.31 397.54 L620.04 395.73 L619.33 394.43 Z" fill="#fff" stroke="#1c1c1c" stroke-width="0.75" stroke-linejoin="round" />
<path d="M625.68 430.19 L627.23 431.94 L626.51 434.45 L624.44 434.56 L623.89 436.22 L625.07 438.8 L624.17 441.16 L622.33 440.33 L621.66 441.86 L622.43 445.16 L621.37 447.28 L619.82 445.56 L619.07 446.89 L619.4 450.78 L618.23 452.58 L617.04 450.01 L616.23 451.1 L616.1 455.42 L614.88 456.82 L614.1 453.53 L613.26 454.32 L612.68 458.9 L611.44 459.83 L611.11 455.95 L610.28 456.42 L609.27 461.06 L608.07 461.5 L608.19 457.19 L607.41 457.31 L606.02 461.83 L604.91 461.75 L605.48 457.18 L604.77 456.95 L603.05 461.16 L602.07 460.58 L603.07 455.93 L602.46 455.37 L600.48 459.09 L599.68 458.02 L601.07 453.5 L600.59 452.62 L598.43 455.71 L597.84 454.19 L599.55 449.98 L599.23 448.81 L596.98 451.14 L596.62 449.25 L598.59 445.51 L598.43 444.11 L596.18 445.59 L596.06 443.39 L598.22 440.28 L598.22 438.71 L596.07 439.26 L596.21 436.85 L598.45 434.5 L598.62 432.82 L596.66 432.44 L597.03 429.91 L599.28 428.41 L599.61 426.69 L597.91 425.38 L598.52 422.84 L600.67 422.26 L601.15 420.56 L599.78 418.39 L600.59 415.94 L602.56 416.3 L603.17 414.7 L602.19 411.74 L603.18 409.49 L604.88 410.77 L605.6 409.34 L605.05 405.72 L606.16 403.75 L607.54 405.91 L608.33 404.69 L608.23 400.56 L609.43 398.96 L610.42 401.9 L611.25 400.96 L611.6 396.48 L612.84 395.31 L613.4 398.92 L614.24 398.28 L615.03 393.65 L616.26 392.96 L616.37 397.08 L617.18 396.78 L618.38 392.18 L619.54 392 L619.2 396.46 L619.95 396.51 L621.51 392.13 L622.56 392.46 L621.77 397.09 L622.43 397.49 L624.29 393.5 L625.19 394.34 L623.99 398.94 L624.53 399.67 L626.61 396.24 L627.31 397.54 L625.75 401.93 L626.16 402.96 L628.37 400.24 L628.85 401.95 L627 405.95 L627.25 407.24 L629.5 405.32 L629.75 407.38 L627.67 410.82 L627.75 412.32 L629.96 411.3 L629.95 413.61 L627.74 416.36 L627.65 417.99 L629.72 417.9 L629.46 420.39 L627.21 422.32 L626.95 424.03 L628.8 424.88 L628.3 427.43 L626.09 428.47 Z" fill="#fff" stroke="#1c1c1c" stroke-width="0.95" stroke-linejoin="round" />
<ellipse cx="613" cy="426.9" rx="12.78" ry="30.43" transform="rotate(14 613 426.9)" fill="#fff" stroke="#1c1c1c" stroke-width="1.25" />
<ellipse cx="612.61" cy="426.8" rx="11.95" ry="28.46" transform="rotate(14 612.61 426.8)" fill="none" stroke="#1c1c1c" stroke-width="0.7" />
<ellipse cx="611.06" cy="426.42" rx="7.07" ry="16.83" transform="rotate(14 611.06 426.42)" fill="none" stroke="#1c1c1c" stroke-width="1.0" />
<ellipse cx="611.06" cy="426.42" rx="4.81" ry="11.46" transform="rotate(14 611.06 426.42)" fill="#d8d8d8" stroke="#1c1c1c" stroke-width="1.1" />
<ellipse cx="612.03" cy="426.66" rx="4.81" ry="11.46" transform="rotate(14 612.03 426.66)" fill="#e4e4e4" stroke="#1c1c1c" stroke-width="0.8" />
<ellipse cx="612.03" cy="426.66" rx="3.91" ry="9.31" transform="rotate(14 612.03 426.66)" fill="none" stroke="#1c1c1c" stroke-width="0.7" />
<ellipse cx="612.03" cy="426.66" rx="2.86" ry="6.8" transform="rotate(14 612.03 426.66)" fill="#fff" stroke="#1c1c1c" stroke-width="1.0" />
<ellipse cx="643.82" cy="434.01" rx="4.33" ry="10.3" transform="rotate(14 643.82 434.01)" fill="#fff" stroke="#1c1c1c" stroke-width="0.9" />
<ellipse cx="644.6" cy="434.2" rx="4.33" ry="10.3" transform="rotate(14 644.6 434.2)" fill="#fff" stroke="#1c1c1c" stroke-width="0.9" />
<ellipse cx="644.6" cy="434.2" rx="1.76" ry="4.2" transform="rotate(14 644.6 434.2)" fill="#fff" stroke="#1c1c1c" stroke-width="0.9" />
<line x1="615" y1="426.5" x2="652" y2="436" stroke="#1c1c1c" stroke-width="0.85"/>
<path d="M581.9 458.1 L581.9 463.8 L615 473.1 L616.2 466.3" fill="none" stroke="#1c1c1c" stroke-width="0.9" stroke-linejoin="round" />
<line x1="586" y1="492.5" x2="593.87" y2="477.17" stroke="#1c1c1c" stroke-width="0.9"/>
<path d="M597.3 470.5 L594.65 479.82 L591.27 478.08 Z" fill="#111" stroke="#1c1c1c" stroke-width="0.3" stroke-linejoin="round" />
<text x="577.5" y="506" font-size="12.6" fill="#383838" >61D</text>
<line x1="514.8" y1="491.8" x2="556.56" y2="404.76" stroke="#1c1c1c" stroke-width="0.9"/>
<path d="M559.8 398 L557.4 407.39 L553.98 405.74 Z" fill="#111" stroke="#1c1c1c" stroke-width="0.3" stroke-linejoin="round" />
<text x="504.7" y="505.2" font-size="12.6" fill="#383838" >62</text>
<line x1="329" y1="187.5" x2="329" y2="213.5" stroke="#1c1c1c" stroke-width="0.9"/>
<path d="M329 221 L327.1 211.5 L330.9 211.5 Z" fill="#111" stroke="#1c1c1c" stroke-width="0.3" stroke-linejoin="round" />
<text x="324.6" y="181.6" font-size="12.6" fill="#383838" >49</text>
<line x1="388.4" y1="187.5" x2="413.11" y2="242.17" stroke="#1c1c1c" stroke-width="0.9"/>
<path d="M416.2 249 L410.56 241.13 L414.02 239.56 Z" fill="#111" stroke="#1c1c1c" stroke-width="0.3" stroke-linejoin="round" />
<text x="379.2" y="182.7" font-size="12.6" fill="#383838" >50</text>
<line x1="442.5" y1="187.5" x2="442.79" y2="337.1" stroke="#1c1c1c" stroke-width="0.9"/>
<path d="M442.8 344.6 L440.88 335.1 L444.68 335.1 Z" fill="#111" stroke="#1c1c1c" stroke-width="0.3" stroke-linejoin="round" />
<text x="434.2" y="182.7" font-size="12.6" fill="#383838" >51</text>
<line x1="498" y1="188.5" x2="490.63" y2="255.05" stroke="#1c1c1c" stroke-width="0.9"/>
<path d="M489.8 262.5 L488.96 252.85 L492.73 253.27 Z" fill="#111" stroke="#1c1c1c" stroke-width="0.3" stroke-linejoin="round" />
<text x="492.6" y="183.7" font-size="12.6" fill="#383838" >52</text>
<line x1="551.5" y1="187.5" x2="470.77" y2="347.7" stroke="#1c1c1c" stroke-width="0.9"/>
<path d="M467.4 354.4 L469.98 345.06 L473.37 346.77 Z" fill="#111" stroke="#1c1c1c" stroke-width="0.3" stroke-linejoin="round" />
<text x="544.3" y="182.7" font-size="12.6" fill="#383838" >53</text>
<line x1="610.5" y1="187" x2="501.91" y2="336.63" stroke="#1c1c1c" stroke-width="0.9"/>
<path d="M497.5 342.7 L501.54 333.9 L504.62 336.13 Z" fill="#111" stroke="#1c1c1c" stroke-width="0.3" stroke-linejoin="round" />
<text x="603.4" y="182" font-size="12.6" fill="#383838" >54</text>
<line x1="665" y1="188.5" x2="596.09" y2="262.99" stroke="#1c1c1c" stroke-width="0.9"/>
<path d="M591 268.5 L596.06 260.24 L598.85 262.82 Z" fill="#111" stroke="#1c1c1c" stroke-width="0.3" stroke-linejoin="round" />
<text x="660" y="183.4" font-size="12.6" fill="#383838" >55</text>
<line x1="722.5" y1="188.5" x2="624.98" y2="298.39" stroke="#1c1c1c" stroke-width="0.9"/>
<path d="M620 304 L624.88 295.63 L627.73 298.16 Z" fill="#111" stroke="#1c1c1c" stroke-width="0.3" stroke-linejoin="round" />
<text x="718.7" y="183.4" font-size="12.6" fill="#383838" >56</text>
<line x1="757" y1="287.6" x2="660.72" y2="348.97" stroke="#1c1c1c" stroke-width="0.9"/>
<path d="M654.4 353 L661.39 346.29 L663.43 349.5 Z" fill="#111" stroke="#1c1c1c" stroke-width="0.3" stroke-linejoin="round" />
<text x="762.4" y="290" font-size="12.6" fill="#383838" >57</text>
<line x1="757" y1="326.6" x2="683.87" y2="374.49" stroke="#1c1c1c" stroke-width="0.9"/>
<path d="M677.6 378.6 L684.51 371.81 L686.59 374.98 Z" fill="#111" stroke="#1c1c1c" stroke-width="0.3" stroke-linejoin="round" />
<text x="762" y="329.4" font-size="12.6" fill="#383838" >58</text>
<line x1="756.6" y1="369.4" x2="705.81" y2="392.86" stroke="#1c1c1c" stroke-width="0.9"/>
<path d="M699 396 L706.83 390.29 L708.42 393.74 Z" fill="#111" stroke="#1c1c1c" stroke-width="0.3" stroke-linejoin="round" />
<text x="760" y="372" font-size="12.6" fill="#383838" >59</text>
<line x1="756" y1="413.6" x2="658.87" y2="431.82" stroke="#1c1c1c" stroke-width="0.9"/>
<path d="M651.5 433.2 L660.49 429.58 L661.19 433.32 Z" fill="#111" stroke="#1c1c1c" stroke-width="0.3" stroke-linejoin="round" />
<text x="760" y="418" font-size="12.6" fill="#383838" >60</text>
<line x1="270" y1="228.3" x2="283" y2="231.8" stroke="#1c1c1c" stroke-width="0.85"/>
<path d="M281.22 240.39 L272.98 238.34 L272.38 238.01 L271.91 237.35 L271.57 236.41 L271.38 235.22 L271.36 233.85 L271.51 232.36 L271.82 230.83 L272.27 229.34 L272.83 227.96 L273.5 226.75 L274.21 225.79 L274.96 225.12 L275.69 224.76 L276.36 224.75 L284.61 226.81" fill="#fff" stroke="#1c1c1c" stroke-width="0.9" stroke-linejoin="round" />
<path d="M293.9 215.7 L359.5 233.6 L352.5 269.7 C349 267.5 346.6 263 346.3 258 L345.5 250.4 L299.1 238.2 L299.1 242.9 C298.8 247 296 251.2 291 252.4 C286 253.2 282.4 250 281.6 245.5 L281.6 233.2 C282 225 286.5 218.5 293.9 215.7 Z" fill="#fff" stroke="#1c1c1c" stroke-width="0.9" stroke-linejoin="round" />
<path d="M284.3 244 C285 240.6 288 238.8 291.5 239.4 C294.5 240 297 241.5 298.8 244.2" fill="none" stroke="#1c1c1c" stroke-width="0.8" stroke-linejoin="round" />
<line x1="282.3" y1="233.3" x2="345.5" y2="250.4" stroke="#1c1c1c" stroke-width="0.85"/>
<line x1="283" y1="231.8" x2="346" y2="248.5" stroke="#1c1c1c" stroke-width="0.85" stroke-dasharray="32 5 13 5"/>
<ellipse cx="355.5" cy="251.7" rx="7.9" ry="18.8" transform="rotate(14 355.5 251.7)" fill="#fff" stroke="#1c1c1c" stroke-width="0.9" />
<ellipse cx="357.24" cy="252.13" rx="7.9" ry="18.8" transform="rotate(14 357.24 252.13)" fill="#fff" stroke="#1c1c1c" stroke-width="0.9" />
<ellipse cx="357.24" cy="252.13" rx="7.22" ry="17.2" transform="rotate(14 357.24 252.13)" fill="none" stroke="#1c1c1c" stroke-width="0.6" />
<path d="M384.86 272.41 L357.69 265.64 L356.9 265.28 L356.2 264.61 L355.62 263.67 L355.17 262.45 L354.86 261.01 L354.7 259.37 L354.68 257.58 L354.82 255.67 L355.11 253.69 L355.53 251.71 L356.09 249.75 L356.77 247.87 L357.54 246.12 L358.39 244.54 L359.31 243.17 L360.26 242.04 L361.23 241.19 L362.19 240.62 L363.11 240.36 L363.98 240.41 L391.14 247.19" fill="#fff" stroke="#1c1c1c" stroke-width="0.9" stroke-linejoin="round" />
<ellipse cx="388" cy="259.8" rx="5.46" ry="13" transform="rotate(14 388 259.8)" fill="#fff" stroke="#1c1c1c" stroke-width="0.9" />
<g>
<path d="M383.88 272.17 L361.57 266.61 L364.69 267.24 L383.13 271.83 Z" fill="#777" stroke="#1c1c1c" stroke-width="0.65" stroke-linejoin="round" />
<path d="M382.1 270.71 L359.78 265.14 L363.16 265.08 L381.6 269.68 Z" fill="#777" stroke="#1c1c1c" stroke-width="0.65" stroke-linejoin="round" />
<path d="M381.06 267.54 L358.74 261.98 L362.46 261.38 L380.9 265.98 Z" fill="#777" stroke="#1c1c1c" stroke-width="0.65" stroke-linejoin="round" />
<path d="M380.93 263.16 L358.61 257.6 L362.7 256.71 L381.13 261.31 Z" fill="#777" stroke="#1c1c1c" stroke-width="0.65" stroke-linejoin="round" />
<path d="M381.73 258.24 L359.42 252.67 L363.83 251.77 L382.26 256.37 Z" fill="#777" stroke="#1c1c1c" stroke-width="0.65" stroke-linejoin="round" />
<path d="M383.34 253.51 L361.02 247.95 L365.68 247.32 L384.12 251.91 Z" fill="#777" stroke="#1c1c1c" stroke-width="0.65" stroke-linejoin="round" />
<path d="M385.51 249.7 L363.19 244.14 L367.98 244.03 L386.42 248.62 Z" fill="#777" stroke="#1c1c1c" stroke-width="0.65" stroke-linejoin="round" />
<path d="M387.91 247.4 L365.59 241.83 L370.37 242.4 L388.81 247 Z" fill="#777" stroke="#1c1c1c" stroke-width="0.65" stroke-linejoin="round" />
<path d="M390.17 246.94 L367.86 241.38 L372.5 242.69 L390.93 247.28 Z" fill="#777" stroke="#1c1c1c" stroke-width="0.65" stroke-linejoin="round" />
</g>
<ellipse cx="388" cy="259.8" rx="5.46" ry="13" transform="rotate(14 388 259.8)" fill="#fff" stroke="#1c1c1c" stroke-width="1.0" />
<ellipse cx="387.42" cy="259.65" rx="0.92" ry="2.2" transform="rotate(14 387.42 259.65)" fill="#fff" stroke="#1c1c1c" stroke-width="0.9" />
<line x1="393.5" y1="261.2" x2="436" y2="272" stroke="#1c1c1c" stroke-width="0.85"/>
<line x1="446" y1="274.6" x2="461" y2="278.5" stroke="#1c1c1c" stroke-width="0.85"/>
<ellipse cx="417.74" cy="267.29" rx="7.98" ry="19" transform="rotate(14 417.74 267.29)" fill="#fff" stroke="#1c1c1c" stroke-width="0.9" />
<ellipse cx="419" cy="267.6" rx="7.98" ry="19" transform="rotate(14 419 267.6)" fill="#fff" stroke="#1c1c1c" stroke-width="0.9" />
<ellipse cx="419" cy="267.6" rx="6.09" ry="14.5" transform="rotate(14 419 267.6)" fill="#fff" stroke="#1c1c1c" stroke-width="0.9" />
<line x1="409" y1="265.1" x2="421.5" y2="268.3" stroke="#1c1c1c" stroke-width="0.85"/>
<line x1="15" y1="454.4" x2="36" y2="459.6" stroke="#1c1c1c" stroke-width="0.85"/>
<path d="M29.86 463.74 L20.64 461.45 L20.3 461.29 L20 461 L19.75 460.6 L19.56 460.07 L19.42 459.45 L19.35 458.75 L19.35 457.97 L19.41 457.15 L19.53 456.3 L19.71 455.44 L19.95 454.6 L20.24 453.79 L20.58 453.04 L20.95 452.36 L21.34 451.77 L21.75 451.28 L22.17 450.91 L22.58 450.67 L22.98 450.56 L23.35 450.58 L32.57 452.88" fill="#fff" stroke="#1c1c1c" stroke-width="0.9" stroke-linejoin="round" />
<ellipse cx="31.21" cy="458.31" rx="2.35" ry="5.6" transform="rotate(14 31.21 458.31)" fill="#fff" stroke="#1c1c1c" stroke-width="0.9" />
<ellipse cx="31.21" cy="458.31" rx="2.35" ry="5.6" transform="rotate(14 31.21 458.31)" fill="#fff" stroke="#1c1c1c" stroke-width="0.9" />
<path d="M46.94 469.65 L28.5 465.06 L28.06 464.85 L27.68 464.49 L27.36 463.96 L27.11 463.29 L26.94 462.49 L26.85 461.58 L26.84 460.59 L26.91 459.53 L27.07 458.44 L27.31 457.34 L27.62 456.25 L27.99 455.21 L28.42 454.25 L28.89 453.37 L29.4 452.61 L29.93 451.99 L30.46 451.51 L30.99 451.2 L31.51 451.05 L31.99 451.08 L50.42 455.68" fill="#fff" stroke="#1c1c1c" stroke-width="0.9" stroke-linejoin="round" />
<path d="M78.86 482.15 L45.87 473.92 L45.17 473.6 L44.55 473.01 L44.03 472.16 L43.63 471.08 L43.35 469.79 L43.21 468.33 L43.19 466.73 L43.32 465.02 L43.57 463.26 L43.95 461.49 L44.45 459.74 L45.05 458.07 L45.74 456.51 L46.5 455.1 L47.32 453.87 L48.17 452.87 L49.03 452.1 L49.89 451.6 L50.71 451.36 L51.49 451.41 L84.48 459.64" fill="#fff" stroke="#1c1c1c" stroke-width="0.9" stroke-linejoin="round" />
<path d="M51.69 475.37 L50.71 474.83 L49.92 473.75 L49.36 472.18 L49.06 470.21 L49.02 467.94 L49.27 465.47 L49.77 462.94 L50.52 460.46 L51.46 458.17 L52.55 456.18 L53.75 454.58 L54.98 453.46 L56.19 452.88 L57.31 452.86" fill="none" stroke="#1c1c1c" stroke-width="0.8" stroke-linejoin="round" />
<path d="M58.49 477.07 L57.51 476.52 L56.71 475.44 L56.15 473.88 L55.85 471.91 L55.82 469.63 L56.06 467.17 L56.57 464.63 L57.31 462.16 L58.25 459.86 L59.35 457.87 L60.54 456.28 L61.77 455.16 L62.98 454.57 L64.1 454.56" fill="none" stroke="#1c1c1c" stroke-width="0.8" stroke-linejoin="round" />
<path d="M66.73 479.12 L65.75 478.58 L64.96 477.5 L64.4 475.93 L64.1 473.96 L64.06 471.69 L64.31 469.22 L64.81 466.69 L65.56 464.21 L66.5 461.92 L67.59 459.93 L68.79 458.33 L70.02 457.21 L71.22 456.63 L72.35 456.61" fill="none" stroke="#1c1c1c" stroke-width="0.8" stroke-linejoin="round" />
<path d="M47.16 472.08 L46.35 471.63 L45.71 470.75 L45.24 469.46 L45 467.85 L44.97 465.99 L45.17 463.97 L45.58 461.89 L46.19 459.87 L46.96 457.99 L47.86 456.36 L48.84 455.05 L49.85 454.14 L50.83 453.66 L51.75 453.64" fill="none" stroke="#1c1c1c" stroke-width="0.8" stroke-linejoin="round" />
<path d="M83.98 486.41 L78.16 484.96 L77.28 484.56 L76.51 483.82 L75.86 482.76 L75.36 481.41 L75.01 479.8 L74.83 477.97 L74.81 475.97 L74.97 473.84 L75.28 471.64 L75.76 469.42 L76.38 467.23 L77.13 465.14 L78 463.19 L78.95 461.43 L79.97 459.9 L81.03 458.64 L82.11 457.69 L83.18 457.05 L84.21 456.76 L85.18 456.82 L91 458.27" fill="#fff" stroke="#1c1c1c" stroke-width="0.9" stroke-linejoin="round" />
<path d="M105.16 525.49 L89.63 521.62 L88.16 521.11 L86.76 520.31 L85.45 519.23 L84.24 517.89 L83.13 516.29 L82.13 514.44 L81.25 512.35 L80.49 510.03 L79.86 507.51 L79.35 504.78 L78.99 501.88 L78.75 498.82 L78.66 495.61 L78.71 492.28 L78.89 488.85 L79.21 485.34 L79.66 481.77 L80.25 478.16 L80.96 474.54 L81.8 470.92 L82.76 467.34 L83.83 463.8 L85 460.34 L86.28 456.98 L87.65 453.73 L89.1 450.61 L90.62 447.65 L92.21 444.86 L93.85 442.27 L95.54 439.88 L97.26 437.71 L99 435.77 L100.76 434.09 L102.52 432.65 L104.27 431.49 L106 430.6 L107.7 429.98 L109.36 429.65 L110.97 429.6 L112.52 429.83 L128.04 433.71" fill="#fff" stroke="#1c1c1c" stroke-width="0.9" stroke-linejoin="round" />
<ellipse cx="116.6" cy="479.6" rx="19.87" ry="47.3" transform="rotate(14 116.6 479.6)" fill="#fff" stroke="#1c1c1c" stroke-width="0.9" />
<path d="M94.38 493.12 L94.63 490.18 L94.97 487.21 L95.4 484.2 L95.93 481.17 L96.55 478.13 L97.25 475.1 L98.04 472.09 L98.9 469.11 L99.85 466.17 L100.86 463.3 L101.95 460.49 L103.09 457.77 L104.3 455.14 L105.56 452.62 L106.87 450.22 L108.22 447.94 L109.6 445.8 L111.02 443.81 L112.46 441.97 L113.92 440.29 L115.39 438.79 L116.86 437.46 L118.34 436.31 L119.8 435.36 L121.25 434.59 L122.69 434.02 L124.09 433.64 L125.47 433.47 L126.8 433.49 L128.09 433.72 L129.33 434.14 L130.52 434.76 L131.65 435.58 L132.71 436.58 L133.7 437.77 L134.61 439.15 L135.45 440.69 L136.21 442.41 L136.88 444.29 L137.47 446.32 L137.96 448.5 L138.36 450.81 L138.67 453.24 L138.88 455.79 L138.99 458.44 L139.01 461.18 L138.93 464.01 L138.76 466.9 L141.28 467.53 L141.46 464.64 L141.53 461.81 L141.52 459.07 L141.4 456.42 L141.19 453.87 L140.88 451.43 L140.48 449.12 L139.99 446.95 L139.4 444.92 L138.73 443.04 L137.98 441.32 L137.14 439.78 L136.22 438.4 L135.23 437.21 L134.17 436.21 L133.04 435.39 L131.86 434.77 L130.62 434.35 L129.32 434.12 L127.99 434.1 L126.62 434.27 L125.21 434.65 L123.78 435.22 L122.32 435.98 L120.86 436.94 L119.38 438.09 L117.91 439.42 L116.44 440.92 L114.98 442.6 L113.54 444.44 L112.12 446.43 L110.74 448.57 L109.39 450.85 L108.08 453.25 L106.82 455.77 L105.62 458.4 L104.47 461.12 L103.38 463.93 L102.37 466.8 L101.42 469.74 L100.56 472.71 L99.77 475.73 L99.07 478.76 L98.45 481.79 L97.93 484.82 L97.49 487.84 L97.15 490.81 L96.91 493.74 Z" fill="#fff" stroke="#1c1c1c" stroke-width="0.8" stroke-linejoin="round" />
<path d="M96.91 493.74 L97.15 490.81 L97.49 487.84 L97.93 484.82 L98.45 481.79 L99.07 478.76 L99.77 475.73 L100.56 472.71 L101.42 469.74 L102.37 466.8 L103.38 463.93 L104.47 461.12 L105.62 458.4 L106.82 455.77 L108.08 453.25 L109.39 450.85 L110.74 448.57 L112.12 446.43 L113.54 444.44 L114.98 442.6 L116.44 440.92 L117.91 439.42 L119.38 438.09 L120.86 436.94 L122.32 435.98 L123.78 435.22 L125.21 434.65 L126.62 434.27 L127.99 434.1 L129.32 434.12 L130.62 434.35 L131.86 434.77 L133.04 435.39 L134.17 436.21 L135.23 437.21 L136.22 438.4 L137.14 439.78 L137.98 441.32 L138.73 443.04 L139.4 444.92 L139.99 446.95 L140.48 449.12 L140.88 451.43 L141.19 453.87 L141.4 456.42 L141.52 459.07 L141.53 461.81 L141.46 464.64 L141.28 467.53 L126.5 476.4 L122.4 480.6 L121.6 477.5 L119.5 474.3 L116.6 475.8 L115.8 480 L113 485.3 L96.5 493.3 Z" fill="#fff" stroke="#1c1c1c" stroke-width="0.9" stroke-linejoin="round" />
<line x1="141.28" y1="467.53" x2="140.08" y2="473.03" stroke="#1c1c1c" stroke-width="0.9"/>
<path d="M92.6 495.4 L92.6 501.4 L96.5 500.4 L96.5 493.3 Z" fill="#fff" stroke="#1c1c1c" stroke-width="0.8" stroke-linejoin="round" />
<ellipse cx="127" cy="487.2" rx="4.87" ry="11.6" transform="rotate(14 127 487.2)" fill="#fff" stroke="#1c1c1c" stroke-width="0.9" />
<path d="M128.41 475.64 L129.39 476.19 L130.18 477.27 L130.74 478.84 L131.05 480.8 L131.08 483.08 L130.83 485.54 L130.33 488.08 L129.58 490.55 L128.64 492.85 L127.55 494.84 L126.35 496.43 L125.12 497.55 L123.92 498.14 L122.79 498.16" fill="none" stroke="#1c1c1c" stroke-width="0.6" stroke-linejoin="round" />
<ellipse cx="112.9" cy="507.4" rx="4.37" ry="10.4" transform="rotate(14 112.9 507.4)" fill="#fff" stroke="#1c1c1c" stroke-width="0.9" />
<ellipse cx="123.8" cy="504.4" rx="1.76" ry="4.2" transform="rotate(14 123.8 504.4)" fill="#fff" stroke="#1c1c1c" stroke-width="0.9" />
<path d="M96.6 520.5 C97.5 516.5 100.5 514.8 103 517.2 C103.5 519.5 102 523 99.5 524.6" fill="none" stroke="#1c1c1c" stroke-width="0.8" stroke-linejoin="round" />
<path d="M122.4 480.6 L121.6 477.5 L119.5 474.3 L116.6 475.8 L115.8 480 L113 485.3" fill="none" stroke="#1c1c1c" stroke-width="0.9" stroke-linejoin="round" />
<line x1="15" y1="454.4" x2="115.5" y2="480" stroke="#1c1c1c" stroke-width="0.85"/>
<line x1="86.3" y1="500.3" x2="156" y2="518.3" stroke="#1c1c1c" stroke-width="0.85"/>
<ellipse cx="147.53" cy="515.36" rx="7.56" ry="18" transform="rotate(14 147.53 515.36)" fill="#fff" stroke="#1c1c1c" stroke-width="0.9" />
<ellipse cx="148.5" cy="515.6" rx="7.56" ry="18" transform="rotate(14 148.5 515.6)" fill="#fff" stroke="#1c1c1c" stroke-width="0.9" />
<ellipse cx="148.5" cy="515.6" rx="4.49" ry="10.7" transform="rotate(14 148.5 515.6)" fill="#fff" stroke="#1c1c1c" stroke-width="0.9" />
<path d="M155.88 501.26 L155.51 504.56 L156.85 505.17" fill="#fff" stroke="#1c1c1c" stroke-width="0.8" stroke-linejoin="round" />
<path d="M141.3 530.35 L141.6 527.08 L140.23 526.6" fill="#fff" stroke="#1c1c1c" stroke-width="0.8" stroke-linejoin="round" />
<line x1="140" y1="513.9" x2="156" y2="518.3" stroke="#1c1c1c" stroke-width="0.85"/>
<path d="M72.5 541.9 L72.25 548.1 L361.9 624.75 L363.1 618.75" fill="none" stroke="#1c1c1c" stroke-width="0.9" stroke-linejoin="round" />
<path d="M130 538.75 L129.1 544.4 L315.6 594 L316.9 588.1" fill="none" stroke="#1c1c1c" stroke-width="0.9" stroke-linejoin="round" />
<line x1="165" y1="523" x2="336" y2="566" stroke="#1c1c1c" stroke-width="0.85"/>
<line x1="204" y1="427.4" x2="206" y2="427.9" stroke="#1c1c1c" stroke-width="0.85"/>
<line x1="214" y1="430.3" x2="231" y2="435" stroke="#1c1c1c" stroke-width="0.85"/>
<line x1="240" y1="437.4" x2="281.5" y2="448.2" stroke="#1c1c1c" stroke-width="0.85"/>
<line x1="305" y1="557.5" x2="380" y2="576.6" stroke="#1c1c1c" stroke-width="0.85"/>
<line x1="335" y1="540" x2="466" y2="572.2" stroke="#1c1c1c" stroke-width="0.85"/>
<path d="M183.52 545.19 L169.74 541.75 L168.49 541.18 L167.39 540.13 L166.47 538.62 L165.76 536.71 L165.26 534.42 L165 531.82 L164.98 528.97 L165.2 525.95 L165.65 522.82 L166.33 519.67 L167.21 516.57 L168.28 513.6 L169.5 510.83 L170.86 508.32 L172.31 506.15 L173.82 504.36 L175.35 503 L176.87 502.11 L178.33 501.7 L179.71 501.78 L193.48 505.21" fill="#fff" stroke="#1c1c1c" stroke-width="0.9" stroke-linejoin="round" />
<path d="M191.46 435.21 L179.23 432.17 L178.44 431.8 L177.75 431.14 L177.17 430.19 L176.72 428.98 L176.4 427.54 L176.24 425.9 L176.23 424.1 L176.36 422.19 L176.65 420.22 L177.08 418.23 L177.63 416.27 L178.31 414.4 L179.08 412.65 L179.94 411.07 L180.85 409.7 L181.8 408.57 L182.77 407.71 L183.73 407.15 L184.65 406.89 L185.52 406.94 L197.74 409.99" fill="#fff" stroke="#1c1c1c" stroke-width="0.9" stroke-linejoin="round" />
<path d="M177.3 433 L180 450 L178.5 470 L176.5 482 L174.5 500 L169.5 514 L166.8 521 L186 512 L191.8 506 L190 500 L189 480 L190.5 470 L192.2 452 L194.5 437 Z" fill="#fff" stroke="none"/>
<path d="M177.3 433 L180 450 L178.5 470 L176.5 482 L174.5 500 L169.5 514 L166.8 521" fill="none" stroke="#1c1c1c" stroke-width="0.9" stroke-linejoin="round" />
<path d="M191.8 506 L190 500 L189 480 L190.5 470 L192.2 452 L194.5 437" fill="none" stroke="#1c1c1c" stroke-width="0.9" stroke-linejoin="round" />
<path d="M180.5 436 L183 452 L181.5 471 L179.5 484 L178 500 L172 514 L169 521" fill="none" stroke="#1c1c1c" stroke-width="0.7" stroke-linejoin="round" />
<path d="M184.5 437 L186 453 L184.5 472 L183 486 L182 502 L180 512" fill="none" stroke="#1c1c1c" stroke-width="0.7" stroke-linejoin="round" />
<path d="M189.5 438.5 L188.8 455 L187.2 472 L186 486 L186.5 500 L188 507" fill="none" stroke="#1c1c1c" stroke-width="0.7" stroke-linejoin="round" />
<path d="M187.3 440 L188.2 462 C188.2 465 185 465 185 462 L186.5 441" fill="#fff" stroke="#1c1c1c" stroke-width="0.7" stroke-linejoin="round" />
<circle cx="186.6" cy="476" r="1.5" fill="#fff" stroke="#1c1c1c" stroke-width="0.7"/>
<path d="M186.12 433.88 L185.02 433.27 L184.13 432.06 L183.5 430.31 L183.16 428.1 L183.13 425.55 L183.4 422.79 L183.97 419.95 L184.8 417.17 L185.85 414.61 L187.08 412.37 L188.42 410.58 L189.8 409.33 L191.15 408.68 L192.41 408.66" fill="none" stroke="#1c1c1c" stroke-width="0.7" stroke-linejoin="round" />
<path d="M183.21 433.16 L182.11 432.55 L181.22 431.34 L180.59 429.58 L180.25 427.38 L180.21 424.83 L180.49 422.06 L181.05 419.22 L181.89 416.45 L182.94 413.88 L184.17 411.65 L185.51 409.86 L186.89 408.61 L188.24 407.95 L189.5 407.93" fill="none" stroke="#1c1c1c" stroke-width="0.7" stroke-linejoin="round" />
<path d="M179.55 543.94 L178.37 543.9 L177.27 543.5 L176.28 542.74 L175.41 541.64 L174.69 540.22 L174.11 538.5 L173.7 536.52 L173.47 534.31 L173.4 531.91 L173.52 529.37 L173.81 526.72 L174.26 524.03 L174.88 521.33 L175.65 518.68" fill="none" stroke="#1c1c1c" stroke-width="0.7" stroke-linejoin="round" />
<path d="M175.67 542.97 L174.49 542.93 L173.39 542.53 L172.4 541.77 L171.53 540.67 L170.8 539.25 L170.23 537.54 L169.82 535.56 L169.58 533.35 L169.52 530.95 L169.64 528.4 L169.92 525.76 L170.38 523.06 L171 520.36 L171.77 517.71" fill="none" stroke="#1c1c1c" stroke-width="0.7" stroke-linejoin="round" />
<ellipse cx="194.6" cy="422.6" rx="5.46" ry="13" transform="rotate(14 194.6 422.6)" fill="#fff" stroke="#1c1c1c" stroke-width="1.3" />
<ellipse cx="195.18" cy="422.75" rx="4.75" ry="11.3" transform="rotate(14 195.18 422.75)" fill="none" stroke="#1c1c1c" stroke-width="0.7" />
<ellipse cx="195.57" cy="422.84" rx="4.03" ry="9.6" transform="rotate(14 195.57 422.84)" fill="#fff" stroke="#1c1c1c" stroke-width="1.4" />
<ellipse cx="188.5" cy="525.2" rx="8.65" ry="20.6" transform="rotate(14 188.5 525.2)" fill="#fff" stroke="#1c1c1c" stroke-width="1.2" />
<ellipse cx="188.79" cy="525.27" rx="7.77" ry="18.5" transform="rotate(14 188.79 525.27)" fill="none" stroke="#1c1c1c" stroke-width="0.7" />
<ellipse cx="189.08" cy="525.35" rx="6.55" ry="15.6" transform="rotate(14 189.08 525.35)" fill="#fff" stroke="#1c1c1c" stroke-width="1.4" />
<path d="M190.14 509.53 L191.46 510.26 L192.52 511.72 L193.28 513.82 L193.69 516.47 L193.73 519.53 L193.4 522.84 L192.72 526.25 L191.72 529.58 L190.46 532.66 L188.98 535.34 L187.38 537.49 L185.72 538.99 L184.1 539.78 L182.59 539.8" fill="none" stroke="#1c1c1c" stroke-width="0.6" stroke-linejoin="round" />
<path d="M195.37 412.9 L196.18 413.35 L196.84 414.24 L197.3 415.54 L197.55 417.17 L197.58 419.05 L197.38 421.09 L196.96 423.19 L196.34 425.24 L195.56 427.13 L194.66 428.78 L193.67 430.1 L192.65 431.03 L191.65 431.51 L190.73 431.53" fill="none" stroke="#1c1c1c" stroke-width="0.6" stroke-linejoin="round" />
<line x1="176" y1="422.6" x2="204.5" y2="427.6" stroke="#1c1c1c" stroke-width="0.85"/>
<line x1="165" y1="521.5" x2="184.5" y2="526.4" stroke="#1c1c1c" stroke-width="0.85"/>
<line x1="195.5" y1="529.2" x2="204" y2="531.4" stroke="#1c1c1c" stroke-width="0.85"/>
<path d="M261.23 452.71 L245.22 448.72 L244.62 448.44 L244.1 447.94 L243.66 447.23 L243.32 446.32 L243.09 445.23 L242.97 443.99 L242.96 442.64 L243.06 441.2 L243.27 439.71 L243.6 438.21 L244.02 436.74 L244.52 435.32 L245.11 434 L245.75 432.81 L246.44 431.78 L247.16 430.93 L247.89 430.28 L248.61 429.86 L249.31 429.66 L249.96 429.7 L265.97 433.69" fill="#fff" stroke="#1c1c1c" stroke-width="1.0" stroke-linejoin="round" />
<line x1="258.67" y1="452.07" x2="246.82" y2="449.12" stroke="#1a1a1a" stroke-width="1.45"/>
<line x1="257.64" y1="451.4" x2="245.79" y2="448.45" stroke="#1a1a1a" stroke-width="1.45"/>
<line x1="256.88" y1="450.02" x2="245.04" y2="447.07" stroke="#1a1a1a" stroke-width="1.45"/>
<line x1="256.47" y1="448.04" x2="244.62" y2="445.08" stroke="#1a1a1a" stroke-width="1.45"/>
<line x1="256.42" y1="445.61" x2="244.57" y2="442.65" stroke="#1a1a1a" stroke-width="1.45"/>
<line x1="256.75" y1="442.93" x2="244.9" y2="439.98" stroke="#1a1a1a" stroke-width="1.45"/>
<line x1="257.42" y1="440.22" x2="245.58" y2="437.27" stroke="#1a1a1a" stroke-width="1.45"/>
<line x1="258.39" y1="437.71" x2="246.54" y2="434.75" stroke="#1a1a1a" stroke-width="1.45"/>
<line x1="259.57" y1="435.58" x2="247.73" y2="432.63" stroke="#1a1a1a" stroke-width="1.45"/>
<line x1="260.87" y1="434.02" x2="249.03" y2="431.07" stroke="#1a1a1a" stroke-width="1.45"/>
<line x1="262.19" y1="433.16" x2="250.34" y2="430.2" stroke="#1a1a1a" stroke-width="1.45"/>
<line x1="263.41" y1="433.05" x2="251.56" y2="430.1" stroke="#1a1a1a" stroke-width="1.45"/>
<path d="M259.47 452.27 L258.73 451.89 L258.12 451.16 L257.65 450.11 L257.34 448.78 L257.2 447.22 L257.24 445.48 L257.46 443.64 L257.85 441.77 L258.38 439.93 L259.06 438.2 L259.84 436.65 L260.69 435.33 L261.59 434.3 L262.5 433.59 L263.39 433.24 L264.21 433.25" fill="none" stroke="#1c1c1c" stroke-width="1.7" stroke-linejoin="round" />
<path d="M246.82 449.12 L246.09 448.74 L245.47 448.01 L245 446.96 L244.69 445.63 L244.55 444.06 L244.59 442.33 L244.81 440.49 L245.2 438.61 L245.74 436.78 L246.41 435.05 L247.19 433.5 L248.04 432.18 L248.94 431.15 L249.85 430.44 L250.74 430.09 L251.56 430.1" fill="none" stroke="#1c1c1c" stroke-width="1.5" stroke-linejoin="round" />
<path d="M245.22 448.72 L244.49 448.34 L243.87 447.61 L243.4 446.56 L243.09 445.23 L242.95 443.66 L242.99 441.93 L243.21 440.09 L243.6 438.21 L244.14 436.38 L244.81 434.65 L245.59 433.1 L246.44 431.78 L247.34 430.75 L248.25 430.04 L249.14 429.69 L249.96 429.7" fill="none" stroke="#1c1c1c" stroke-width="1.0" stroke-linejoin="round" />
<ellipse cx="263.6" cy="443.2" rx="4.12" ry="9.8" transform="rotate(14 263.6 443.2)" fill="#fff" stroke="#1c1c1c" stroke-width="1.3" />
<ellipse cx="263.6" cy="443.2" rx="3.29" ry="7.84" transform="rotate(14 263.6 443.2)" fill="#fff" stroke="#1c1c1c" stroke-width="1.0" />
<g clip-path="url(#cl4)">
<line x1="266.49" y1="445.07" x2="250.48" y2="441.08" stroke="#1c1c1c" stroke-width="0.8"/>
<line x1="265.72" y1="447.08" x2="249.71" y2="443.09" stroke="#1c1c1c" stroke-width="0.8"/>
<line x1="264.77" y1="448.78" x2="248.76" y2="444.79" stroke="#1c1c1c" stroke-width="0.8"/>
<line x1="263.73" y1="450.03" x2="247.72" y2="446.04" stroke="#1c1c1c" stroke-width="0.8"/>
<line x1="262.68" y1="450.72" x2="246.67" y2="446.73" stroke="#1c1c1c" stroke-width="0.8"/>
<line x1="261.7" y1="450.81" x2="245.69" y2="446.82" stroke="#1c1c1c" stroke-width="0.8"/>
<line x1="260.88" y1="450.27" x2="244.87" y2="446.28" stroke="#1c1c1c" stroke-width="0.8"/>
<line x1="260.28" y1="449.17" x2="244.27" y2="445.18" stroke="#1c1c1c" stroke-width="0.8"/>
<line x1="259.94" y1="447.58" x2="243.93" y2="443.59" stroke="#1c1c1c" stroke-width="0.8"/>
<line x1="259.91" y1="445.64" x2="243.9" y2="441.64" stroke="#1c1c1c" stroke-width="0.8"/>
<line x1="260.17" y1="443.49" x2="244.16" y2="439.5" stroke="#1c1c1c" stroke-width="0.8"/>
<line x1="260.71" y1="441.33" x2="244.7" y2="437.34" stroke="#1c1c1c" stroke-width="0.8"/>
<line x1="261.48" y1="439.32" x2="245.47" y2="435.32" stroke="#1c1c1c" stroke-width="0.8"/>
<line x1="262.43" y1="437.62" x2="246.42" y2="433.62" stroke="#1c1c1c" stroke-width="0.8"/>
<line x1="263.47" y1="436.37" x2="247.46" y2="432.38" stroke="#1c1c1c" stroke-width="0.8"/>
<line x1="264.52" y1="435.68" x2="248.51" y2="431.68" stroke="#1c1c1c" stroke-width="0.8"/>
<line x1="265.5" y1="435.59" x2="249.49" y2="431.6" stroke="#1c1c1c" stroke-width="0.8"/>
<line x1="266.32" y1="436.13" x2="250.31" y2="432.13" stroke="#1c1c1c" stroke-width="0.8"/>
<line x1="266.92" y1="437.23" x2="250.91" y2="433.24" stroke="#1c1c1c" stroke-width="0.8"/>
<line x1="267.26" y1="438.82" x2="251.25" y2="434.83" stroke="#1c1c1c" stroke-width="0.8"/>
<line x1="267.29" y1="440.76" x2="251.28" y2="436.77" stroke="#1c1c1c" stroke-width="0.8"/>
<line x1="267.03" y1="442.91" x2="251.02" y2="438.91" stroke="#1c1c1c" stroke-width="0.8"/>
<ellipse cx="254.79" cy="441" rx="3.29" ry="7.84" transform="rotate(14 254.79 441)" fill="none" stroke="#1c1c1c" stroke-width="0.7" />
</g>
<line x1="264" y1="443.6" x2="281.5" y2="448.2" stroke="#1c1c1c" stroke-width="0.85"/>
<path d="M252.39 555.78 L203.39 543.56 L202.73 543.26 L202.16 542.71 L201.67 541.92 L201.3 540.92 L201.04 539.72 L200.9 538.35 L200.89 536.86 L201.01 535.28 L201.24 533.64 L201.6 531.99 L202.06 530.36 L202.62 528.8 L203.26 527.35 L203.98 526.04 L204.74 524.9 L205.53 523.96 L206.33 523.25 L207.12 522.78 L207.89 522.56 L208.61 522.6 L257.61 534.82" fill="#fff" stroke="#1c1c1c" stroke-width="0.9" stroke-linejoin="round" />
<ellipse cx="255" cy="545.3" rx="4.54" ry="10.8" transform="rotate(14 255 545.3)" fill="#fff" stroke="#1c1c1c" stroke-width="0.9" />
<ellipse cx="255" cy="545.3" rx="3.86" ry="9.2" transform="rotate(14 255 545.3)" fill="none" stroke="#1c1c1c" stroke-width="0.6" />
<ellipse cx="255.3" cy="545.4" rx="1.43" ry="3.4" transform="rotate(14 255.3 545.4)" fill="#fff" stroke="#1c1c1c" stroke-width="0.9" />
<line x1="256" y1="545.8" x2="270" y2="549.4" stroke="#1c1c1c" stroke-width="0.85"/>
<path d="M287.9 567.53 L270.43 563.18 L269.68 562.83 L269.02 562.2 L268.47 561.29 L268.04 560.14 L267.74 558.76 L267.58 557.2 L267.57 555.49 L267.7 553.67 L267.97 551.78 L268.38 549.89 L268.91 548.02 L269.56 546.23 L270.29 544.56 L271.11 543.05 L271.98 541.75 L272.89 540.67 L273.81 539.85 L274.73 539.31 L275.61 539.06 L276.43 539.11 L293.9 543.47" fill="#fff" stroke="#1c1c1c" stroke-width="1.0" stroke-linejoin="round" />
<line x1="285.11" y1="566.83" x2="272.18" y2="563.61" stroke="#1a1a1a" stroke-width="1.45"/>
<line x1="283.8" y1="565.99" x2="270.88" y2="562.77" stroke="#1a1a1a" stroke-width="1.45"/>
<line x1="282.85" y1="564.24" x2="269.93" y2="561.02" stroke="#1a1a1a" stroke-width="1.45"/>
<line x1="282.32" y1="561.73" x2="269.4" y2="558.51" stroke="#1a1a1a" stroke-width="1.45"/>
<line x1="282.26" y1="558.66" x2="269.34" y2="555.43" stroke="#1a1a1a" stroke-width="1.45"/>
<line x1="282.68" y1="555.27" x2="269.75" y2="552.05" stroke="#1a1a1a" stroke-width="1.45"/>
<line x1="283.53" y1="551.84" x2="270.61" y2="548.62" stroke="#1a1a1a" stroke-width="1.45"/>
<line x1="284.76" y1="548.66" x2="271.83" y2="545.44" stroke="#1a1a1a" stroke-width="1.45"/>
<line x1="286.25" y1="545.97" x2="273.33" y2="542.75" stroke="#1a1a1a" stroke-width="1.45"/>
<line x1="287.9" y1="544" x2="274.97" y2="540.78" stroke="#1a1a1a" stroke-width="1.45"/>
<line x1="289.56" y1="542.9" x2="276.64" y2="539.68" stroke="#1a1a1a" stroke-width="1.45"/>
<line x1="291.11" y1="542.77" x2="278.18" y2="539.55" stroke="#1a1a1a" stroke-width="1.45"/>
<path d="M285.98 567.05 L285.05 566.58 L284.27 565.65 L283.68 564.32 L283.28 562.64 L283.11 560.66 L283.16 558.46 L283.44 556.13 L283.93 553.76 L284.61 551.44 L285.46 549.25 L286.44 547.29 L287.53 545.62 L288.67 544.32 L289.82 543.42 L290.94 542.97 L291.98 542.99" fill="none" stroke="#1c1c1c" stroke-width="1.7" stroke-linejoin="round" />
<path d="M272.18 563.61 L271.25 563.14 L270.48 562.21 L269.88 560.88 L269.49 559.2 L269.31 557.22 L269.36 555.02 L269.64 552.69 L270.13 550.32 L270.81 548 L271.66 545.81 L272.65 543.85 L273.73 542.18 L274.87 540.88 L276.02 539.98 L277.14 539.53 L278.18 539.55" fill="none" stroke="#1c1c1c" stroke-width="1.5" stroke-linejoin="round" />
<path d="M270.43 563.18 L269.51 562.7 L268.73 561.78 L268.13 560.45 L267.74 558.76 L267.57 556.78 L267.62 554.59 L267.89 552.26 L268.38 549.89 L269.06 547.56 L269.91 545.38 L270.9 543.41 L271.98 541.75 L273.12 540.44 L274.27 539.55 L275.39 539.1 L276.43 539.11" fill="none" stroke="#1c1c1c" stroke-width="1.0" stroke-linejoin="round" />
<ellipse cx="290.9" cy="555.5" rx="5.21" ry="12.4" transform="rotate(14 290.9 555.5)" fill="#fff" stroke="#1c1c1c" stroke-width="1.3" />
<ellipse cx="290.9" cy="555.5" rx="4.17" ry="9.92" transform="rotate(14 290.9 555.5)" fill="#fff" stroke="#1c1c1c" stroke-width="1.0" />
<g clip-path="url(#cl5)">
<line x1="294.56" y1="557.87" x2="277.09" y2="553.51" stroke="#1c1c1c" stroke-width="0.8"/>
<line x1="293.58" y1="560.42" x2="276.12" y2="556.06" stroke="#1c1c1c" stroke-width="0.8"/>
<line x1="292.38" y1="562.57" x2="274.92" y2="558.21" stroke="#1c1c1c" stroke-width="0.8"/>
<line x1="291.07" y1="564.14" x2="273.6" y2="559.79" stroke="#1c1c1c" stroke-width="0.8"/>
<line x1="289.74" y1="565.02" x2="272.27" y2="560.66" stroke="#1c1c1c" stroke-width="0.8"/>
<line x1="288.5" y1="565.13" x2="271.03" y2="560.77" stroke="#1c1c1c" stroke-width="0.8"/>
<line x1="287.46" y1="564.45" x2="269.99" y2="560.1" stroke="#1c1c1c" stroke-width="0.8"/>
<line x1="286.7" y1="563.05" x2="269.23" y2="558.7" stroke="#1c1c1c" stroke-width="0.8"/>
<line x1="286.27" y1="561.04" x2="268.81" y2="556.69" stroke="#1c1c1c" stroke-width="0.8"/>
<line x1="286.23" y1="558.58" x2="268.76" y2="554.23" stroke="#1c1c1c" stroke-width="0.8"/>
<line x1="286.56" y1="555.87" x2="269.09" y2="551.52" stroke="#1c1c1c" stroke-width="0.8"/>
<line x1="287.24" y1="553.13" x2="269.77" y2="548.78" stroke="#1c1c1c" stroke-width="0.8"/>
<line x1="288.22" y1="550.58" x2="270.75" y2="546.23" stroke="#1c1c1c" stroke-width="0.8"/>
<line x1="289.42" y1="548.43" x2="271.95" y2="544.08" stroke="#1c1c1c" stroke-width="0.8"/>
<line x1="290.73" y1="546.86" x2="273.27" y2="542.5" stroke="#1c1c1c" stroke-width="0.8"/>
<line x1="292.06" y1="545.98" x2="274.6" y2="541.63" stroke="#1c1c1c" stroke-width="0.8"/>
<line x1="293.3" y1="545.87" x2="275.83" y2="541.52" stroke="#1c1c1c" stroke-width="0.8"/>
<line x1="294.34" y1="546.55" x2="276.88" y2="542.19" stroke="#1c1c1c" stroke-width="0.8"/>
<line x1="295.1" y1="547.95" x2="277.64" y2="543.59" stroke="#1c1c1c" stroke-width="0.8"/>
<line x1="295.53" y1="549.96" x2="278.06" y2="545.6" stroke="#1c1c1c" stroke-width="0.8"/>
<line x1="295.57" y1="552.42" x2="278.11" y2="548.06" stroke="#1c1c1c" stroke-width="0.8"/>
<line x1="295.24" y1="555.13" x2="277.78" y2="550.77" stroke="#1c1c1c" stroke-width="0.8"/>
<ellipse cx="281.29" cy="553.1" rx="4.17" ry="9.92" transform="rotate(14 281.29 553.1)" fill="none" stroke="#1c1c1c" stroke-width="0.7" />
</g>
<ellipse cx="315.03" cy="558.66" rx="7.31" ry="17.4" transform="rotate(14 315.03 558.66)" fill="#fff" stroke="#1c1c1c" stroke-width="0.9" />
<ellipse cx="316" cy="558.9" rx="7.31" ry="17.4" transform="rotate(14 316 558.9)" fill="#fff" stroke="#1c1c1c" stroke-width="0.9" />
<ellipse cx="316" cy="558.9" rx="4.28" ry="10.2" transform="rotate(14 316 558.9)" fill="#fff" stroke="#1c1c1c" stroke-width="0.9" />
<path d="M323.14 545.04 L322.78 548.23 L324.07 548.82" fill="#fff" stroke="#1c1c1c" stroke-width="0.8" stroke-linejoin="round" />
<path d="M309.04 573.16 L309.33 570 L308 569.54" fill="#fff" stroke="#1c1c1c" stroke-width="0.8" stroke-linejoin="round" />
<line x1="290" y1="554.4" x2="336" y2="566" stroke="#1c1c1c" stroke-width="0.85"/>
<path d="M361.94 597.08 L344.69 590.62 L343.16 590.08 L341.71 589.25 L340.36 588.14 L339.1 586.75 L337.95 585.09 L336.92 583.17 L336 581.01 L335.22 578.61 L334.56 575.99 L334.04 573.17 L333.66 570.16 L333.42 566.99 L333.32 563.67 L333.37 560.22 L333.56 556.67 L333.89 553.03 L334.36 549.33 L334.97 545.59 L335.71 541.84 L336.57 538.09 L337.57 534.38 L338.68 530.72 L339.89 527.13 L341.22 523.65 L342.63 520.28 L344.13 517.05 L345.71 513.99 L347.36 511.1 L349.06 508.41 L350.81 505.93 L352.59 503.69 L354.4 501.68 L356.22 499.93 L358.04 498.45 L359.85 497.24 L361.65 496.32 L363.41 495.68 L365.13 495.33 L366.79 495.28 L368.4 495.53 L386.66 497.92" fill="#fff" stroke="#1c1c1c" stroke-width="0.9" stroke-linejoin="round" />
<path d="M330.6 556.6 L333.4 557.3 L333.6 561.2" fill="#fff" stroke="#1c1c1c" stroke-width="0.8" stroke-linejoin="round" />
<ellipse cx="374.3" cy="547.5" rx="21.46" ry="51.1" transform="rotate(14 374.3 547.5)" fill="#fff" stroke="#1c1c1c" stroke-width="0.9" />
<ellipse cx="374.88" cy="547.65" rx="19.57" ry="46.6" transform="rotate(14 374.88 547.65)" fill="none" stroke="#1c1c1c" stroke-width="0.8" />
<ellipse cx="373.72" cy="547.35" rx="18.65" ry="44.4" transform="rotate(14 373.72 547.35)" fill="none" stroke="#1c1c1c" stroke-width="0.7" />
<path d="M366.5 576.5 C371.5 573 380.5 571.5 385.5 573.5 C389 576 387 584 381.5 588.5 C376.5 591.5 368.5 591.5 366 589" fill="none" stroke="#1c1c1c" stroke-width="0.8" stroke-linejoin="round" />
<ellipse cx="373.14" cy="547.21" rx="9.91" ry="23.6" transform="rotate(14 373.14 547.21)" fill="#fff" stroke="#1c1c1c" stroke-width="0.8" />
<ellipse cx="374.59" cy="547.57" rx="9.53" ry="22.7" transform="rotate(14 374.59 547.57)" fill="#fff" stroke="#1c1c1c" stroke-width="1.0" />
<ellipse cx="375.27" cy="547.74" rx="8.23" ry="19.6" transform="rotate(14 375.27 547.74)" fill="none" stroke="#1c1c1c" stroke-width="0.7" />
<path d="M392.07 567.18 L370.72 561.86 L369.82 561.45 L369.03 560.69 L368.37 559.61 L367.86 558.23 L367.5 556.59 L367.32 554.72 L367.3 552.68 L367.46 550.51 L367.78 548.26 L368.27 546 L368.9 543.77 L369.67 541.63 L370.55 539.64 L371.53 537.84 L372.57 536.28 L373.65 535 L374.75 534.02 L375.84 533.38 L376.89 533.08 L377.88 533.14 L399.23 538.46" fill="#fff" stroke="#1c1c1c" stroke-width="0.9" stroke-linejoin="round" />
<ellipse cx="395.65" cy="552.82" rx="6.22" ry="14.8" transform="rotate(14 395.65 552.82)" fill="#fff" stroke="#1c1c1c" stroke-width="0.9" />
<path d="M393.86 568.25 L391.92 567.76 L390.99 567.34 L390.16 566.55 L389.48 565.43 L388.94 563.99 L388.57 562.28 L388.38 560.34 L388.36 558.21 L388.53 555.95 L388.87 553.61 L389.37 551.26 L390.03 548.94 L390.83 546.72 L391.75 544.64 L392.76 542.77 L393.84 541.15 L394.97 539.81 L396.12 538.8 L397.25 538.13 L398.34 537.82 L399.37 537.88 L401.31 538.36" fill="#fff" stroke="#1c1c1c" stroke-width="0.9" stroke-linejoin="round" />
<ellipse cx="397.59" cy="553.31" rx="6.47" ry="15.4" transform="rotate(14 397.59 553.31)" fill="#fff" stroke="#1c1c1c" stroke-width="0.9" />
<path d="M412.15 571.37 L394.69 567.01 L393.83 566.62 L393.09 565.91 L392.46 564.88 L391.98 563.58 L391.64 562.03 L391.47 560.26 L391.45 558.33 L391.6 556.27 L391.91 554.15 L392.37 552 L392.97 549.9 L393.69 547.88 L394.53 545.99 L395.45 544.29 L396.43 542.82 L397.46 541.6 L398.5 540.68 L399.53 540.07 L400.52 539.79 L401.46 539.84 L418.92 544.2" fill="#fff" stroke="#1c1c1c" stroke-width="1.0" stroke-linejoin="round" />
<line x1="410.5" y1="570.83" x2="396.91" y2="567.44" stroke="#1c1c1c" stroke-width="1.15"/>
<line x1="409.01" y1="570.46" x2="395.43" y2="567.07" stroke="#1c1c1c" stroke-width="1.15"/>
<line x1="407.8" y1="569.18" x2="394.22" y2="565.8" stroke="#1c1c1c" stroke-width="1.15"/>
<line x1="406.95" y1="567.09" x2="393.37" y2="563.7" stroke="#1c1c1c" stroke-width="1.15"/>
<line x1="406.52" y1="564.32" x2="392.94" y2="560.93" stroke="#1c1c1c" stroke-width="1.15"/>
<line x1="406.54" y1="561.06" x2="392.96" y2="557.67" stroke="#1c1c1c" stroke-width="1.15"/>
<line x1="407.01" y1="557.54" x2="393.43" y2="554.15" stroke="#1c1c1c" stroke-width="1.15"/>
<line x1="407.9" y1="553.99" x2="394.31" y2="550.61" stroke="#1c1c1c" stroke-width="1.15"/>
<line x1="409.14" y1="550.66" x2="395.55" y2="547.28" stroke="#1c1c1c" stroke-width="1.15"/>
<line x1="410.65" y1="547.78" x2="397.06" y2="544.39" stroke="#1c1c1c" stroke-width="1.15"/>
<line x1="412.33" y1="545.53" x2="398.74" y2="542.15" stroke="#1c1c1c" stroke-width="1.15"/>
<line x1="414.06" y1="544.08" x2="400.47" y2="540.7" stroke="#1c1c1c" stroke-width="1.15"/>
<line x1="415.73" y1="543.52" x2="402.14" y2="540.14" stroke="#1c1c1c" stroke-width="1.15"/>
<line x1="417.21" y1="543.89" x2="403.63" y2="540.51" stroke="#1c1c1c" stroke-width="1.15"/>
<path d="M410.21 570.88 L409.16 570.34 L408.28 569.3 L407.61 567.8 L407.17 565.9 L406.97 563.66 L407.03 561.18 L407.34 558.55 L407.89 555.88 L408.66 553.25 L409.62 550.79 L410.73 548.57 L411.96 546.69 L413.24 545.21 L414.54 544.2 L415.81 543.7 L416.98 543.71" fill="none" stroke="#1c1c1c" stroke-width="1.2" stroke-linejoin="round" />
<path d="M402.93 569.07 L401.88 568.53 L401.01 567.49 L400.33 565.99 L399.89 564.08 L399.69 561.85 L399.75 559.37 L400.06 556.74 L400.61 554.06 L401.38 551.44 L402.34 548.97 L403.46 546.75 L404.68 544.87 L405.97 543.4 L407.27 542.39 L408.53 541.88 L409.71 541.9" fill="none" stroke="#1c1c1c" stroke-width="1.2" stroke-linejoin="round" />
<path d="M395.17 567.13 L394.12 566.59 L393.24 565.55 L392.57 564.05 L392.13 562.15 L391.93 559.91 L391.99 557.43 L392.3 554.8 L392.85 552.13 L393.62 549.5 L394.58 547.04 L395.7 544.82 L396.92 542.94 L398.2 541.46 L399.5 540.45 L400.77 539.95 L401.94 539.96" fill="none" stroke="#1c1c1c" stroke-width="1.2" stroke-linejoin="round" />
<ellipse cx="415.54" cy="557.78" rx="5.88" ry="14" transform="rotate(14 415.54 557.78)" fill="#fff" stroke="#1c1c1c" stroke-width="1.1" />
<path d="M413.46 570.25 L413.46 570.25 L412.23 569.5 L411.3 567.97 L410.72 565.76 L410.54 563.03 L410.76 559.95 L411.37 556.74 L412.34 553.62 L413.59 550.8 L415.03 548.47 L416.58 546.8 L418.12 545.88 L419.56 545.8 L446.31 556.28 L446.31 556.28 L447.18 556.81 L447.84 557.89 L448.25 559.45 L448.38 561.38 L448.22 563.56 L447.79 565.82 L447.11 568.03 L446.23 570.02 L445.2 571.66 L444.11 572.85 L443.02 573.49 L442.01 573.55 Z" fill="#fff" stroke="#1c1c1c" stroke-width="0.9" stroke-linejoin="round" />
<ellipse cx="444.16" cy="564.92" rx="3.74" ry="8.9" transform="rotate(14 444.16 564.92)" fill="#fff" stroke="#1c1c1c" stroke-width="0.9" />
<path d="M418.99 570.8 L417.84 570.1 L416.97 568.67 L416.43 566.6 L416.25 564.04 L416.46 561.16 L417.04 558.16 L417.94 555.23 L419.11 552.59 L420.46 550.41 L421.91 548.84 L423.36 547.98 L424.7 547.9" fill="none" stroke="#1c1c1c" stroke-width="0.7" stroke-linejoin="round" />
<path d="M423.02 571.19 L421.93 570.52 L421.1 569.16 L420.58 567.2 L420.42 564.77 L420.62 562.04 L421.16 559.18 L422.02 556.41 L423.13 553.9 L424.41 551.83 L425.79 550.34 L427.16 549.53 L428.44 549.45" fill="none" stroke="#1c1c1c" stroke-width="0.7" stroke-linejoin="round" />
<path d="M428.5 562.6 L436.5 564.6 L436.3 566.9 L428.3 565 Z" fill="#333" stroke="#1c1c1c" stroke-width="0.5" stroke-linejoin="round" />
<path d="M444.26 574.84 L442.13 574.31 L441.55 574.04 L441.03 573.55 L440.61 572.85 L440.27 571.95 L440.04 570.89 L439.92 569.68 L439.91 568.35 L440.01 566.94 L440.23 565.48 L440.54 564.02 L440.95 562.57 L441.45 561.18 L442.02 559.89 L442.65 558.73 L443.33 557.71 L444.03 556.88 L444.75 556.25 L445.45 555.83 L446.13 555.64 L446.77 555.68 L448.91 556.21" fill="#fff" stroke="#1c1c1c" stroke-width="0.9" stroke-linejoin="round" />
<ellipse cx="446.59" cy="565.52" rx="4.03" ry="9.6" transform="rotate(14 446.59 565.52)" fill="#fff" stroke="#1c1c1c" stroke-width="0.9" />
<path d="M454.62 574.64 L444.92 572.22 L444.5 572.03 L444.13 571.67 L443.82 571.17 L443.58 570.53 L443.42 569.76 L443.33 568.89 L443.32 567.94 L443.4 566.93 L443.55 565.88 L443.78 564.82 L444.07 563.78 L444.43 562.79 L444.84 561.86 L445.29 561.02 L445.78 560.29 L446.28 559.69 L446.8 559.24 L447.31 558.94 L447.8 558.8 L448.26 558.83 L457.96 561.25" fill="#fff" stroke="#1c1c1c" stroke-width="0.9" stroke-linejoin="round" />
<ellipse cx="456.29" cy="567.94" rx="2.9" ry="6.9" transform="rotate(14 456.29 567.94)" fill="#fff" stroke="#1c1c1c" stroke-width="0.9" />
<ellipse cx="456.58" cy="568.01" rx="1.43" ry="3.4" transform="rotate(14 456.58 568.01)" fill="#fff" stroke="#1c1c1c" stroke-width="0.8" />
<line x1="335" y1="540" x2="372" y2="549" stroke="#1c1c1c" stroke-width="0.85"/>
<line x1="457.5" y1="570.2" x2="466" y2="572.2" stroke="#1c1c1c" stroke-width="0.85"/>
<line x1="421" y1="562" x2="446" y2="568" stroke="#1c1c1c" stroke-width="0.6"/>
<line x1="336" y1="565.5" x2="380" y2="576.8" stroke="#1c1c1c" stroke-width="0.85"/>
<path d="M440.4 536.4 L449.8 538.5 L449.5 541.7 L440.1 539.6 Z" fill="#fff" stroke="#1c1c1c" stroke-width="0.9" stroke-linejoin="round" />
<line x1="50" y1="376.6" x2="168.45" y2="413.94" stroke="#1c1c1c" stroke-width="0.9"/>
<path d="M175.6 416.2 L165.97 415.16 L167.11 411.53 Z" fill="#111" stroke="#1c1c1c" stroke-width="0.3" stroke-linejoin="round" />
<text x="33" y="376" font-size="12.6" fill="#383838" >63</text>
<line x1="50" y1="413" x2="92.46" y2="432.12" stroke="#1c1c1c" stroke-width="0.9"/>
<path d="M99.3 435.2 L89.86 433.03 L91.42 429.57 Z" fill="#111" stroke="#1c1c1c" stroke-width="0.3" stroke-linejoin="round" />
<text x="33" y="414" font-size="12.6" fill="#383838" >64</text>
<line x1="295" y1="412.5" x2="274.62" y2="429.07" stroke="#1c1c1c" stroke-width="0.9"/>
<path d="M268.8 433.8 L274.97 426.33 L277.37 429.28 Z" fill="#111" stroke="#1c1c1c" stroke-width="0.3" stroke-linejoin="round" />
<text x="293" y="408.2" font-size="12.6" fill="#383838" >65</text>
<line x1="286" y1="469.5" x2="242.41" y2="521.74" stroke="#1c1c1c" stroke-width="0.9"/>
<path d="M237.6 527.5 L242.23 518.99 L245.15 521.42 Z" fill="#111" stroke="#1c1c1c" stroke-width="0.3" stroke-linejoin="round" />
<text x="283" y="465.8" font-size="12.6" fill="#383838" >66</text>
<line x1="319.5" y1="469.5" x2="287.29" y2="530.86" stroke="#1c1c1c" stroke-width="0.9"/>
<path d="M283.8 537.5 L286.53 528.21 L289.9 529.97 Z" fill="#111" stroke="#1c1c1c" stroke-width="0.3" stroke-linejoin="round" />
<text x="316.5" y="462" font-size="12.6" fill="#383838" >67</text>
<line x1="350" y1="470" x2="324.04" y2="533.56" stroke="#1c1c1c" stroke-width="0.9"/>
<path d="M321.2 540.5 L323.03 530.99 L326.55 532.42 Z" fill="#111" stroke="#1c1c1c" stroke-width="0.3" stroke-linejoin="round" />
<text x="345" y="461.2" font-size="12.6" fill="#383838" >68</text>
<line x1="386" y1="470" x2="381.35" y2="488.23" stroke="#1c1c1c" stroke-width="0.9"/>
<path d="M379.5 495.5 L380.01 485.83 L383.69 486.76 Z" fill="#111" stroke="#1c1c1c" stroke-width="0.3" stroke-linejoin="round" />
<text x="381.8" y="463" font-size="12.6" fill="#383838" >69</text>
<line x1="460" y1="496" x2="450.16" y2="528.82" stroke="#1c1c1c" stroke-width="0.9"/>
<path d="M448 536 L448.91 526.35 L452.55 527.45 Z" fill="#111" stroke="#1c1c1c" stroke-width="0.3" stroke-linejoin="round" />
<text x="455.5" y="491" font-size="12.6" fill="#383838" >70</text>
<line x1="137" y1="615.6" x2="185.87" y2="567.18" stroke="#1c1c1c" stroke-width="0.9"/>
<path d="M191.2 561.9 L185.79 569.94 L183.11 567.24 Z" fill="#111" stroke="#1c1c1c" stroke-width="0.3" stroke-linejoin="round" />
<text x="126.5" y="627" font-size="12.6" fill="#383838" >71E</text>
<line x1="164.7" y1="645.4" x2="212.99" y2="593.59" stroke="#1c1c1c" stroke-width="0.9"/>
<path d="M218.1 588.1 L213.01 596.35 L210.23 593.75 Z" fill="#111" stroke="#1c1c1c" stroke-width="0.3" stroke-linejoin="round" />
<text x="156" y="659.4" font-size="12.6" fill="#383838" >72F</text>
<g stroke="#111" fill="#fff" stroke-width="0.8" stroke-linejoin="miter">
<path d="M553.3 640.8 L558.6 640.8 L558.6 654.5 L568.4 640.8 L651.9 640.8 L650.8 642.3 L571.3 642.3 L557.6 661.4 L553.3 661.4 Z"/>
<path d="M553.3 661.4 L553.3 662.9 L578 662.9" fill="none"/>
<path d="M634.1 663.1 L654.4 663.1 L654.4 640.7 L652.6 640.7 Z"/>
<path d="M638.2 663.1 L654.4 643.48" fill="none" stroke-width="0.7"/>
<path d="M642.3 663.1 L654.4 648.45" fill="none" stroke-width="0.7"/>
<path d="M646.4 663.1 L654.4 653.41" fill="none" stroke-width="0.7"/>
<path d="M650.5 663.1 L654.4 658.38" fill="none" stroke-width="0.7"/>
<path d="M615.4 660.9 L633.2 660.9 L631.6 663.1 L615 663.1 Z" stroke-width="0.6"/>
</g>
<path d="M571.5 643.9 L648.6 643.9" stroke="#111" stroke-width="1.2" fill="none"/>
<path d="M561.2 658.8 L635.5 658.8" stroke="#111" stroke-width="1.3" fill="none"/>
<path d="M578.6 660.7 L614.4 660.7 L613.6 663.2 L577.6 663.2 Z" fill="#1a1a1a"/>
<path d="M581.5 661.3 L583 661.3 L582.6 662.6 L581.1 662.6 Z" fill="#ddd"/>
<path d="M586.1 661.3 L587.6 661.3 L587.2 662.6 L585.7 662.6 Z" fill="#ddd"/>
<path d="M590.7 661.3 L592.2 661.3 L591.8 662.6 L590.3 662.6 Z" fill="#ddd"/>
<path d="M595.3 661.3 L596.8 661.3 L596.4 662.6 L594.9 662.6 Z" fill="#ddd"/>
<path d="M599.9 661.3 L601.4 661.3 L601 662.6 L599.5 662.6 Z" fill="#ddd"/>
<path d="M604.5 661.3 L606 661.3 L605.6 662.6 L604.1 662.6 Z" fill="#ddd"/>
<path d="M609.1 661.3 L610.6 661.3 L610.2 662.6 L608.7 662.6 Z" fill="#ddd"/>
<text x="566" y="655.6" font-size="13.9" font-weight="bold" font-style="italic" textLength="74.5" lengthAdjust="spacingAndGlyphs" fill="#fff" stroke="#111" stroke-width="1.15" paint-order="stroke">ORTEX</text>
<g stroke="#111" stroke-width="0.85" fill="#fff" stroke-linejoin="round">
<path d="M685.9 656.6 L728.2 656.6 L736 666.3 L693.1 666.3 Z"/>
<path d="M736 666.3 L767.4 666.3" fill="none"/>
<path d="M687.7 659 L730 659 M690.5 662.6 L733 662.6" fill="none" stroke-width="0.6"/>
<path d="M697.6 660.6 L705 660.6 L708.6 666.2 L701.2 666.2 Z" fill="#111"/>
<path d="M705.5 657 L711.5 657 L714 660.6 L708 660.6 Z" fill="#111" stroke-width="0.4"/>
<path d="M747.5 650 L754.6 649.3 L767.4 666.2 L759.8 666.2 Z"/>
<path d="M745.6 659.8 L761.6 659.8" stroke-width="1.2" fill="none"/>
<path d="M734.5 659.8 L734.5 633.5 C734.6 629.5 736 626.8 738 626.5 C739.6 627.2 741 629.6 741.6 631 L745.4 638.3 L745.4 659.8" />
<path d="M737.7 629 L737.7 659.8" fill="none" stroke-width="0.7"/>
<path d="M679.6 637.3 L698.5 637.3 C702.6 637.6 704 640.5 704 644 L704 651 L681 651 L679.6 649 Z"/>
<path d="M683.2 641.4 L691.8 641.4 L696.7 648.1 L688.6 648.1 Z" stroke-width="1.25"/>
<rect x="707.5" y="642.7" width="24.3" height="11" rx="4.2" ry="4.2"/>
<rect x="714.7" y="646.7" width="9.2" height="5.4" rx="2.2" ry="2.2"/>
<path d="M753.9 642.5 L762.5 642.5 L733.6 663.6 L725 663.6 Z" fill="#111"/>
<path d="M682.6 649.9 L723 649.9 C725.4 650 726.6 651.2 727.4 653 L728.2 655 C728.4 656 727.6 656.6 726.6 656.6 L687.6 656.6 C685.6 656.5 684.6 655.6 683.8 654 L681.6 651.4 C681.2 650.4 681.6 649.9 682.6 649.9 Z"/>
</g>
<text x="685.2" y="655.4" font-size="5.3" font-weight="bold" textLength="36" lengthAdjust="spacingAndGlyphs" fill="#111" stroke="#111" stroke-width="0.25">SUPER</text>
<path d="M782.9 649.7 C782.9 646.6 784.4 644.7 786.5 644.7 C788.7 644.7 790.1 646.5 790.1 649 C790.1 652 787.8 655 782.9 661.1 L790.5 661.1" fill="none" stroke="#555" stroke-width="0.95" stroke-linejoin="round" />
</svg>
</body></html>
